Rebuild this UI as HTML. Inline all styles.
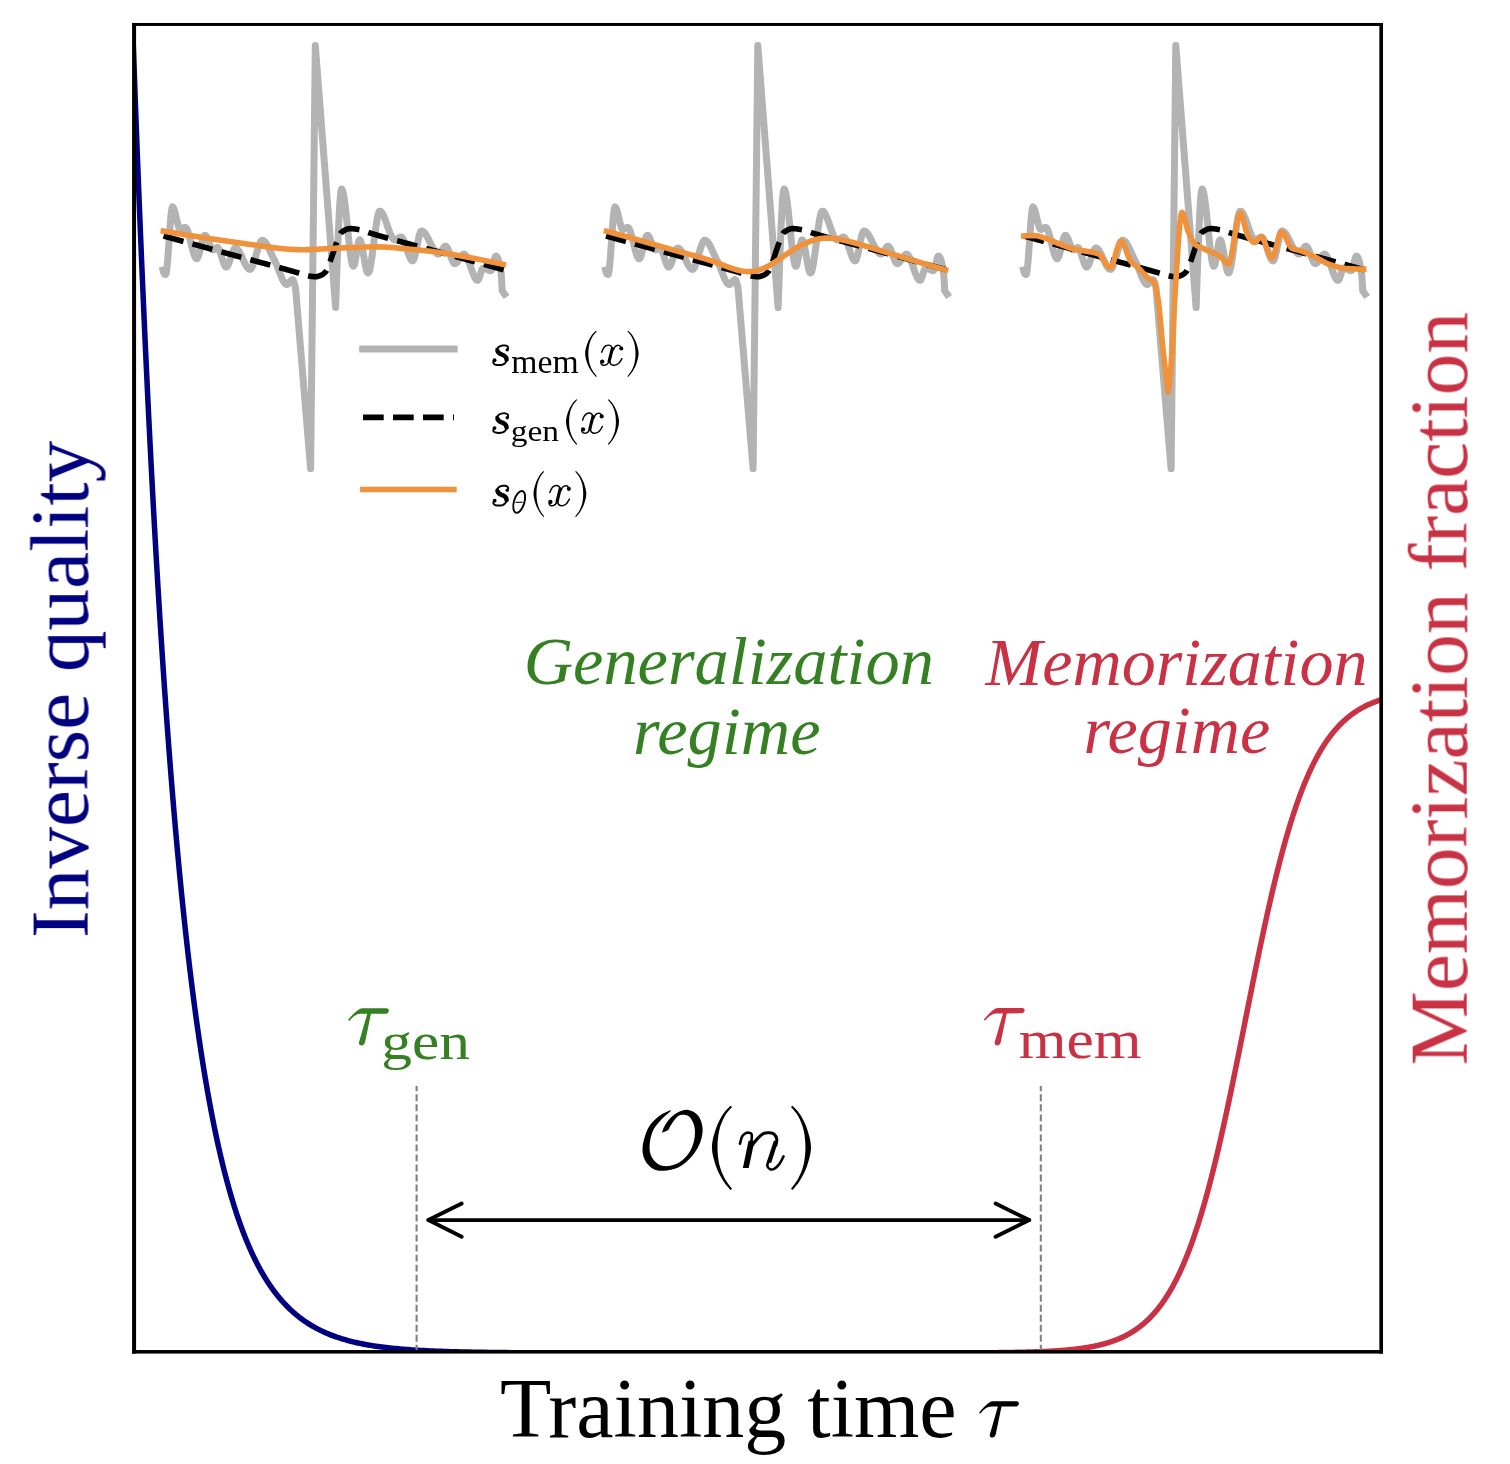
<!DOCTYPE html><html><head><meta charset="utf-8"><style>html,body{margin:0;padding:0;background:#fff;}svg{display:block;}text{will-change:transform;}</style></head><body>
<svg width="1510" height="1464" viewBox="0 0 1510 1464" font-family="&quot;Liberation Serif&quot;, serif">
<rect width="1510" height="1464" fill="#fff"/>
<defs><clipPath id="ax"><rect x="134.00" y="24.45" width="1247.00" height="1327.30"/></clipPath></defs>
<g clip-path="url(#ax)" fill="none" stroke-linejoin="round">
<path d="M163.00 270.00 L163.50 272.03 L164.00 273.33 L164.50 274.08 L165.00 274.41 L165.50 274.50 L166.00 273.85 L166.50 271.35 L167.00 267.29 L167.50 261.96 L168.00 255.68 L168.50 248.75 L169.00 241.48 L169.50 234.18 L170.00 227.16 L170.50 220.73 L171.00 215.18 L171.50 210.84 L172.00 208.01 L172.50 207.00 L173.00 207.27 L173.50 208.01 L174.00 209.18 L174.50 210.68 L175.00 212.45 L175.50 214.42 L176.00 216.53 L176.50 218.68 L177.00 220.83 L177.50 222.88 L178.00 224.78 L178.50 226.46 L179.00 227.83 L179.50 228.84 L180.00 229.40 L180.50 229.49 L181.00 229.38 L181.50 229.18 L182.00 228.92 L182.50 228.61 L183.00 228.29 L183.50 227.98 L184.00 227.72 L184.50 227.52 L185.00 227.41 L185.50 227.46 L186.00 227.83 L186.50 228.51 L187.00 229.47 L187.50 230.67 L188.00 232.08 L188.50 233.67 L189.00 235.42 L189.50 237.29 L190.00 239.24 L190.50 241.26 L191.00 243.30 L191.50 245.35 L192.00 247.35 L192.50 249.29 L193.00 251.14 L193.50 252.86 L194.00 254.42 L194.50 255.79 L195.00 256.94 L195.50 257.85 L196.00 258.47 L196.50 258.77 L197.00 258.71 L197.50 258.17 L198.00 257.22 L198.50 255.90 L199.00 254.29 L199.50 252.45 L200.00 250.45 L200.50 248.34 L201.00 246.19 L201.50 244.07 L202.00 242.04 L202.50 240.16 L203.00 238.50 L203.50 237.12 L204.00 236.09 L204.50 235.46 L205.00 235.31 L205.50 235.52 L206.00 236.02 L206.50 236.75 L207.00 237.68 L207.50 238.77 L208.00 239.98 L208.50 241.27 L209.00 242.60 L209.50 243.93 L210.00 245.22 L210.50 246.43 L211.00 247.52 L211.50 248.45 L212.00 249.18 L212.50 249.68 L213.00 249.89 L213.50 249.84 L214.00 249.60 L214.50 249.25 L215.00 248.83 L215.50 248.40 L216.00 248.00 L216.50 247.69 L217.00 247.52 L217.50 247.56 L218.00 247.93 L218.50 248.60 L219.00 249.53 L219.50 250.67 L220.00 251.99 L220.50 253.44 L221.00 254.99 L221.50 256.60 L222.00 258.22 L222.50 259.82 L223.00 261.36 L223.50 262.79 L224.00 264.07 L224.50 265.18 L225.00 266.05 L225.50 266.66 L226.00 266.97 L226.50 266.94 L227.00 266.59 L227.50 265.97 L228.00 265.10 L228.50 264.03 L229.00 262.79 L229.50 261.42 L230.00 259.95 L230.50 258.43 L231.00 256.88 L231.50 255.35 L232.00 253.87 L232.50 252.47 L233.00 251.20 L233.50 250.10 L234.00 249.19 L234.50 248.51 L235.00 248.10 L235.50 248.00 L236.00 248.11 L236.50 248.35 L237.00 248.71 L237.50 249.20 L238.00 249.79 L238.50 250.48 L239.00 251.26 L239.50 252.12 L240.00 253.03 L240.50 254.01 L241.00 255.03 L241.50 256.09 L242.00 257.17 L242.50 258.26 L243.00 259.36 L243.50 260.45 L244.00 261.53 L244.50 262.58 L245.00 263.59 L245.50 264.55 L246.00 265.46 L246.50 266.30 L247.00 267.06 L247.50 267.73 L248.00 268.31 L248.50 268.77 L249.00 269.11 L249.50 269.33 L250.00 269.40 L250.50 269.26 L251.00 268.85 L251.50 268.20 L252.00 267.33 L252.50 266.27 L253.00 265.04 L253.50 263.65 L254.00 262.14 L254.50 260.53 L255.00 258.85 L255.50 257.11 L256.00 255.33 L256.50 253.56 L257.00 251.79 L257.50 250.07 L258.00 248.41 L258.50 246.84 L259.00 245.38 L259.50 244.05 L260.00 242.88 L260.50 241.89 L261.00 241.11 L261.50 240.55 L262.00 240.25 L262.50 240.21 L263.00 240.32 L263.50 240.55 L264.00 240.89 L264.50 241.33 L265.00 241.87 L265.50 242.49 L266.00 243.19 L266.50 243.97 L267.00 244.82 L267.50 245.72 L268.00 246.68 L268.50 247.67 L269.00 248.71 L269.50 249.77 L270.00 250.86 L270.50 251.96 L271.00 253.07 L271.50 254.19 L272.00 255.29 L272.50 256.38 L273.00 257.45 L273.50 258.49 L274.00 259.49 L274.50 260.45 L275.00 261.37 L275.50 262.36 L276.00 263.42 L276.50 264.56 L277.00 265.75 L277.50 267.00 L278.00 268.28 L278.50 269.58 L279.00 270.89 L279.50 272.21 L280.00 273.52 L280.50 274.81 L281.00 276.06 L281.50 277.27 L282.00 278.43 L282.50 279.52 L283.00 280.53 L283.50 281.45 L284.00 282.28 L284.50 282.99 L285.00 283.57 L285.50 284.03 L286.00 284.34 L286.50 284.49 L287.00 284.46 L287.50 284.25 L288.00 283.87 L288.50 283.38 L289.00 282.80 L289.50 282.18 L290.00 281.55 L290.50 280.95 L291.00 280.41 L291.50 279.99 L292.00 279.70 L292.50 279.60 L293.00 279.92 L293.50 280.80 L294.00 282.12 L294.50 283.75 L295.00 285.59 L295.50 287.50 L310.60 468.60 L315.30 45.40 L335.60 307.60 L336.10 293.24 L336.60 278.93 L337.10 264.92 L337.60 251.41 L338.10 238.65 L338.60 226.85 L339.10 216.25 L339.60 207.06 L340.10 199.53 L340.60 193.88 L341.10 190.32 L341.60 189.10 L342.10 189.51 L342.60 190.68 L343.10 192.55 L343.60 195.04 L344.11 198.07 L344.61 201.59 L345.11 205.51 L345.61 209.78 L346.11 214.31 L346.61 219.04 L347.11 223.89 L347.61 228.80 L348.11 233.70 L348.61 238.51 L349.11 243.16 L349.61 247.59 L350.11 251.71 L350.61 255.47 L351.11 258.79 L351.61 261.60 L352.11 263.83 L352.61 265.41 L353.11 266.26 L353.61 266.31 L354.11 265.43 L354.61 263.75 L355.11 261.44 L355.61 258.66 L356.11 255.58 L356.61 252.38 L357.11 249.21 L357.61 246.24 L358.11 243.65 L358.61 241.60 L359.11 240.26 L359.61 239.80 L360.11 240.16 L360.62 241.14 L361.12 242.65 L361.62 244.62 L362.12 246.95 L362.62 249.57 L363.12 252.38 L363.62 255.31 L364.12 258.28 L364.62 261.18 L365.12 263.96 L365.62 266.51 L366.12 268.75 L366.62 270.60 L367.12 271.98 L367.62 272.80 L368.12 272.98 L368.62 272.51 L369.12 271.43 L369.62 269.82 L370.12 267.72 L370.62 265.19 L371.12 262.30 L371.62 259.09 L372.12 255.62 L372.62 251.95 L373.12 248.13 L373.62 244.23 L374.12 240.30 L374.62 236.39 L375.12 232.56 L375.62 228.87 L376.12 225.38 L376.62 222.13 L377.12 219.20 L377.63 216.63 L378.13 214.49 L378.63 212.82 L379.13 211.68 L379.63 211.14 L380.13 211.14 L380.63 211.35 L381.13 211.74 L381.63 212.29 L382.13 212.98 L382.63 213.80 L383.13 214.75 L383.63 215.80 L384.13 216.95 L384.63 218.18 L385.13 219.48 L385.63 220.84 L386.13 222.24 L386.63 223.66 L387.13 225.11 L387.63 226.56 L388.13 228.00 L388.63 229.42 L389.13 230.81 L389.63 232.15 L390.13 233.42 L390.63 234.63 L391.13 235.75 L391.63 236.77 L392.13 237.68 L392.63 238.46 L393.13 239.11 L393.63 239.60 L394.14 239.93 L394.64 240.09 L395.14 240.07 L395.64 239.95 L396.14 239.73 L396.64 239.45 L397.14 239.11 L397.64 238.75 L398.14 238.37 L398.64 238.01 L399.14 237.67 L399.64 237.38 L400.14 237.16 L400.64 237.03 L401.14 237.01 L401.64 237.21 L402.14 237.65 L402.64 238.30 L403.14 239.14 L403.64 240.15 L404.14 241.31 L404.64 242.59 L405.14 243.96 L405.64 245.42 L406.14 246.93 L406.64 248.46 L407.14 250.01 L407.64 251.54 L408.14 253.03 L408.64 254.46 L409.14 255.80 L409.64 257.04 L410.14 258.14 L410.65 259.09 L411.15 259.87 L411.65 260.44 L412.15 260.79 L412.65 260.90 L413.15 260.57 L413.65 259.75 L414.15 258.50 L414.65 256.87 L415.15 254.93 L415.65 252.75 L416.15 250.40 L416.65 247.92 L417.15 245.40 L417.65 242.89 L418.15 240.45 L418.65 238.16 L419.15 236.07 L419.65 234.25 L420.15 232.76 L420.65 231.67 L421.15 231.03 L421.65 230.91 L422.15 231.00 L422.65 231.20 L423.15 231.51 L423.65 231.91 L424.15 232.40 L424.65 232.98 L425.15 233.62 L425.65 234.34 L426.15 235.12 L426.65 235.95 L427.15 236.83 L427.66 237.75 L428.16 238.71 L428.66 239.69 L429.16 240.69 L429.66 241.70 L430.16 242.72 L430.66 243.73 L431.16 244.74 L431.66 245.73 L432.16 246.70 L432.66 247.64 L433.16 248.55 L433.66 249.41 L434.16 250.22 L434.66 250.97 L435.16 251.66 L435.66 252.28 L436.16 252.82 L436.66 253.27 L437.16 253.63 L437.66 253.90 L438.16 254.06 L438.66 254.10 L439.16 253.95 L439.66 253.59 L440.16 253.05 L440.66 252.38 L441.16 251.61 L441.66 250.77 L442.16 249.90 L442.66 249.04 L443.16 248.23 L443.66 247.50 L444.17 246.88 L444.67 246.42 L445.17 246.15 L445.67 246.12 L446.17 246.36 L446.67 246.86 L447.17 247.59 L447.67 248.51 L448.17 249.59 L448.67 250.81 L449.17 252.12 L449.67 253.50 L450.17 254.90 L450.67 256.31 L451.17 257.68 L451.67 258.99 L452.17 260.19 L452.67 261.27 L453.17 262.18 L453.67 262.89 L454.17 263.37 L454.67 263.59 L455.17 263.55 L455.67 263.36 L456.17 263.03 L456.67 262.58 L457.17 262.03 L457.67 261.40 L458.17 260.70 L458.67 259.97 L459.17 259.20 L459.67 258.43 L460.17 257.66 L460.68 256.93 L461.18 256.24 L461.68 255.61 L462.18 255.07 L462.68 254.63 L463.18 254.31 L463.68 254.13 L464.18 254.11 L464.68 254.29 L465.18 254.67 L465.68 255.22 L466.18 255.93 L466.68 256.80 L467.18 257.79 L467.68 258.90 L468.18 260.10 L468.68 261.39 L469.18 262.75 L469.68 264.15 L470.18 265.59 L470.68 267.05 L471.18 268.51 L471.68 269.96 L472.18 271.37 L472.68 272.74 L473.18 274.05 L473.68 275.28 L474.18 276.42 L474.68 277.44 L475.18 278.34 L475.68 279.10 L476.18 279.70 L476.68 280.12 L477.18 280.36 L477.69 280.36 L478.19 279.92 L478.69 279.05 L479.19 277.84 L479.69 276.41 L480.19 274.84 L480.69 273.22 L481.19 271.67 L481.69 270.26 L482.19 269.10 L482.69 268.29 L483.19 267.91 L483.69 267.92 L484.19 268.01 L484.69 268.16 L485.19 268.35 L485.69 268.59 L486.19 268.85 L486.69 269.12 L487.19 269.41 L487.69 269.69 L488.19 269.95 L488.69 270.19 L489.19 270.40 L489.69 270.56 L490.19 270.66 L490.69 270.70 L491.19 270.34 L491.69 269.35 L492.19 267.87 L492.69 266.05 L493.19 264.04 L493.69 261.98 L494.20 260.03 L494.70 258.32 L495.20 257.01 L495.70 256.24 L496.20 256.13 L496.70 256.43 L497.20 257.06 L497.70 258.03 L498.20 259.30 L498.70 260.89 L499.20 262.79 L499.70 264.97 L500.20 267.45 L500.70 270.21 L501.20 273.73 L501.70 281.39 L502.20 290.80 L504.60 294.20" stroke="#B3B3B3" stroke-width="7" stroke-linecap="square"/>
<path d="M163.50 236.00 L164.00 236.14 L164.50 236.27 L165.00 236.41 L165.50 236.55 L166.00 236.68 L166.50 236.82 L167.00 236.96 L167.50 237.09 L168.00 237.23 L168.50 237.37 L169.00 237.51 L169.50 237.64 L170.00 237.78 L170.50 237.92 L171.00 238.05 L171.50 238.19 L172.00 238.33 L172.51 238.46 L173.01 238.60 L173.51 238.74 L174.01 238.87 L174.51 239.01 L175.01 239.15 L175.51 239.29 L176.01 239.42 L176.51 239.56 L177.01 239.70 L177.51 239.83 L178.01 239.97 L178.51 240.11 L179.01 240.24 L179.51 240.38 L180.01 240.52 L180.51 240.65 L181.01 240.79 L181.51 240.93 L182.01 241.06 L182.51 241.20 L183.01 241.34 L183.51 241.48 L184.01 241.61 L184.51 241.75 L185.01 241.89 L185.51 242.02 L186.01 242.16 L186.51 242.30 L187.01 242.43 L187.51 242.57 L188.01 242.71 L188.51 242.84 L189.01 242.98 L189.52 243.12 L190.02 243.26 L190.52 243.39 L191.02 243.53 L191.52 243.67 L192.02 243.80 L192.52 243.94 L193.02 244.08 L193.52 244.21 L194.02 244.35 L194.52 244.49 L195.02 244.62 L195.52 244.76 L196.02 244.90 L196.52 245.04 L197.02 245.17 L197.52 245.31 L198.02 245.45 L198.52 245.58 L199.02 245.72 L199.52 245.86 L200.02 245.99 L200.52 246.13 L201.02 246.27 L201.52 246.40 L202.02 246.54 L202.52 246.68 L203.02 246.82 L203.52 246.95 L204.02 247.09 L204.52 247.23 L205.02 247.36 L205.52 247.50 L206.03 247.64 L206.53 247.77 L207.03 247.91 L207.53 248.05 L208.03 248.18 L208.53 248.32 L209.03 248.46 L209.53 248.60 L210.03 248.73 L210.53 248.87 L211.03 249.01 L211.53 249.14 L212.03 249.28 L212.53 249.42 L213.03 249.55 L213.53 249.69 L214.03 249.83 L214.53 249.96 L215.03 250.10 L215.53 250.24 L216.03 250.38 L216.53 250.51 L217.03 250.65 L217.53 250.79 L218.03 250.92 L218.53 251.06 L219.03 251.20 L219.53 251.33 L220.03 251.47 L220.53 251.61 L221.03 251.75 L221.53 251.88 L222.03 252.02 L222.53 252.16 L223.03 252.29 L223.54 252.43 L224.04 252.57 L224.54 252.70 L225.04 252.84 L225.54 252.98 L226.04 253.11 L226.54 253.25 L227.04 253.39 L227.54 253.53 L228.04 253.66 L228.54 253.80 L229.04 253.94 L229.54 254.07 L230.04 254.21 L230.54 254.35 L231.04 254.48 L231.54 254.62 L232.04 254.76 L232.54 254.89 L233.04 255.03 L233.54 255.17 L234.04 255.30 L234.54 255.44 L235.04 255.58 L235.54 255.71 L236.04 255.85 L236.54 255.98 L237.04 256.12 L237.54 256.26 L238.04 256.39 L238.54 256.53 L239.04 256.66 L239.54 256.80 L240.04 256.93 L240.55 257.07 L241.05 257.20 L241.55 257.34 L242.05 257.47 L242.55 257.61 L243.05 257.74 L243.55 257.88 L244.05 258.01 L244.55 258.15 L245.05 258.28 L245.55 258.42 L246.05 258.55 L246.55 258.69 L247.05 258.82 L247.55 258.96 L248.05 259.09 L248.55 259.23 L249.05 259.36 L249.55 259.50 L250.05 259.63 L250.55 259.77 L251.05 259.90 L251.55 260.04 L252.05 260.17 L252.55 260.31 L253.05 260.44 L253.55 260.58 L254.05 260.71 L254.55 260.85 L255.05 260.98 L255.55 261.12 L256.05 261.25 L256.55 261.38 L257.06 261.52 L257.56 261.65 L258.06 261.79 L258.56 261.92 L259.06 262.06 L259.56 262.19 L260.06 262.33 L260.56 262.46 L261.06 262.60 L261.56 262.73 L262.06 262.87 L262.56 263.00 L263.06 263.14 L263.56 263.27 L264.06 263.41 L264.56 263.54 L265.06 263.68 L265.56 263.82 L266.06 263.95 L266.56 264.09 L267.06 264.22 L267.56 264.36 L268.06 264.49 L268.56 264.63 L269.06 264.76 L269.56 264.90 L270.06 265.04 L270.56 265.17 L271.06 265.31 L271.56 265.44 L272.06 265.58 L272.56 265.72 L273.06 265.85 L273.56 265.99 L274.06 266.13 L274.57 266.26 L275.07 266.40 L275.57 266.54 L276.07 266.67 L276.57 266.81 L277.07 266.95 L277.57 267.09 L278.07 267.22 L278.57 267.36 L279.07 267.50 L279.57 267.64 L280.07 267.77 L280.57 267.91 L281.07 268.05 L281.57 268.19 L282.07 268.33 L282.57 268.47 L283.07 268.60 L283.57 268.74 L284.07 268.88 L284.57 269.02 L285.07 269.16 L285.57 269.30 L286.07 269.44 L286.57 269.58 L287.07 269.72 L287.57 269.86 L288.07 270.00 L288.57 270.14 L289.07 270.28 L289.57 270.42 L290.07 270.56 L290.57 270.70 L291.07 270.84 L291.58 270.98 L292.08 271.12 L292.58 271.27 L293.08 271.41 L293.58 271.55 L294.08 271.69 L294.58 271.83 L295.08 271.98 L295.58 272.12 L296.08 272.26 L296.58 272.41 L297.08 272.55 L297.58 272.69 L298.08 272.84 L298.58 272.98 L299.08 273.12 L299.58 273.27 L300.08 273.43 L300.58 273.59 L301.08 273.76 L301.58 273.93 L302.08 274.11 L302.58 274.28 L303.08 274.46 L303.58 274.63 L304.08 274.81 L304.58 274.97 L305.08 275.14 L305.58 275.29 L306.08 275.44 L306.58 275.58 L307.08 275.71 L307.58 275.83 L308.08 275.93 L308.59 276.02 L309.09 276.10 L309.59 276.17 L310.09 276.23 L310.59 276.30 L311.09 276.36 L311.59 276.42 L312.09 276.48 L312.59 276.53 L313.09 276.58 L313.59 276.62 L314.09 276.65 L314.59 276.68 L315.09 276.69 L315.59 276.70 L316.09 276.69 L316.59 276.64 L317.09 276.56 L317.59 276.44 L318.09 276.31 L318.59 276.15 L319.09 275.97 L319.59 275.78 L320.09 275.58 L320.59 275.37 L321.09 275.16 L321.59 274.93 L322.09 274.67 L322.59 274.37 L323.09 274.04 L323.59 273.67 L324.09 273.26 L324.59 272.81 L325.10 272.32 L325.60 271.78 L326.10 271.21 L326.60 270.48 L327.10 269.54 L327.60 268.43 L328.10 267.17 L328.60 265.82 L329.10 264.42 L329.60 263.00 L330.10 261.61 L330.60 260.27 L331.10 258.89 L331.60 257.44 L332.10 255.94 L332.60 254.42 L333.10 252.87 L333.60 251.32 L334.10 249.78 L334.60 248.27 L335.10 246.81 L335.60 245.40 L336.10 244.06 L336.60 242.79 L337.10 241.49 L337.60 240.16 L338.10 238.83 L338.60 237.52 L339.10 236.29 L339.60 235.15 L340.10 234.15 L340.60 233.31 L341.10 232.67 L341.60 232.24 L342.11 231.87 L342.61 231.51 L343.11 231.17 L343.61 230.84 L344.11 230.53 L344.61 230.24 L345.11 229.97 L345.61 229.72 L346.11 229.50 L346.61 229.30 L347.11 229.12 L347.61 228.96 L348.11 228.83 L348.61 228.73 L349.11 228.66 L349.61 228.61 L350.11 228.60 L350.61 228.61 L351.11 228.62 L351.61 228.64 L352.11 228.67 L352.61 228.71 L353.11 228.76 L353.61 228.81 L354.11 228.87 L354.61 228.93 L355.11 229.00 L355.61 229.07 L356.11 229.15 L356.61 229.23 L357.11 229.31 L357.61 229.39 L358.11 229.48 L358.61 229.57 L359.12 229.65 L359.62 229.74 L360.12 229.84 L360.62 229.95 L361.12 230.07 L361.62 230.21 L362.12 230.35 L362.62 230.51 L363.12 230.67 L363.62 230.84 L364.12 231.01 L364.62 231.19 L365.12 231.37 L365.62 231.55 L366.12 231.74 L366.62 231.92 L367.12 232.10 L367.62 232.28 L368.12 232.45 L368.62 232.63 L369.12 232.79 L369.62 232.95 L370.12 233.10 L370.62 233.25 L371.12 233.39 L371.62 233.54 L372.12 233.69 L372.62 233.84 L373.12 233.99 L373.62 234.13 L374.12 234.28 L374.62 234.43 L375.12 234.57 L375.62 234.72 L376.12 234.86 L376.63 235.01 L377.13 235.15 L377.63 235.30 L378.13 235.44 L378.63 235.59 L379.13 235.73 L379.63 235.87 L380.13 236.02 L380.63 236.16 L381.13 236.30 L381.63 236.44 L382.13 236.58 L382.63 236.72 L383.13 236.87 L383.63 237.01 L384.13 237.15 L384.63 237.29 L385.13 237.43 L385.63 237.57 L386.13 237.71 L386.63 237.85 L387.13 237.99 L387.63 238.12 L388.13 238.26 L388.63 238.40 L389.13 238.54 L389.63 238.68 L390.13 238.82 L390.63 238.95 L391.13 239.09 L391.63 239.23 L392.13 239.36 L392.63 239.50 L393.13 239.64 L393.64 239.77 L394.14 239.91 L394.64 240.05 L395.14 240.18 L395.64 240.32 L396.14 240.45 L396.64 240.59 L397.14 240.72 L397.64 240.86 L398.14 240.99 L398.64 241.13 L399.14 241.26 L399.64 241.40 L400.14 241.53 L400.64 241.67 L401.14 241.80 L401.64 241.93 L402.14 242.07 L402.64 242.20 L403.14 242.34 L403.64 242.47 L404.14 242.60 L404.64 242.74 L405.14 242.87 L405.64 243.00 L406.14 243.14 L406.64 243.27 L407.14 243.40 L407.64 243.54 L408.14 243.67 L408.64 243.80 L409.14 243.94 L409.64 244.07 L410.14 244.20 L410.65 244.33 L411.15 244.47 L411.65 244.60 L412.15 244.73 L412.65 244.87 L413.15 245.00 L413.65 245.13 L414.15 245.26 L414.65 245.40 L415.15 245.53 L415.65 245.66 L416.15 245.79 L416.65 245.93 L417.15 246.06 L417.65 246.19 L418.15 246.33 L418.65 246.46 L419.15 246.59 L419.65 246.72 L420.15 246.86 L420.65 246.99 L421.15 247.12 L421.65 247.26 L422.15 247.39 L422.65 247.52 L423.15 247.66 L423.65 247.79 L424.15 247.92 L424.65 248.06 L425.15 248.19 L425.65 248.33 L426.15 248.46 L426.65 248.59 L427.15 248.73 L427.66 248.86 L428.16 249.00 L428.66 249.13 L429.16 249.27 L429.66 249.40 L430.16 249.54 L430.66 249.67 L431.16 249.81 L431.66 249.94 L432.16 250.08 L432.66 250.21 L433.16 250.35 L433.66 250.49 L434.16 250.62 L434.66 250.76 L435.16 250.90 L435.66 251.03 L436.16 251.17 L436.66 251.31 L437.16 251.44 L437.66 251.58 L438.16 251.72 L438.66 251.86 L439.16 251.99 L439.66 252.13 L440.16 252.27 L440.66 252.41 L441.16 252.54 L441.66 252.68 L442.16 252.82 L442.66 252.96 L443.16 253.09 L443.66 253.23 L444.16 253.37 L444.67 253.51 L445.17 253.65 L445.67 253.78 L446.17 253.92 L446.67 254.06 L447.17 254.20 L447.67 254.33 L448.17 254.47 L448.67 254.61 L449.17 254.75 L449.67 254.88 L450.17 255.02 L450.67 255.16 L451.17 255.30 L451.67 255.43 L452.17 255.57 L452.67 255.71 L453.17 255.85 L453.67 255.99 L454.17 256.12 L454.67 256.26 L455.17 256.40 L455.67 256.54 L456.17 256.67 L456.67 256.81 L457.17 256.95 L457.67 257.09 L458.17 257.23 L458.67 257.36 L459.17 257.50 L459.67 257.64 L460.17 257.78 L460.67 257.92 L461.17 258.05 L461.68 258.19 L462.18 258.33 L462.68 258.47 L463.18 258.60 L463.68 258.74 L464.18 258.88 L464.68 259.02 L465.18 259.16 L465.68 259.29 L466.18 259.43 L466.68 259.57 L467.18 259.71 L467.68 259.85 L468.18 259.98 L468.68 260.12 L469.18 260.26 L469.68 260.40 L470.18 260.54 L470.68 260.67 L471.18 260.81 L471.68 260.95 L472.18 261.09 L472.68 261.23 L473.18 261.36 L473.68 261.50 L474.18 261.64 L474.68 261.78 L475.18 261.92 L475.68 262.05 L476.18 262.19 L476.68 262.33 L477.18 262.47 L477.68 262.61 L478.18 262.75 L478.69 262.88 L479.19 263.02 L479.69 263.16 L480.19 263.30 L480.69 263.44 L481.19 263.57 L481.69 263.71 L482.19 263.85 L482.69 263.99 L483.19 264.13 L483.69 264.27 L484.19 264.40 L484.69 264.54 L485.19 264.68 L485.69 264.82 L486.19 264.96 L486.69 265.09 L487.19 265.23 L487.69 265.37 L488.19 265.51 L488.69 265.65 L489.19 265.79 L489.69 265.92 L490.19 266.06 L490.69 266.20 L491.19 266.34 L491.69 266.48 L492.19 266.62 L492.69 266.75 L493.19 266.89 L493.69 267.03 L494.19 267.17 L494.69 267.31 L495.19 267.45 L495.70 267.58 L496.20 267.72 L496.70 267.86 L497.20 268.00 L497.70 268.14 L498.20 268.28 L498.70 268.42 L499.20 268.55 L499.70 268.69 L500.20 268.83 L500.70 268.97 L501.20 269.11 L501.70 269.25 L502.20 269.38 L502.70 269.52 L503.20 269.66 L503.70 269.80" stroke="#000" stroke-width="5.6" stroke-dasharray="20.7 9.3" stroke-linecap="butt"/>
<path d="M605.50 270.00 L606.00 272.03 L606.50 273.33 L607.00 274.08 L607.50 274.41 L608.00 274.50 L608.50 273.85 L609.00 271.35 L609.50 267.29 L610.00 261.96 L610.50 255.68 L611.00 248.75 L611.50 241.48 L612.00 234.18 L612.50 227.16 L613.00 220.73 L613.50 215.18 L614.00 210.84 L614.50 208.01 L615.00 207.00 L615.50 207.27 L616.00 208.01 L616.50 209.18 L617.00 210.68 L617.50 212.45 L618.00 214.42 L618.50 216.53 L619.00 218.68 L619.50 220.83 L620.00 222.88 L620.50 224.78 L621.00 226.46 L621.50 227.83 L622.00 228.84 L622.50 229.40 L623.00 229.49 L623.50 229.38 L624.00 229.18 L624.50 228.92 L625.00 228.61 L625.50 228.29 L626.00 227.98 L626.50 227.72 L627.00 227.52 L627.50 227.41 L628.00 227.46 L628.50 227.83 L629.00 228.51 L629.50 229.47 L630.00 230.67 L630.50 232.08 L631.00 233.67 L631.50 235.42 L632.00 237.29 L632.50 239.24 L633.00 241.26 L633.50 243.30 L634.00 245.35 L634.50 247.35 L635.00 249.29 L635.50 251.14 L636.00 252.86 L636.50 254.42 L637.00 255.79 L637.50 256.94 L638.00 257.85 L638.50 258.47 L639.00 258.77 L639.50 258.71 L640.00 258.17 L640.50 257.22 L641.00 255.90 L641.50 254.29 L642.00 252.45 L642.50 250.45 L643.00 248.34 L643.50 246.19 L644.00 244.07 L644.50 242.04 L645.00 240.16 L645.50 238.50 L646.00 237.12 L646.50 236.09 L647.00 235.46 L647.50 235.31 L648.00 235.52 L648.50 236.02 L649.00 236.75 L649.50 237.68 L650.00 238.77 L650.50 239.98 L651.00 241.27 L651.50 242.60 L652.00 243.93 L652.50 245.22 L653.00 246.43 L653.50 247.52 L654.00 248.45 L654.50 249.18 L655.00 249.68 L655.50 249.89 L656.00 249.84 L656.50 249.60 L657.00 249.25 L657.50 248.83 L658.00 248.40 L658.50 248.00 L659.00 247.69 L659.50 247.52 L660.00 247.56 L660.50 247.93 L661.00 248.60 L661.50 249.53 L662.00 250.67 L662.50 251.99 L663.00 253.44 L663.50 254.99 L664.00 256.60 L664.50 258.22 L665.00 259.82 L665.50 261.36 L666.00 262.79 L666.50 264.07 L667.00 265.18 L667.50 266.05 L668.00 266.66 L668.50 266.97 L669.00 266.94 L669.50 266.59 L670.00 265.97 L670.50 265.10 L671.00 264.03 L671.50 262.79 L672.00 261.42 L672.50 259.95 L673.00 258.43 L673.50 256.88 L674.00 255.35 L674.50 253.87 L675.00 252.47 L675.50 251.20 L676.00 250.10 L676.50 249.19 L677.00 248.51 L677.50 248.10 L678.00 248.00 L678.50 248.11 L679.00 248.35 L679.50 248.71 L680.00 249.20 L680.50 249.79 L681.00 250.48 L681.50 251.26 L682.00 252.12 L682.50 253.03 L683.00 254.01 L683.50 255.03 L684.00 256.09 L684.50 257.17 L685.00 258.26 L685.50 259.36 L686.00 260.45 L686.50 261.53 L687.00 262.58 L687.50 263.59 L688.00 264.55 L688.50 265.46 L689.00 266.30 L689.50 267.06 L690.00 267.73 L690.50 268.31 L691.00 268.77 L691.50 269.11 L692.00 269.33 L692.50 269.40 L693.00 269.26 L693.50 268.85 L694.00 268.20 L694.50 267.33 L695.00 266.27 L695.50 265.04 L696.00 263.65 L696.50 262.14 L697.00 260.53 L697.50 258.85 L698.00 257.11 L698.50 255.33 L699.00 253.56 L699.50 251.79 L700.00 250.07 L700.50 248.41 L701.00 246.84 L701.50 245.38 L702.00 244.05 L702.50 242.88 L703.00 241.89 L703.50 241.11 L704.00 240.55 L704.50 240.25 L705.00 240.21 L705.50 240.32 L706.00 240.55 L706.50 240.89 L707.00 241.33 L707.50 241.87 L708.00 242.49 L708.50 243.19 L709.00 243.97 L709.50 244.82 L710.00 245.72 L710.50 246.68 L711.00 247.67 L711.50 248.71 L712.00 249.77 L712.50 250.86 L713.00 251.96 L713.50 253.07 L714.00 254.19 L714.50 255.29 L715.00 256.38 L715.50 257.45 L716.00 258.49 L716.50 259.49 L717.00 260.45 L717.50 261.37 L718.00 262.36 L718.50 263.42 L719.00 264.56 L719.50 265.75 L720.00 267.00 L720.50 268.28 L721.00 269.58 L721.50 270.89 L722.00 272.21 L722.50 273.52 L723.00 274.81 L723.50 276.06 L724.00 277.27 L724.50 278.43 L725.00 279.52 L725.50 280.53 L726.00 281.45 L726.50 282.28 L727.00 282.99 L727.50 283.57 L728.00 284.03 L728.50 284.34 L729.00 284.49 L729.50 284.46 L730.00 284.25 L730.50 283.87 L731.00 283.38 L731.50 282.80 L732.00 282.18 L732.50 281.55 L733.00 280.95 L733.50 280.41 L734.00 279.99 L734.50 279.70 L735.00 279.60 L735.50 279.92 L736.00 280.80 L736.50 282.12 L737.00 283.75 L737.50 285.59 L738.00 287.50 L753.10 468.60 L757.80 45.40 L778.10 307.60 L778.60 293.24 L779.10 278.93 L779.60 264.92 L780.10 251.41 L780.60 238.65 L781.10 226.85 L781.60 216.25 L782.10 207.06 L782.60 199.53 L783.10 193.88 L783.60 190.32 L784.10 189.10 L784.60 189.51 L785.10 190.68 L785.60 192.55 L786.10 195.04 L786.61 198.07 L787.11 201.59 L787.61 205.51 L788.11 209.78 L788.61 214.31 L789.11 219.04 L789.61 223.89 L790.11 228.80 L790.61 233.70 L791.11 238.51 L791.61 243.16 L792.11 247.59 L792.61 251.71 L793.11 255.47 L793.61 258.79 L794.11 261.60 L794.61 263.83 L795.11 265.41 L795.61 266.26 L796.11 266.31 L796.61 265.43 L797.11 263.75 L797.61 261.44 L798.11 258.66 L798.61 255.58 L799.11 252.38 L799.61 249.21 L800.11 246.24 L800.61 243.65 L801.11 241.60 L801.61 240.26 L802.11 239.80 L802.61 240.16 L803.12 241.14 L803.62 242.65 L804.12 244.62 L804.62 246.95 L805.12 249.57 L805.62 252.38 L806.12 255.31 L806.62 258.28 L807.12 261.18 L807.62 263.96 L808.12 266.51 L808.62 268.75 L809.12 270.60 L809.62 271.98 L810.12 272.80 L810.62 272.98 L811.12 272.51 L811.62 271.43 L812.12 269.82 L812.62 267.72 L813.12 265.19 L813.62 262.30 L814.12 259.09 L814.62 255.62 L815.12 251.95 L815.62 248.13 L816.12 244.23 L816.62 240.30 L817.12 236.39 L817.62 232.56 L818.12 228.87 L818.62 225.38 L819.12 222.13 L819.62 219.20 L820.13 216.63 L820.63 214.49 L821.13 212.82 L821.63 211.68 L822.13 211.14 L822.63 211.14 L823.13 211.35 L823.63 211.74 L824.13 212.29 L824.63 212.98 L825.13 213.80 L825.63 214.75 L826.13 215.80 L826.63 216.95 L827.13 218.18 L827.63 219.48 L828.13 220.84 L828.63 222.24 L829.13 223.66 L829.63 225.11 L830.13 226.56 L830.63 228.00 L831.13 229.42 L831.63 230.81 L832.13 232.15 L832.63 233.42 L833.13 234.63 L833.63 235.75 L834.13 236.77 L834.63 237.68 L835.13 238.46 L835.63 239.11 L836.13 239.60 L836.64 239.93 L837.14 240.09 L837.64 240.07 L838.14 239.95 L838.64 239.73 L839.14 239.45 L839.64 239.11 L840.14 238.75 L840.64 238.37 L841.14 238.01 L841.64 237.67 L842.14 237.38 L842.64 237.16 L843.14 237.03 L843.64 237.01 L844.14 237.21 L844.64 237.65 L845.14 238.30 L845.64 239.14 L846.14 240.15 L846.64 241.31 L847.14 242.59 L847.64 243.96 L848.14 245.42 L848.64 246.93 L849.14 248.46 L849.64 250.01 L850.14 251.54 L850.64 253.03 L851.14 254.46 L851.64 255.80 L852.14 257.04 L852.64 258.14 L853.15 259.09 L853.65 259.87 L854.15 260.44 L854.65 260.79 L855.15 260.90 L855.65 260.57 L856.15 259.75 L856.65 258.50 L857.15 256.87 L857.65 254.93 L858.15 252.75 L858.65 250.40 L859.15 247.92 L859.65 245.40 L860.15 242.89 L860.65 240.45 L861.15 238.16 L861.65 236.07 L862.15 234.25 L862.65 232.76 L863.15 231.67 L863.65 231.03 L864.15 230.91 L864.65 231.00 L865.15 231.20 L865.65 231.51 L866.15 231.91 L866.65 232.40 L867.15 232.98 L867.65 233.62 L868.15 234.34 L868.65 235.12 L869.15 235.95 L869.65 236.83 L870.16 237.75 L870.66 238.71 L871.16 239.69 L871.66 240.69 L872.16 241.70 L872.66 242.72 L873.16 243.73 L873.66 244.74 L874.16 245.73 L874.66 246.70 L875.16 247.64 L875.66 248.55 L876.16 249.41 L876.66 250.22 L877.16 250.97 L877.66 251.66 L878.16 252.28 L878.66 252.82 L879.16 253.27 L879.66 253.63 L880.16 253.90 L880.66 254.06 L881.16 254.10 L881.66 253.95 L882.16 253.59 L882.66 253.05 L883.16 252.38 L883.66 251.61 L884.16 250.77 L884.66 249.90 L885.16 249.04 L885.66 248.23 L886.16 247.50 L886.67 246.88 L887.17 246.42 L887.67 246.15 L888.17 246.12 L888.67 246.36 L889.17 246.86 L889.67 247.59 L890.17 248.51 L890.67 249.59 L891.17 250.81 L891.67 252.12 L892.17 253.50 L892.67 254.90 L893.17 256.31 L893.67 257.68 L894.17 258.99 L894.67 260.19 L895.17 261.27 L895.67 262.18 L896.17 262.89 L896.67 263.37 L897.17 263.59 L897.67 263.55 L898.17 263.36 L898.67 263.03 L899.17 262.58 L899.67 262.03 L900.17 261.40 L900.67 260.70 L901.17 259.97 L901.67 259.20 L902.17 258.43 L902.67 257.66 L903.18 256.93 L903.68 256.24 L904.18 255.61 L904.68 255.07 L905.18 254.63 L905.68 254.31 L906.18 254.13 L906.68 254.11 L907.18 254.29 L907.68 254.67 L908.18 255.22 L908.68 255.93 L909.18 256.80 L909.68 257.79 L910.18 258.90 L910.68 260.10 L911.18 261.39 L911.68 262.75 L912.18 264.15 L912.68 265.59 L913.18 267.05 L913.68 268.51 L914.18 269.96 L914.68 271.37 L915.18 272.74 L915.68 274.05 L916.18 275.28 L916.68 276.42 L917.18 277.44 L917.68 278.34 L918.18 279.10 L918.68 279.70 L919.18 280.12 L919.68 280.36 L920.19 280.36 L920.69 279.92 L921.19 279.05 L921.69 277.84 L922.19 276.41 L922.69 274.84 L923.19 273.22 L923.69 271.67 L924.19 270.26 L924.69 269.10 L925.19 268.29 L925.69 267.91 L926.19 267.92 L926.69 268.01 L927.19 268.16 L927.69 268.35 L928.19 268.59 L928.69 268.85 L929.19 269.12 L929.69 269.41 L930.19 269.69 L930.69 269.95 L931.19 270.19 L931.69 270.40 L932.19 270.56 L932.69 270.66 L933.19 270.70 L933.69 270.34 L934.19 269.35 L934.69 267.87 L935.19 266.05 L935.69 264.04 L936.19 261.98 L936.70 260.03 L937.20 258.32 L937.70 257.01 L938.20 256.24 L938.70 256.13 L939.20 256.43 L939.70 257.06 L940.20 258.03 L940.70 259.30 L941.20 260.89 L941.70 262.79 L942.20 264.97 L942.70 267.45 L943.20 270.21 L943.70 273.73 L944.20 281.39 L944.70 290.80 L947.10 294.20" stroke="#B3B3B3" stroke-width="7" stroke-linecap="square"/>
<path d="M606.00 236.00 L606.50 236.14 L607.00 236.27 L607.50 236.41 L608.00 236.55 L608.50 236.68 L609.00 236.82 L609.50 236.96 L610.00 237.09 L610.50 237.23 L611.00 237.37 L611.50 237.51 L612.00 237.64 L612.50 237.78 L613.00 237.92 L613.50 238.05 L614.00 238.19 L614.50 238.33 L615.01 238.46 L615.51 238.60 L616.01 238.74 L616.51 238.87 L617.01 239.01 L617.51 239.15 L618.01 239.29 L618.51 239.42 L619.01 239.56 L619.51 239.70 L620.01 239.83 L620.51 239.97 L621.01 240.11 L621.51 240.24 L622.01 240.38 L622.51 240.52 L623.01 240.65 L623.51 240.79 L624.01 240.93 L624.51 241.06 L625.01 241.20 L625.51 241.34 L626.01 241.48 L626.51 241.61 L627.01 241.75 L627.51 241.89 L628.01 242.02 L628.51 242.16 L629.01 242.30 L629.51 242.43 L630.01 242.57 L630.51 242.71 L631.01 242.84 L631.51 242.98 L632.02 243.12 L632.52 243.26 L633.02 243.39 L633.52 243.53 L634.02 243.67 L634.52 243.80 L635.02 243.94 L635.52 244.08 L636.02 244.21 L636.52 244.35 L637.02 244.49 L637.52 244.62 L638.02 244.76 L638.52 244.90 L639.02 245.04 L639.52 245.17 L640.02 245.31 L640.52 245.45 L641.02 245.58 L641.52 245.72 L642.02 245.86 L642.52 245.99 L643.02 246.13 L643.52 246.27 L644.02 246.40 L644.52 246.54 L645.02 246.68 L645.52 246.82 L646.02 246.95 L646.52 247.09 L647.02 247.23 L647.52 247.36 L648.02 247.50 L648.52 247.64 L649.03 247.77 L649.53 247.91 L650.03 248.05 L650.53 248.18 L651.03 248.32 L651.53 248.46 L652.03 248.60 L652.53 248.73 L653.03 248.87 L653.53 249.01 L654.03 249.14 L654.53 249.28 L655.03 249.42 L655.53 249.55 L656.03 249.69 L656.53 249.83 L657.03 249.96 L657.53 250.10 L658.03 250.24 L658.53 250.38 L659.03 250.51 L659.53 250.65 L660.03 250.79 L660.53 250.92 L661.03 251.06 L661.53 251.20 L662.03 251.33 L662.53 251.47 L663.03 251.61 L663.53 251.75 L664.03 251.88 L664.53 252.02 L665.03 252.16 L665.53 252.29 L666.04 252.43 L666.54 252.57 L667.04 252.70 L667.54 252.84 L668.04 252.98 L668.54 253.11 L669.04 253.25 L669.54 253.39 L670.04 253.53 L670.54 253.66 L671.04 253.80 L671.54 253.94 L672.04 254.07 L672.54 254.21 L673.04 254.35 L673.54 254.48 L674.04 254.62 L674.54 254.76 L675.04 254.89 L675.54 255.03 L676.04 255.17 L676.54 255.30 L677.04 255.44 L677.54 255.58 L678.04 255.71 L678.54 255.85 L679.04 255.98 L679.54 256.12 L680.04 256.26 L680.54 256.39 L681.04 256.53 L681.54 256.66 L682.04 256.80 L682.54 256.93 L683.05 257.07 L683.55 257.20 L684.05 257.34 L684.55 257.47 L685.05 257.61 L685.55 257.74 L686.05 257.88 L686.55 258.01 L687.05 258.15 L687.55 258.28 L688.05 258.42 L688.55 258.55 L689.05 258.69 L689.55 258.82 L690.05 258.96 L690.55 259.09 L691.05 259.23 L691.55 259.36 L692.05 259.50 L692.55 259.63 L693.05 259.77 L693.55 259.90 L694.05 260.04 L694.55 260.17 L695.05 260.31 L695.55 260.44 L696.05 260.58 L696.55 260.71 L697.05 260.85 L697.55 260.98 L698.05 261.12 L698.55 261.25 L699.05 261.38 L699.56 261.52 L700.06 261.65 L700.56 261.79 L701.06 261.92 L701.56 262.06 L702.06 262.19 L702.56 262.33 L703.06 262.46 L703.56 262.60 L704.06 262.73 L704.56 262.87 L705.06 263.00 L705.56 263.14 L706.06 263.27 L706.56 263.41 L707.06 263.54 L707.56 263.68 L708.06 263.82 L708.56 263.95 L709.06 264.09 L709.56 264.22 L710.06 264.36 L710.56 264.49 L711.06 264.63 L711.56 264.76 L712.06 264.90 L712.56 265.04 L713.06 265.17 L713.56 265.31 L714.06 265.44 L714.56 265.58 L715.06 265.72 L715.56 265.85 L716.06 265.99 L716.57 266.13 L717.07 266.26 L717.57 266.40 L718.07 266.54 L718.57 266.67 L719.07 266.81 L719.57 266.95 L720.07 267.09 L720.57 267.22 L721.07 267.36 L721.57 267.50 L722.07 267.64 L722.57 267.77 L723.07 267.91 L723.57 268.05 L724.07 268.19 L724.57 268.33 L725.07 268.47 L725.57 268.60 L726.07 268.74 L726.57 268.88 L727.07 269.02 L727.57 269.16 L728.07 269.30 L728.57 269.44 L729.07 269.58 L729.57 269.72 L730.07 269.86 L730.57 270.00 L731.07 270.14 L731.57 270.28 L732.07 270.42 L732.57 270.56 L733.07 270.70 L733.58 270.84 L734.08 270.98 L734.58 271.12 L735.08 271.27 L735.58 271.41 L736.08 271.55 L736.58 271.69 L737.08 271.83 L737.58 271.98 L738.08 272.12 L738.58 272.26 L739.08 272.41 L739.58 272.55 L740.08 272.69 L740.58 272.84 L741.08 272.98 L741.58 273.12 L742.08 273.27 L742.58 273.43 L743.08 273.59 L743.58 273.76 L744.08 273.93 L744.58 274.11 L745.08 274.28 L745.58 274.46 L746.08 274.63 L746.58 274.81 L747.08 274.97 L747.58 275.14 L748.08 275.29 L748.58 275.44 L749.08 275.58 L749.58 275.71 L750.08 275.83 L750.59 275.93 L751.09 276.02 L751.59 276.10 L752.09 276.17 L752.59 276.23 L753.09 276.30 L753.59 276.36 L754.09 276.42 L754.59 276.48 L755.09 276.53 L755.59 276.58 L756.09 276.62 L756.59 276.65 L757.09 276.68 L757.59 276.69 L758.09 276.70 L758.59 276.69 L759.09 276.64 L759.59 276.56 L760.09 276.44 L760.59 276.31 L761.09 276.15 L761.59 275.97 L762.09 275.78 L762.59 275.58 L763.09 275.37 L763.59 275.16 L764.09 274.93 L764.59 274.67 L765.09 274.37 L765.59 274.04 L766.09 273.67 L766.59 273.26 L767.09 272.81 L767.60 272.32 L768.10 271.78 L768.60 271.21 L769.10 270.48 L769.60 269.54 L770.10 268.43 L770.60 267.17 L771.10 265.82 L771.60 264.42 L772.10 263.00 L772.60 261.61 L773.10 260.27 L773.60 258.89 L774.10 257.44 L774.60 255.94 L775.10 254.42 L775.60 252.87 L776.10 251.32 L776.60 249.78 L777.10 248.27 L777.60 246.81 L778.10 245.40 L778.60 244.06 L779.10 242.79 L779.60 241.49 L780.10 240.16 L780.60 238.83 L781.10 237.52 L781.60 236.29 L782.10 235.15 L782.60 234.15 L783.10 233.31 L783.60 232.67 L784.10 232.24 L784.61 231.87 L785.11 231.51 L785.61 231.17 L786.11 230.84 L786.61 230.53 L787.11 230.24 L787.61 229.97 L788.11 229.72 L788.61 229.50 L789.11 229.30 L789.61 229.12 L790.11 228.96 L790.61 228.83 L791.11 228.73 L791.61 228.66 L792.11 228.61 L792.61 228.60 L793.11 228.61 L793.61 228.62 L794.11 228.64 L794.61 228.67 L795.11 228.71 L795.61 228.76 L796.11 228.81 L796.61 228.87 L797.11 228.93 L797.61 229.00 L798.11 229.07 L798.61 229.15 L799.11 229.23 L799.61 229.31 L800.11 229.39 L800.61 229.48 L801.11 229.57 L801.62 229.65 L802.12 229.74 L802.62 229.84 L803.12 229.95 L803.62 230.07 L804.12 230.21 L804.62 230.35 L805.12 230.51 L805.62 230.67 L806.12 230.84 L806.62 231.01 L807.12 231.19 L807.62 231.37 L808.12 231.55 L808.62 231.74 L809.12 231.92 L809.62 232.10 L810.12 232.28 L810.62 232.45 L811.12 232.63 L811.62 232.79 L812.12 232.95 L812.62 233.10 L813.12 233.25 L813.62 233.39 L814.12 233.54 L814.62 233.69 L815.12 233.84 L815.62 233.99 L816.12 234.13 L816.62 234.28 L817.12 234.43 L817.62 234.57 L818.12 234.72 L818.62 234.86 L819.13 235.01 L819.63 235.15 L820.13 235.30 L820.63 235.44 L821.13 235.59 L821.63 235.73 L822.13 235.87 L822.63 236.02 L823.13 236.16 L823.63 236.30 L824.13 236.44 L824.63 236.58 L825.13 236.72 L825.63 236.87 L826.13 237.01 L826.63 237.15 L827.13 237.29 L827.63 237.43 L828.13 237.57 L828.63 237.71 L829.13 237.85 L829.63 237.99 L830.13 238.12 L830.63 238.26 L831.13 238.40 L831.63 238.54 L832.13 238.68 L832.63 238.82 L833.13 238.95 L833.63 239.09 L834.13 239.23 L834.63 239.36 L835.13 239.50 L835.63 239.64 L836.14 239.77 L836.64 239.91 L837.14 240.05 L837.64 240.18 L838.14 240.32 L838.64 240.45 L839.14 240.59 L839.64 240.72 L840.14 240.86 L840.64 240.99 L841.14 241.13 L841.64 241.26 L842.14 241.40 L842.64 241.53 L843.14 241.67 L843.64 241.80 L844.14 241.93 L844.64 242.07 L845.14 242.20 L845.64 242.34 L846.14 242.47 L846.64 242.60 L847.14 242.74 L847.64 242.87 L848.14 243.00 L848.64 243.14 L849.14 243.27 L849.64 243.40 L850.14 243.54 L850.64 243.67 L851.14 243.80 L851.64 243.94 L852.14 244.07 L852.64 244.20 L853.15 244.33 L853.65 244.47 L854.15 244.60 L854.65 244.73 L855.15 244.87 L855.65 245.00 L856.15 245.13 L856.65 245.26 L857.15 245.40 L857.65 245.53 L858.15 245.66 L858.65 245.79 L859.15 245.93 L859.65 246.06 L860.15 246.19 L860.65 246.33 L861.15 246.46 L861.65 246.59 L862.15 246.72 L862.65 246.86 L863.15 246.99 L863.65 247.12 L864.15 247.26 L864.65 247.39 L865.15 247.52 L865.65 247.66 L866.15 247.79 L866.65 247.92 L867.15 248.06 L867.65 248.19 L868.15 248.33 L868.65 248.46 L869.15 248.59 L869.65 248.73 L870.16 248.86 L870.66 249.00 L871.16 249.13 L871.66 249.27 L872.16 249.40 L872.66 249.54 L873.16 249.67 L873.66 249.81 L874.16 249.94 L874.66 250.08 L875.16 250.21 L875.66 250.35 L876.16 250.49 L876.66 250.62 L877.16 250.76 L877.66 250.90 L878.16 251.03 L878.66 251.17 L879.16 251.31 L879.66 251.44 L880.16 251.58 L880.66 251.72 L881.16 251.86 L881.66 251.99 L882.16 252.13 L882.66 252.27 L883.16 252.41 L883.66 252.54 L884.16 252.68 L884.66 252.82 L885.16 252.96 L885.66 253.09 L886.16 253.23 L886.66 253.37 L887.17 253.51 L887.67 253.65 L888.17 253.78 L888.67 253.92 L889.17 254.06 L889.67 254.20 L890.17 254.33 L890.67 254.47 L891.17 254.61 L891.67 254.75 L892.17 254.88 L892.67 255.02 L893.17 255.16 L893.67 255.30 L894.17 255.43 L894.67 255.57 L895.17 255.71 L895.67 255.85 L896.17 255.99 L896.67 256.12 L897.17 256.26 L897.67 256.40 L898.17 256.54 L898.67 256.67 L899.17 256.81 L899.67 256.95 L900.17 257.09 L900.67 257.23 L901.17 257.36 L901.67 257.50 L902.17 257.64 L902.67 257.78 L903.17 257.92 L903.67 258.05 L904.18 258.19 L904.68 258.33 L905.18 258.47 L905.68 258.60 L906.18 258.74 L906.68 258.88 L907.18 259.02 L907.68 259.16 L908.18 259.29 L908.68 259.43 L909.18 259.57 L909.68 259.71 L910.18 259.85 L910.68 259.98 L911.18 260.12 L911.68 260.26 L912.18 260.40 L912.68 260.54 L913.18 260.67 L913.68 260.81 L914.18 260.95 L914.68 261.09 L915.18 261.23 L915.68 261.36 L916.18 261.50 L916.68 261.64 L917.18 261.78 L917.68 261.92 L918.18 262.05 L918.68 262.19 L919.18 262.33 L919.68 262.47 L920.18 262.61 L920.68 262.75 L921.19 262.88 L921.69 263.02 L922.19 263.16 L922.69 263.30 L923.19 263.44 L923.69 263.57 L924.19 263.71 L924.69 263.85 L925.19 263.99 L925.69 264.13 L926.19 264.27 L926.69 264.40 L927.19 264.54 L927.69 264.68 L928.19 264.82 L928.69 264.96 L929.19 265.09 L929.69 265.23 L930.19 265.37 L930.69 265.51 L931.19 265.65 L931.69 265.79 L932.19 265.92 L932.69 266.06 L933.19 266.20 L933.69 266.34 L934.19 266.48 L934.69 266.62 L935.19 266.75 L935.69 266.89 L936.19 267.03 L936.69 267.17 L937.19 267.31 L937.69 267.45 L938.20 267.58 L938.70 267.72 L939.20 267.86 L939.70 268.00 L940.20 268.14 L940.70 268.28 L941.20 268.42 L941.70 268.55 L942.20 268.69 L942.70 268.83 L943.20 268.97 L943.70 269.11 L944.20 269.25 L944.70 269.38 L945.20 269.52 L945.70 269.66 L946.20 269.80" stroke="#000" stroke-width="5.6" stroke-dasharray="20.7 9.3" stroke-linecap="butt"/>
<path d="M1023.50 270.00 L1024.00 272.03 L1024.50 273.33 L1025.00 274.08 L1025.50 274.41 L1026.00 274.50 L1026.50 273.85 L1027.00 271.35 L1027.50 267.29 L1028.00 261.96 L1028.50 255.68 L1029.00 248.75 L1029.50 241.48 L1030.00 234.18 L1030.50 227.16 L1031.00 220.73 L1031.50 215.18 L1032.00 210.84 L1032.50 208.01 L1033.00 207.00 L1033.50 207.27 L1034.00 208.01 L1034.50 209.18 L1035.00 210.68 L1035.50 212.45 L1036.00 214.42 L1036.50 216.53 L1037.00 218.68 L1037.50 220.83 L1038.00 222.88 L1038.50 224.78 L1039.00 226.46 L1039.50 227.83 L1040.00 228.84 L1040.50 229.40 L1041.00 229.49 L1041.50 229.38 L1042.00 229.18 L1042.50 228.92 L1043.00 228.61 L1043.50 228.29 L1044.00 227.98 L1044.50 227.72 L1045.00 227.52 L1045.50 227.41 L1046.00 227.46 L1046.50 227.83 L1047.00 228.51 L1047.50 229.47 L1048.00 230.67 L1048.50 232.08 L1049.00 233.67 L1049.50 235.42 L1050.00 237.29 L1050.50 239.24 L1051.00 241.26 L1051.50 243.30 L1052.00 245.35 L1052.50 247.35 L1053.00 249.29 L1053.50 251.14 L1054.00 252.86 L1054.50 254.42 L1055.00 255.79 L1055.50 256.94 L1056.00 257.85 L1056.50 258.47 L1057.00 258.77 L1057.50 258.71 L1058.00 258.17 L1058.50 257.22 L1059.00 255.90 L1059.50 254.29 L1060.00 252.45 L1060.50 250.45 L1061.00 248.34 L1061.50 246.19 L1062.00 244.07 L1062.50 242.04 L1063.00 240.16 L1063.50 238.50 L1064.00 237.12 L1064.50 236.09 L1065.00 235.46 L1065.50 235.31 L1066.00 235.52 L1066.50 236.02 L1067.00 236.75 L1067.50 237.68 L1068.00 238.77 L1068.50 239.98 L1069.00 241.27 L1069.50 242.60 L1070.00 243.93 L1070.50 245.22 L1071.00 246.43 L1071.50 247.52 L1072.00 248.45 L1072.50 249.18 L1073.00 249.68 L1073.50 249.89 L1074.00 249.84 L1074.50 249.60 L1075.00 249.25 L1075.50 248.83 L1076.00 248.40 L1076.50 248.00 L1077.00 247.69 L1077.50 247.52 L1078.00 247.56 L1078.50 247.93 L1079.00 248.60 L1079.50 249.53 L1080.00 250.67 L1080.50 251.99 L1081.00 253.44 L1081.50 254.99 L1082.00 256.60 L1082.50 258.22 L1083.00 259.82 L1083.50 261.36 L1084.00 262.79 L1084.50 264.07 L1085.00 265.18 L1085.50 266.05 L1086.00 266.66 L1086.50 266.97 L1087.00 266.94 L1087.50 266.59 L1088.00 265.97 L1088.50 265.10 L1089.00 264.03 L1089.50 262.79 L1090.00 261.42 L1090.50 259.95 L1091.00 258.43 L1091.50 256.88 L1092.00 255.35 L1092.50 253.87 L1093.00 252.47 L1093.50 251.20 L1094.00 250.10 L1094.50 249.19 L1095.00 248.51 L1095.50 248.10 L1096.00 248.00 L1096.50 248.11 L1097.00 248.35 L1097.50 248.71 L1098.00 249.20 L1098.50 249.79 L1099.00 250.48 L1099.50 251.26 L1100.00 252.12 L1100.50 253.03 L1101.00 254.01 L1101.50 255.03 L1102.00 256.09 L1102.50 257.17 L1103.00 258.26 L1103.50 259.36 L1104.00 260.45 L1104.50 261.53 L1105.00 262.58 L1105.50 263.59 L1106.00 264.55 L1106.50 265.46 L1107.00 266.30 L1107.50 267.06 L1108.00 267.73 L1108.50 268.31 L1109.00 268.77 L1109.50 269.11 L1110.00 269.33 L1110.50 269.40 L1111.00 269.26 L1111.50 268.85 L1112.00 268.20 L1112.50 267.33 L1113.00 266.27 L1113.50 265.04 L1114.00 263.65 L1114.50 262.14 L1115.00 260.53 L1115.50 258.85 L1116.00 257.11 L1116.50 255.33 L1117.00 253.56 L1117.50 251.79 L1118.00 250.07 L1118.50 248.41 L1119.00 246.84 L1119.50 245.38 L1120.00 244.05 L1120.50 242.88 L1121.00 241.89 L1121.50 241.11 L1122.00 240.55 L1122.50 240.25 L1123.00 240.21 L1123.50 240.32 L1124.00 240.55 L1124.50 240.89 L1125.00 241.33 L1125.50 241.87 L1126.00 242.49 L1126.50 243.19 L1127.00 243.97 L1127.50 244.82 L1128.00 245.72 L1128.50 246.68 L1129.00 247.67 L1129.50 248.71 L1130.00 249.77 L1130.50 250.86 L1131.00 251.96 L1131.50 253.07 L1132.00 254.19 L1132.50 255.29 L1133.00 256.38 L1133.50 257.45 L1134.00 258.49 L1134.50 259.49 L1135.00 260.45 L1135.50 261.37 L1136.00 262.36 L1136.50 263.42 L1137.00 264.56 L1137.50 265.75 L1138.00 267.00 L1138.50 268.28 L1139.00 269.58 L1139.50 270.89 L1140.00 272.21 L1140.50 273.52 L1141.00 274.81 L1141.50 276.06 L1142.00 277.27 L1142.50 278.43 L1143.00 279.52 L1143.50 280.53 L1144.00 281.45 L1144.50 282.28 L1145.00 282.99 L1145.50 283.57 L1146.00 284.03 L1146.50 284.34 L1147.00 284.49 L1147.50 284.46 L1148.00 284.25 L1148.50 283.87 L1149.00 283.38 L1149.50 282.80 L1150.00 282.18 L1150.50 281.55 L1151.00 280.95 L1151.50 280.41 L1152.00 279.99 L1152.50 279.70 L1153.00 279.60 L1153.50 279.92 L1154.00 280.80 L1154.50 282.12 L1155.00 283.75 L1155.50 285.59 L1156.00 287.50 L1171.10 468.60 L1175.80 45.40 L1196.10 307.60 L1196.60 293.24 L1197.10 278.93 L1197.60 264.92 L1198.10 251.41 L1198.60 238.65 L1199.10 226.85 L1199.60 216.25 L1200.10 207.06 L1200.60 199.53 L1201.10 193.88 L1201.60 190.32 L1202.10 189.10 L1202.60 189.51 L1203.10 190.68 L1203.60 192.55 L1204.10 195.04 L1204.61 198.07 L1205.11 201.59 L1205.61 205.51 L1206.11 209.78 L1206.61 214.31 L1207.11 219.04 L1207.61 223.89 L1208.11 228.80 L1208.61 233.70 L1209.11 238.51 L1209.61 243.16 L1210.11 247.59 L1210.61 251.71 L1211.11 255.47 L1211.61 258.79 L1212.11 261.60 L1212.61 263.83 L1213.11 265.41 L1213.61 266.26 L1214.11 266.31 L1214.61 265.43 L1215.11 263.75 L1215.61 261.44 L1216.11 258.66 L1216.61 255.58 L1217.11 252.38 L1217.61 249.21 L1218.11 246.24 L1218.61 243.65 L1219.11 241.60 L1219.61 240.26 L1220.11 239.80 L1220.61 240.16 L1221.12 241.14 L1221.62 242.65 L1222.12 244.62 L1222.62 246.95 L1223.12 249.57 L1223.62 252.38 L1224.12 255.31 L1224.62 258.28 L1225.12 261.18 L1225.62 263.96 L1226.12 266.51 L1226.62 268.75 L1227.12 270.60 L1227.62 271.98 L1228.12 272.80 L1228.62 272.98 L1229.12 272.51 L1229.62 271.43 L1230.12 269.82 L1230.62 267.72 L1231.12 265.19 L1231.62 262.30 L1232.12 259.09 L1232.62 255.62 L1233.12 251.95 L1233.62 248.13 L1234.12 244.23 L1234.62 240.30 L1235.12 236.39 L1235.62 232.56 L1236.12 228.87 L1236.62 225.38 L1237.12 222.13 L1237.62 219.20 L1238.13 216.63 L1238.63 214.49 L1239.13 212.82 L1239.63 211.68 L1240.13 211.14 L1240.63 211.14 L1241.13 211.35 L1241.63 211.74 L1242.13 212.29 L1242.63 212.98 L1243.13 213.80 L1243.63 214.75 L1244.13 215.80 L1244.63 216.95 L1245.13 218.18 L1245.63 219.48 L1246.13 220.84 L1246.63 222.24 L1247.13 223.66 L1247.63 225.11 L1248.13 226.56 L1248.63 228.00 L1249.13 229.42 L1249.63 230.81 L1250.13 232.15 L1250.63 233.42 L1251.13 234.63 L1251.63 235.75 L1252.13 236.77 L1252.63 237.68 L1253.13 238.46 L1253.63 239.11 L1254.13 239.60 L1254.64 239.93 L1255.14 240.09 L1255.64 240.07 L1256.14 239.95 L1256.64 239.73 L1257.14 239.45 L1257.64 239.11 L1258.14 238.75 L1258.64 238.37 L1259.14 238.01 L1259.64 237.67 L1260.14 237.38 L1260.64 237.16 L1261.14 237.03 L1261.64 237.01 L1262.14 237.21 L1262.64 237.65 L1263.14 238.30 L1263.64 239.14 L1264.14 240.15 L1264.64 241.31 L1265.14 242.59 L1265.64 243.96 L1266.14 245.42 L1266.64 246.93 L1267.14 248.46 L1267.64 250.01 L1268.14 251.54 L1268.64 253.03 L1269.14 254.46 L1269.64 255.80 L1270.14 257.04 L1270.64 258.14 L1271.15 259.09 L1271.65 259.87 L1272.15 260.44 L1272.65 260.79 L1273.15 260.90 L1273.65 260.57 L1274.15 259.75 L1274.65 258.50 L1275.15 256.87 L1275.65 254.93 L1276.15 252.75 L1276.65 250.40 L1277.15 247.92 L1277.65 245.40 L1278.15 242.89 L1278.65 240.45 L1279.15 238.16 L1279.65 236.07 L1280.15 234.25 L1280.65 232.76 L1281.15 231.67 L1281.65 231.03 L1282.15 230.91 L1282.65 231.00 L1283.15 231.20 L1283.65 231.51 L1284.15 231.91 L1284.65 232.40 L1285.15 232.98 L1285.65 233.62 L1286.15 234.34 L1286.65 235.12 L1287.15 235.95 L1287.65 236.83 L1288.16 237.75 L1288.66 238.71 L1289.16 239.69 L1289.66 240.69 L1290.16 241.70 L1290.66 242.72 L1291.16 243.73 L1291.66 244.74 L1292.16 245.73 L1292.66 246.70 L1293.16 247.64 L1293.66 248.55 L1294.16 249.41 L1294.66 250.22 L1295.16 250.97 L1295.66 251.66 L1296.16 252.28 L1296.66 252.82 L1297.16 253.27 L1297.66 253.63 L1298.16 253.90 L1298.66 254.06 L1299.16 254.10 L1299.66 253.95 L1300.16 253.59 L1300.66 253.05 L1301.16 252.38 L1301.66 251.61 L1302.16 250.77 L1302.66 249.90 L1303.16 249.04 L1303.66 248.23 L1304.16 247.50 L1304.67 246.88 L1305.17 246.42 L1305.67 246.15 L1306.17 246.12 L1306.67 246.36 L1307.17 246.86 L1307.67 247.59 L1308.17 248.51 L1308.67 249.59 L1309.17 250.81 L1309.67 252.12 L1310.17 253.50 L1310.67 254.90 L1311.17 256.31 L1311.67 257.68 L1312.17 258.99 L1312.67 260.19 L1313.17 261.27 L1313.67 262.18 L1314.17 262.89 L1314.67 263.37 L1315.17 263.59 L1315.67 263.55 L1316.17 263.36 L1316.67 263.03 L1317.17 262.58 L1317.67 262.03 L1318.17 261.40 L1318.67 260.70 L1319.17 259.97 L1319.67 259.20 L1320.17 258.43 L1320.67 257.66 L1321.18 256.93 L1321.68 256.24 L1322.18 255.61 L1322.68 255.07 L1323.18 254.63 L1323.68 254.31 L1324.18 254.13 L1324.68 254.11 L1325.18 254.29 L1325.68 254.67 L1326.18 255.22 L1326.68 255.93 L1327.18 256.80 L1327.68 257.79 L1328.18 258.90 L1328.68 260.10 L1329.18 261.39 L1329.68 262.75 L1330.18 264.15 L1330.68 265.59 L1331.18 267.05 L1331.68 268.51 L1332.18 269.96 L1332.68 271.37 L1333.18 272.74 L1333.68 274.05 L1334.18 275.28 L1334.68 276.42 L1335.18 277.44 L1335.68 278.34 L1336.18 279.10 L1336.68 279.70 L1337.18 280.12 L1337.68 280.36 L1338.19 280.36 L1338.69 279.92 L1339.19 279.05 L1339.69 277.84 L1340.19 276.41 L1340.69 274.84 L1341.19 273.22 L1341.69 271.67 L1342.19 270.26 L1342.69 269.10 L1343.19 268.29 L1343.69 267.91 L1344.19 267.92 L1344.69 268.01 L1345.19 268.16 L1345.69 268.35 L1346.19 268.59 L1346.69 268.85 L1347.19 269.12 L1347.69 269.41 L1348.19 269.69 L1348.69 269.95 L1349.19 270.19 L1349.69 270.40 L1350.19 270.56 L1350.69 270.66 L1351.19 270.70 L1351.69 270.34 L1352.19 269.35 L1352.69 267.87 L1353.19 266.05 L1353.69 264.04 L1354.19 261.98 L1354.70 260.03 L1355.20 258.32 L1355.70 257.01 L1356.20 256.24 L1356.70 256.13 L1357.20 256.43 L1357.70 257.06 L1358.20 258.03 L1358.70 259.30 L1359.20 260.89 L1359.70 262.79 L1360.20 264.97 L1360.70 267.45 L1361.20 270.21 L1361.70 273.73 L1362.20 281.39 L1362.70 290.80 L1365.10 294.20" stroke="#B3B3B3" stroke-width="7" stroke-linecap="square"/>
<path d="M1024.00 236.00 L1024.50 236.14 L1025.00 236.27 L1025.50 236.41 L1026.00 236.55 L1026.50 236.68 L1027.00 236.82 L1027.50 236.96 L1028.00 237.09 L1028.50 237.23 L1029.00 237.37 L1029.50 237.51 L1030.00 237.64 L1030.50 237.78 L1031.00 237.92 L1031.50 238.05 L1032.00 238.19 L1032.51 238.33 L1033.01 238.46 L1033.51 238.60 L1034.01 238.74 L1034.51 238.87 L1035.01 239.01 L1035.51 239.15 L1036.01 239.29 L1036.51 239.42 L1037.01 239.56 L1037.51 239.70 L1038.01 239.83 L1038.51 239.97 L1039.01 240.11 L1039.51 240.24 L1040.01 240.38 L1040.51 240.52 L1041.01 240.65 L1041.51 240.79 L1042.01 240.93 L1042.51 241.06 L1043.01 241.20 L1043.51 241.34 L1044.01 241.48 L1044.51 241.61 L1045.01 241.75 L1045.51 241.89 L1046.01 242.02 L1046.51 242.16 L1047.01 242.30 L1047.51 242.43 L1048.01 242.57 L1048.51 242.71 L1049.01 242.84 L1049.51 242.98 L1050.02 243.12 L1050.52 243.26 L1051.02 243.39 L1051.52 243.53 L1052.02 243.67 L1052.52 243.80 L1053.02 243.94 L1053.52 244.08 L1054.02 244.21 L1054.52 244.35 L1055.02 244.49 L1055.52 244.62 L1056.02 244.76 L1056.52 244.90 L1057.02 245.04 L1057.52 245.17 L1058.02 245.31 L1058.52 245.45 L1059.02 245.58 L1059.52 245.72 L1060.02 245.86 L1060.52 245.99 L1061.02 246.13 L1061.52 246.27 L1062.02 246.40 L1062.52 246.54 L1063.02 246.68 L1063.52 246.82 L1064.02 246.95 L1064.52 247.09 L1065.02 247.23 L1065.52 247.36 L1066.02 247.50 L1066.53 247.64 L1067.03 247.77 L1067.53 247.91 L1068.03 248.05 L1068.53 248.18 L1069.03 248.32 L1069.53 248.46 L1070.03 248.60 L1070.53 248.73 L1071.03 248.87 L1071.53 249.01 L1072.03 249.14 L1072.53 249.28 L1073.03 249.42 L1073.53 249.55 L1074.03 249.69 L1074.53 249.83 L1075.03 249.96 L1075.53 250.10 L1076.03 250.24 L1076.53 250.38 L1077.03 250.51 L1077.53 250.65 L1078.03 250.79 L1078.53 250.92 L1079.03 251.06 L1079.53 251.20 L1080.03 251.33 L1080.53 251.47 L1081.03 251.61 L1081.53 251.75 L1082.03 251.88 L1082.53 252.02 L1083.03 252.16 L1083.54 252.29 L1084.04 252.43 L1084.54 252.57 L1085.04 252.70 L1085.54 252.84 L1086.04 252.98 L1086.54 253.11 L1087.04 253.25 L1087.54 253.39 L1088.04 253.53 L1088.54 253.66 L1089.04 253.80 L1089.54 253.94 L1090.04 254.07 L1090.54 254.21 L1091.04 254.35 L1091.54 254.48 L1092.04 254.62 L1092.54 254.76 L1093.04 254.89 L1093.54 255.03 L1094.04 255.17 L1094.54 255.30 L1095.04 255.44 L1095.54 255.58 L1096.04 255.71 L1096.54 255.85 L1097.04 255.98 L1097.54 256.12 L1098.04 256.26 L1098.54 256.39 L1099.04 256.53 L1099.54 256.66 L1100.04 256.80 L1100.55 256.93 L1101.05 257.07 L1101.55 257.20 L1102.05 257.34 L1102.55 257.47 L1103.05 257.61 L1103.55 257.74 L1104.05 257.88 L1104.55 258.01 L1105.05 258.15 L1105.55 258.28 L1106.05 258.42 L1106.55 258.55 L1107.05 258.69 L1107.55 258.82 L1108.05 258.96 L1108.55 259.09 L1109.05 259.23 L1109.55 259.36 L1110.05 259.50 L1110.55 259.63 L1111.05 259.77 L1111.55 259.90 L1112.05 260.04 L1112.55 260.17 L1113.05 260.31 L1113.55 260.44 L1114.05 260.58 L1114.55 260.71 L1115.05 260.85 L1115.55 260.98 L1116.05 261.12 L1116.55 261.25 L1117.05 261.38 L1117.56 261.52 L1118.06 261.65 L1118.56 261.79 L1119.06 261.92 L1119.56 262.06 L1120.06 262.19 L1120.56 262.33 L1121.06 262.46 L1121.56 262.60 L1122.06 262.73 L1122.56 262.87 L1123.06 263.00 L1123.56 263.14 L1124.06 263.27 L1124.56 263.41 L1125.06 263.54 L1125.56 263.68 L1126.06 263.82 L1126.56 263.95 L1127.06 264.09 L1127.56 264.22 L1128.06 264.36 L1128.56 264.49 L1129.06 264.63 L1129.56 264.76 L1130.06 264.90 L1130.56 265.04 L1131.06 265.17 L1131.56 265.31 L1132.06 265.44 L1132.56 265.58 L1133.06 265.72 L1133.56 265.85 L1134.06 265.99 L1134.57 266.13 L1135.07 266.26 L1135.57 266.40 L1136.07 266.54 L1136.57 266.67 L1137.07 266.81 L1137.57 266.95 L1138.07 267.09 L1138.57 267.22 L1139.07 267.36 L1139.57 267.50 L1140.07 267.64 L1140.57 267.77 L1141.07 267.91 L1141.57 268.05 L1142.07 268.19 L1142.57 268.33 L1143.07 268.47 L1143.57 268.60 L1144.07 268.74 L1144.57 268.88 L1145.07 269.02 L1145.57 269.16 L1146.07 269.30 L1146.57 269.44 L1147.07 269.58 L1147.57 269.72 L1148.07 269.86 L1148.57 270.00 L1149.07 270.14 L1149.57 270.28 L1150.07 270.42 L1150.57 270.56 L1151.07 270.70 L1151.58 270.84 L1152.08 270.98 L1152.58 271.12 L1153.08 271.27 L1153.58 271.41 L1154.08 271.55 L1154.58 271.69 L1155.08 271.83 L1155.58 271.98 L1156.08 272.12 L1156.58 272.26 L1157.08 272.41 L1157.58 272.55 L1158.08 272.69 L1158.58 272.84 L1159.08 272.98 L1159.58 273.12 L1160.08 273.27 L1160.58 273.43 L1161.08 273.59 L1161.58 273.76 L1162.08 273.93 L1162.58 274.11 L1163.08 274.28 L1163.58 274.46 L1164.08 274.63 L1164.58 274.81 L1165.08 274.97 L1165.58 275.14 L1166.08 275.29 L1166.58 275.44 L1167.08 275.58 L1167.58 275.71 L1168.08 275.83 L1168.59 275.93 L1169.09 276.02 L1169.59 276.10 L1170.09 276.17 L1170.59 276.23 L1171.09 276.30 L1171.59 276.36 L1172.09 276.42 L1172.59 276.48 L1173.09 276.53 L1173.59 276.58 L1174.09 276.62 L1174.59 276.65 L1175.09 276.68 L1175.59 276.69 L1176.09 276.70 L1176.59 276.69 L1177.09 276.64 L1177.59 276.56 L1178.09 276.44 L1178.59 276.31 L1179.09 276.15 L1179.59 275.97 L1180.09 275.78 L1180.59 275.58 L1181.09 275.37 L1181.59 275.16 L1182.09 274.93 L1182.59 274.67 L1183.09 274.37 L1183.59 274.04 L1184.09 273.67 L1184.59 273.26 L1185.09 272.81 L1185.60 272.32 L1186.10 271.78 L1186.60 271.21 L1187.10 270.48 L1187.60 269.54 L1188.10 268.43 L1188.60 267.17 L1189.10 265.82 L1189.60 264.42 L1190.10 263.00 L1190.60 261.61 L1191.10 260.27 L1191.60 258.89 L1192.10 257.44 L1192.60 255.94 L1193.10 254.42 L1193.60 252.87 L1194.10 251.32 L1194.60 249.78 L1195.10 248.27 L1195.60 246.81 L1196.10 245.40 L1196.60 244.06 L1197.10 242.79 L1197.60 241.49 L1198.10 240.16 L1198.60 238.83 L1199.10 237.52 L1199.60 236.29 L1200.10 235.15 L1200.60 234.15 L1201.10 233.31 L1201.60 232.67 L1202.10 232.24 L1202.61 231.87 L1203.11 231.51 L1203.61 231.17 L1204.11 230.84 L1204.61 230.53 L1205.11 230.24 L1205.61 229.97 L1206.11 229.72 L1206.61 229.50 L1207.11 229.30 L1207.61 229.12 L1208.11 228.96 L1208.61 228.83 L1209.11 228.73 L1209.61 228.66 L1210.11 228.61 L1210.61 228.60 L1211.11 228.61 L1211.61 228.62 L1212.11 228.64 L1212.61 228.67 L1213.11 228.71 L1213.61 228.76 L1214.11 228.81 L1214.61 228.87 L1215.11 228.93 L1215.61 229.00 L1216.11 229.07 L1216.61 229.15 L1217.11 229.23 L1217.61 229.31 L1218.11 229.39 L1218.61 229.48 L1219.11 229.57 L1219.62 229.65 L1220.12 229.74 L1220.62 229.84 L1221.12 229.95 L1221.62 230.07 L1222.12 230.21 L1222.62 230.35 L1223.12 230.51 L1223.62 230.67 L1224.12 230.84 L1224.62 231.01 L1225.12 231.19 L1225.62 231.37 L1226.12 231.55 L1226.62 231.74 L1227.12 231.92 L1227.62 232.10 L1228.12 232.28 L1228.62 232.45 L1229.12 232.63 L1229.62 232.79 L1230.12 232.95 L1230.62 233.10 L1231.12 233.25 L1231.62 233.39 L1232.12 233.54 L1232.62 233.69 L1233.12 233.84 L1233.62 233.99 L1234.12 234.13 L1234.62 234.28 L1235.12 234.43 L1235.62 234.57 L1236.12 234.72 L1236.62 234.86 L1237.13 235.01 L1237.63 235.15 L1238.13 235.30 L1238.63 235.44 L1239.13 235.59 L1239.63 235.73 L1240.13 235.87 L1240.63 236.02 L1241.13 236.16 L1241.63 236.30 L1242.13 236.44 L1242.63 236.58 L1243.13 236.72 L1243.63 236.87 L1244.13 237.01 L1244.63 237.15 L1245.13 237.29 L1245.63 237.43 L1246.13 237.57 L1246.63 237.71 L1247.13 237.85 L1247.63 237.99 L1248.13 238.12 L1248.63 238.26 L1249.13 238.40 L1249.63 238.54 L1250.13 238.68 L1250.63 238.82 L1251.13 238.95 L1251.63 239.09 L1252.13 239.23 L1252.63 239.36 L1253.13 239.50 L1253.63 239.64 L1254.14 239.77 L1254.64 239.91 L1255.14 240.05 L1255.64 240.18 L1256.14 240.32 L1256.64 240.45 L1257.14 240.59 L1257.64 240.72 L1258.14 240.86 L1258.64 240.99 L1259.14 241.13 L1259.64 241.26 L1260.14 241.40 L1260.64 241.53 L1261.14 241.67 L1261.64 241.80 L1262.14 241.93 L1262.64 242.07 L1263.14 242.20 L1263.64 242.34 L1264.14 242.47 L1264.64 242.60 L1265.14 242.74 L1265.64 242.87 L1266.14 243.00 L1266.64 243.14 L1267.14 243.27 L1267.64 243.40 L1268.14 243.54 L1268.64 243.67 L1269.14 243.80 L1269.64 243.94 L1270.14 244.07 L1270.64 244.20 L1271.15 244.33 L1271.65 244.47 L1272.15 244.60 L1272.65 244.73 L1273.15 244.87 L1273.65 245.00 L1274.15 245.13 L1274.65 245.26 L1275.15 245.40 L1275.65 245.53 L1276.15 245.66 L1276.65 245.79 L1277.15 245.93 L1277.65 246.06 L1278.15 246.19 L1278.65 246.33 L1279.15 246.46 L1279.65 246.59 L1280.15 246.72 L1280.65 246.86 L1281.15 246.99 L1281.65 247.12 L1282.15 247.26 L1282.65 247.39 L1283.15 247.52 L1283.65 247.66 L1284.15 247.79 L1284.65 247.92 L1285.15 248.06 L1285.65 248.19 L1286.15 248.33 L1286.65 248.46 L1287.15 248.59 L1287.65 248.73 L1288.16 248.86 L1288.66 249.00 L1289.16 249.13 L1289.66 249.27 L1290.16 249.40 L1290.66 249.54 L1291.16 249.67 L1291.66 249.81 L1292.16 249.94 L1292.66 250.08 L1293.16 250.21 L1293.66 250.35 L1294.16 250.49 L1294.66 250.62 L1295.16 250.76 L1295.66 250.90 L1296.16 251.03 L1296.66 251.17 L1297.16 251.31 L1297.66 251.44 L1298.16 251.58 L1298.66 251.72 L1299.16 251.86 L1299.66 251.99 L1300.16 252.13 L1300.66 252.27 L1301.16 252.41 L1301.66 252.54 L1302.16 252.68 L1302.66 252.82 L1303.16 252.96 L1303.66 253.09 L1304.16 253.23 L1304.66 253.37 L1305.17 253.51 L1305.67 253.65 L1306.17 253.78 L1306.67 253.92 L1307.17 254.06 L1307.67 254.20 L1308.17 254.33 L1308.67 254.47 L1309.17 254.61 L1309.67 254.75 L1310.17 254.88 L1310.67 255.02 L1311.17 255.16 L1311.67 255.30 L1312.17 255.43 L1312.67 255.57 L1313.17 255.71 L1313.67 255.85 L1314.17 255.99 L1314.67 256.12 L1315.17 256.26 L1315.67 256.40 L1316.17 256.54 L1316.67 256.67 L1317.17 256.81 L1317.67 256.95 L1318.17 257.09 L1318.67 257.23 L1319.17 257.36 L1319.67 257.50 L1320.17 257.64 L1320.67 257.78 L1321.17 257.92 L1321.67 258.05 L1322.18 258.19 L1322.68 258.33 L1323.18 258.47 L1323.68 258.60 L1324.18 258.74 L1324.68 258.88 L1325.18 259.02 L1325.68 259.16 L1326.18 259.29 L1326.68 259.43 L1327.18 259.57 L1327.68 259.71 L1328.18 259.85 L1328.68 259.98 L1329.18 260.12 L1329.68 260.26 L1330.18 260.40 L1330.68 260.54 L1331.18 260.67 L1331.68 260.81 L1332.18 260.95 L1332.68 261.09 L1333.18 261.23 L1333.68 261.36 L1334.18 261.50 L1334.68 261.64 L1335.18 261.78 L1335.68 261.92 L1336.18 262.05 L1336.68 262.19 L1337.18 262.33 L1337.68 262.47 L1338.18 262.61 L1338.68 262.75 L1339.19 262.88 L1339.69 263.02 L1340.19 263.16 L1340.69 263.30 L1341.19 263.44 L1341.69 263.57 L1342.19 263.71 L1342.69 263.85 L1343.19 263.99 L1343.69 264.13 L1344.19 264.27 L1344.69 264.40 L1345.19 264.54 L1345.69 264.68 L1346.19 264.82 L1346.69 264.96 L1347.19 265.09 L1347.69 265.23 L1348.19 265.37 L1348.69 265.51 L1349.19 265.65 L1349.69 265.79 L1350.19 265.92 L1350.69 266.06 L1351.19 266.20 L1351.69 266.34 L1352.19 266.48 L1352.69 266.62 L1353.19 266.75 L1353.69 266.89 L1354.19 267.03 L1354.69 267.17 L1355.19 267.31 L1355.69 267.45 L1356.20 267.58 L1356.70 267.72 L1357.20 267.86 L1357.70 268.00 L1358.20 268.14 L1358.70 268.28 L1359.20 268.42 L1359.70 268.55 L1360.20 268.69 L1360.70 268.83 L1361.20 268.97 L1361.70 269.11 L1362.20 269.25 L1362.70 269.38 L1363.20 269.52 L1363.70 269.66 L1364.20 269.80" stroke="#000" stroke-width="5.6" stroke-dasharray="20.7 9.3" stroke-linecap="butt"/>
<path d="M163.30 231.10 L163.80 231.18 L164.30 231.27 L164.80 231.35 L165.30 231.43 L165.80 231.52 L166.30 231.60 L166.80 231.69 L167.30 231.77 L167.80 231.85 L168.30 231.94 L168.80 232.02 L169.30 232.10 L169.80 232.19 L170.30 232.27 L170.80 232.35 L171.30 232.44 L171.80 232.52 L172.30 232.60 L172.80 232.69 L173.30 232.77 L173.80 232.85 L174.30 232.94 L174.80 233.02 L175.30 233.10 L175.80 233.19 L176.30 233.27 L176.80 233.35 L177.30 233.43 L177.80 233.52 L178.30 233.60 L178.80 233.68 L179.30 233.77 L179.80 233.85 L180.30 233.93 L180.80 234.01 L181.30 234.09 L181.80 234.18 L182.30 234.26 L182.80 234.34 L183.30 234.42 L183.80 234.51 L184.30 234.59 L184.80 234.67 L185.30 234.75 L185.80 234.83 L186.30 234.91 L186.80 234.99 L187.30 235.08 L187.80 235.16 L188.30 235.24 L188.80 235.32 L189.30 235.40 L189.80 235.48 L190.30 235.56 L190.80 235.64 L191.30 235.72 L191.80 235.80 L192.30 235.88 L192.80 235.96 L193.30 236.04 L193.80 236.12 L194.30 236.20 L194.80 236.28 L195.30 236.36 L195.80 236.44 L196.30 236.52 L196.80 236.60 L197.30 236.68 L197.80 236.76 L198.30 236.83 L198.80 236.91 L199.30 236.99 L199.80 237.07 L200.30 237.15 L200.80 237.22 L201.30 237.30 L201.80 237.38 L202.30 237.46 L202.80 237.53 L203.30 237.61 L203.80 237.69 L204.30 237.76 L204.80 237.84 L205.30 237.92 L205.80 237.99 L206.30 238.07 L206.80 238.15 L207.30 238.22 L207.80 238.30 L208.30 238.37 L208.80 238.45 L209.30 238.52 L209.80 238.60 L210.30 238.67 L210.80 238.75 L211.30 238.82 L211.80 238.90 L212.30 238.97 L212.80 239.05 L213.30 239.12 L213.80 239.20 L214.30 239.27 L214.80 239.35 L215.30 239.42 L215.80 239.49 L216.30 239.57 L216.80 239.64 L217.30 239.71 L217.80 239.79 L218.30 239.86 L218.80 239.93 L219.30 240.01 L219.80 240.08 L220.30 240.15 L220.80 240.23 L221.30 240.30 L221.80 240.37 L222.30 240.44 L222.80 240.52 L223.30 240.59 L223.80 240.66 L224.30 240.73 L224.80 240.81 L225.30 240.88 L225.80 240.95 L226.30 241.02 L226.80 241.09 L227.30 241.17 L227.80 241.24 L228.30 241.31 L228.80 241.38 L229.30 241.45 L229.80 241.53 L230.30 241.60 L230.80 241.67 L231.30 241.74 L231.80 241.81 L232.30 241.88 L232.80 241.95 L233.30 242.02 L233.80 242.10 L234.30 242.17 L234.80 242.24 L235.30 242.31 L235.80 242.38 L236.30 242.45 L236.80 242.52 L237.30 242.59 L237.80 242.66 L238.30 242.73 L238.80 242.81 L239.30 242.88 L239.80 242.95 L240.30 243.02 L240.80 243.09 L241.30 243.16 L241.80 243.23 L242.30 243.30 L242.80 243.37 L243.30 243.44 L243.80 243.51 L244.30 243.58 L244.80 243.65 L245.30 243.72 L245.80 243.79 L246.30 243.86 L246.80 243.93 L247.30 244.01 L247.80 244.08 L248.30 244.15 L248.80 244.22 L249.30 244.29 L249.80 244.36 L250.30 244.43 L250.80 244.50 L251.30 244.57 L251.80 244.64 L252.30 244.71 L252.80 244.78 L253.30 244.85 L253.80 244.92 L254.30 244.99 L254.80 245.06 L255.30 245.13 L255.80 245.20 L256.30 245.28 L256.80 245.35 L257.30 245.42 L257.80 245.49 L258.30 245.56 L258.80 245.63 L259.30 245.70 L259.80 245.77 L260.30 245.84 L260.80 245.91 L261.30 245.98 L261.80 246.06 L262.30 246.13 L262.80 246.20 L263.30 246.27 L263.80 246.34 L264.30 246.41 L264.80 246.48 L265.30 246.55 L265.80 246.62 L266.30 246.69 L266.80 246.76 L267.30 246.83 L267.80 246.90 L268.30 246.97 L268.80 247.03 L269.30 247.10 L269.80 247.17 L270.30 247.24 L270.80 247.30 L271.30 247.37 L271.80 247.44 L272.30 247.50 L272.80 247.57 L273.30 247.63 L273.80 247.69 L274.30 247.76 L274.80 247.82 L275.30 247.88 L275.80 247.94 L276.30 248.00 L276.80 248.06 L277.30 248.12 L277.80 248.18 L278.30 248.24 L278.80 248.29 L279.30 248.35 L279.80 248.40 L280.30 248.46 L280.80 248.51 L281.30 248.56 L281.80 248.61 L282.30 248.66 L282.80 248.71 L283.30 248.76 L283.80 248.81 L284.30 248.86 L284.80 248.90 L285.30 248.94 L285.80 248.99 L286.30 249.03 L286.80 249.07 L287.30 249.11 L287.80 249.15 L288.30 249.18 L288.80 249.22 L289.30 249.25 L289.80 249.29 L290.30 249.32 L290.80 249.35 L291.30 249.38 L291.80 249.41 L292.30 249.43 L292.80 249.46 L293.30 249.48 L293.80 249.50 L294.30 249.52 L294.80 249.54 L295.30 249.56 L295.80 249.58 L296.30 249.60 L296.80 249.61 L297.30 249.62 L297.80 249.64 L298.30 249.65 L298.80 249.66 L299.30 249.67 L299.80 249.67 L300.30 249.68 L300.80 249.68 L301.30 249.69 L301.80 249.69 L302.30 249.69 L302.80 249.69 L303.30 249.69 L303.80 249.69 L304.30 249.69 L304.80 249.68 L305.30 249.68 L305.80 249.67 L306.30 249.66 L306.80 249.65 L307.30 249.64 L307.80 249.63 L308.30 249.62 L308.80 249.61 L309.30 249.59 L309.80 249.58 L310.30 249.56 L310.80 249.54 L311.30 249.52 L311.80 249.50 L312.30 249.48 L312.80 249.46 L313.30 249.44 L313.80 249.42 L314.30 249.40 L314.80 249.37 L315.30 249.35 L315.80 249.32 L316.30 249.30 L316.80 249.27 L317.30 249.24 L317.80 249.22 L318.30 249.19 L318.80 249.16 L319.30 249.13 L319.80 249.10 L320.30 249.07 L320.80 249.04 L321.30 249.01 L321.80 248.98 L322.30 248.95 L322.80 248.92 L323.30 248.89 L323.80 248.86 L324.30 248.83 L324.80 248.80 L325.30 248.77 L325.80 248.74 L326.30 248.71 L326.80 248.68 L327.30 248.65 L327.80 248.62 L328.30 248.60 L328.80 248.57 L329.30 248.54 L329.80 248.51 L330.30 248.48 L330.80 248.46 L331.30 248.43 L331.80 248.40 L332.30 248.38 L332.80 248.35 L333.30 248.33 L333.80 248.30 L334.30 248.28 L334.80 248.26 L335.30 248.23 L335.80 248.21 L336.30 248.19 L336.80 248.16 L337.30 248.14 L337.80 248.12 L338.30 248.10 L338.80 248.08 L339.30 248.06 L339.80 248.04 L340.30 248.01 L340.80 247.99 L341.30 247.97 L341.80 247.95 L342.30 247.94 L342.80 247.92 L343.30 247.90 L343.80 247.88 L344.30 247.86 L344.80 247.84 L345.30 247.82 L345.80 247.80 L346.30 247.79 L346.80 247.77 L347.30 247.75 L347.80 247.73 L348.30 247.71 L348.80 247.70 L349.30 247.68 L349.80 247.66 L350.30 247.64 L350.80 247.63 L351.30 247.61 L351.80 247.59 L352.30 247.57 L352.80 247.56 L353.30 247.54 L353.80 247.52 L354.30 247.50 L354.80 247.49 L355.30 247.47 L355.80 247.45 L356.30 247.43 L356.80 247.42 L357.30 247.40 L357.80 247.38 L358.30 247.36 L358.80 247.34 L359.30 247.33 L359.80 247.31 L360.30 247.29 L360.80 247.27 L361.30 247.25 L361.80 247.23 L362.30 247.21 L362.80 247.20 L363.30 247.18 L363.80 247.16 L364.30 247.14 L364.80 247.12 L365.30 247.10 L365.80 247.09 L366.30 247.07 L366.80 247.05 L367.30 247.04 L367.80 247.02 L368.30 247.00 L368.80 246.99 L369.30 246.98 L369.80 246.96 L370.30 246.95 L370.80 246.94 L371.30 246.93 L371.80 246.92 L372.30 246.91 L372.80 246.90 L373.30 246.89 L373.80 246.88 L374.30 246.88 L374.80 246.87 L375.30 246.87 L375.80 246.87 L376.30 246.87 L376.80 246.87 L377.30 246.87 L377.80 246.87 L378.30 246.87 L378.80 246.88 L379.30 246.89 L379.80 246.90 L380.30 246.91 L380.80 246.92 L381.30 246.93 L381.80 246.95 L382.30 246.96 L382.80 246.98 L383.30 247.00 L383.80 247.02 L384.30 247.04 L384.80 247.06 L385.30 247.09 L385.80 247.11 L386.30 247.14 L386.80 247.17 L387.30 247.20 L387.80 247.23 L388.30 247.26 L388.80 247.29 L389.30 247.32 L389.80 247.36 L390.30 247.39 L390.80 247.43 L391.30 247.47 L391.80 247.51 L392.30 247.54 L392.80 247.58 L393.30 247.62 L393.80 247.67 L394.30 247.71 L394.80 247.75 L395.30 247.79 L395.80 247.84 L396.30 247.88 L396.80 247.92 L397.30 247.97 L397.80 248.02 L398.30 248.06 L398.80 248.11 L399.30 248.16 L399.80 248.20 L400.30 248.25 L400.80 248.30 L401.30 248.35 L401.80 248.39 L402.30 248.44 L402.80 248.49 L403.30 248.54 L403.80 248.59 L404.30 248.64 L404.80 248.69 L405.30 248.74 L405.80 248.79 L406.30 248.83 L406.80 248.88 L407.30 248.93 L407.80 248.98 L408.30 249.03 L408.80 249.08 L409.30 249.13 L409.80 249.17 L410.30 249.22 L410.80 249.27 L411.30 249.32 L411.80 249.36 L412.30 249.41 L412.80 249.46 L413.30 249.51 L413.80 249.55 L414.30 249.60 L414.80 249.65 L415.30 249.70 L415.80 249.74 L416.30 249.79 L416.80 249.84 L417.30 249.89 L417.80 249.94 L418.30 249.98 L418.80 250.03 L419.30 250.08 L419.80 250.13 L420.30 250.18 L420.80 250.23 L421.30 250.28 L421.80 250.33 L422.30 250.38 L422.80 250.43 L423.30 250.49 L423.80 250.54 L424.30 250.59 L424.80 250.65 L425.30 250.70 L425.80 250.75 L426.30 250.81 L426.80 250.86 L427.30 250.92 L427.80 250.98 L428.30 251.03 L428.80 251.09 L429.30 251.15 L429.80 251.21 L430.30 251.27 L430.80 251.33 L431.30 251.39 L431.80 251.46 L432.30 251.52 L432.80 251.58 L433.30 251.64 L433.80 251.71 L434.30 251.77 L434.80 251.84 L435.30 251.91 L435.80 251.97 L436.30 252.04 L436.80 252.11 L437.30 252.18 L437.80 252.25 L438.30 252.32 L438.80 252.39 L439.30 252.46 L439.80 252.53 L440.30 252.60 L440.80 252.67 L441.30 252.74 L441.80 252.82 L442.30 252.89 L442.80 252.97 L443.30 253.04 L443.80 253.12 L444.30 253.19 L444.80 253.27 L445.30 253.35 L445.80 253.42 L446.30 253.50 L446.80 253.58 L447.30 253.66 L447.80 253.74 L448.30 253.82 L448.80 253.90 L449.30 253.98 L449.80 254.06 L450.30 254.14 L450.80 254.22 L451.30 254.30 L451.80 254.39 L452.30 254.47 L452.80 254.55 L453.30 254.64 L453.80 254.72 L454.30 254.81 L454.80 254.89 L455.30 254.98 L455.80 255.06 L456.30 255.15 L456.80 255.24 L457.30 255.32 L457.80 255.41 L458.30 255.50 L458.80 255.59 L459.30 255.68 L459.80 255.76 L460.30 255.85 L460.80 255.94 L461.30 256.03 L461.80 256.12 L462.30 256.21 L462.80 256.30 L463.30 256.39 L463.80 256.49 L464.30 256.58 L464.80 256.67 L465.30 256.76 L465.80 256.85 L466.30 256.95 L466.80 257.04 L467.30 257.13 L467.80 257.23 L468.30 257.32 L468.80 257.41 L469.30 257.51 L469.80 257.60 L470.30 257.70 L470.80 257.79 L471.30 257.89 L471.80 257.99 L472.30 258.08 L472.80 258.18 L473.30 258.27 L473.80 258.37 L474.30 258.47 L474.80 258.56 L475.30 258.66 L475.80 258.76 L476.30 258.86 L476.80 258.95 L477.30 259.05 L477.80 259.15 L478.30 259.25 L478.80 259.35 L479.30 259.45 L479.80 259.55 L480.30 259.64 L480.80 259.74 L481.30 259.84 L481.80 259.94 L482.30 260.04 L482.80 260.14 L483.30 260.24 L483.80 260.34 L484.30 260.44 L484.80 260.55 L485.30 260.65 L485.80 260.75 L486.30 260.85 L486.80 260.95 L487.30 261.05 L487.80 261.15 L488.30 261.25 L488.80 261.36 L489.30 261.46 L489.80 261.56 L490.30 261.66 L490.80 261.76 L491.30 261.87 L491.80 261.97 L492.30 262.07 L492.80 262.17 L493.30 262.28 L493.80 262.38 L494.30 262.48 L494.80 262.58 L495.30 262.69 L495.80 262.79 L496.30 262.89 L496.80 263.00 L497.30 263.10 L497.80 263.20 L498.30 263.30 L498.80 263.41 L499.30 263.51 L499.80 263.61 L500.30 263.72 L500.80 263.82 L501.30 263.92 L501.80 264.03 L502.30 264.13 L502.80 264.23 L503.30 264.34" stroke="#F0923B" stroke-width="5.6" stroke-linecap="square"/>
<path d="M606.50 231.20 L607.00 231.34 L607.50 231.47 L608.00 231.61 L608.50 231.75 L609.00 231.89 L609.50 232.02 L610.00 232.16 L610.50 232.30 L611.00 232.43 L611.50 232.57 L612.00 232.71 L612.50 232.84 L613.00 232.98 L613.50 233.12 L614.00 233.26 L614.50 233.39 L615.00 233.53 L615.50 233.67 L616.00 233.81 L616.50 233.94 L617.00 234.08 L617.50 234.22 L618.00 234.36 L618.50 234.49 L619.00 234.63 L619.50 234.77 L620.00 234.91 L620.50 235.04 L621.00 235.18 L621.50 235.32 L622.00 235.46 L622.50 235.60 L623.00 235.73 L623.50 235.87 L624.00 236.01 L624.50 236.15 L625.00 236.29 L625.50 236.43 L626.00 236.56 L626.50 236.70 L627.00 236.84 L627.50 236.98 L628.00 237.12 L628.50 237.26 L629.00 237.40 L629.50 237.54 L630.00 237.68 L630.50 237.82 L631.00 237.95 L631.50 238.09 L632.00 238.23 L632.50 238.37 L633.00 238.51 L633.50 238.65 L634.00 238.79 L634.50 238.93 L635.00 239.07 L635.50 239.22 L636.00 239.36 L636.50 239.50 L637.00 239.64 L637.50 239.78 L638.00 239.92 L638.50 240.06 L639.00 240.20 L639.50 240.34 L640.00 240.48 L640.50 240.63 L641.00 240.77 L641.50 240.91 L642.00 241.05 L642.50 241.20 L643.00 241.34 L643.50 241.48 L644.00 241.62 L644.50 241.77 L645.00 241.91 L645.50 242.05 L646.00 242.19 L646.50 242.34 L647.00 242.48 L647.50 242.62 L648.00 242.77 L648.50 242.91 L649.00 243.05 L649.50 243.20 L650.00 243.34 L650.50 243.48 L651.00 243.63 L651.50 243.77 L652.00 243.91 L652.50 244.06 L653.00 244.20 L653.50 244.34 L654.00 244.49 L654.50 244.63 L655.00 244.77 L655.50 244.92 L656.00 245.06 L656.50 245.21 L657.00 245.35 L657.50 245.49 L658.00 245.64 L658.50 245.78 L659.00 245.92 L659.50 246.07 L660.00 246.21 L660.50 246.35 L661.00 246.50 L661.50 246.64 L662.00 246.78 L662.50 246.92 L663.00 247.07 L663.50 247.21 L664.00 247.35 L664.50 247.50 L665.00 247.64 L665.50 247.78 L666.00 247.92 L666.50 248.06 L667.00 248.21 L667.50 248.35 L668.00 248.49 L668.50 248.63 L669.00 248.77 L669.50 248.91 L670.00 249.05 L670.50 249.20 L671.00 249.34 L671.50 249.48 L672.00 249.62 L672.50 249.76 L673.00 249.90 L673.50 250.04 L674.00 250.18 L674.50 250.32 L675.00 250.46 L675.50 250.60 L676.00 250.73 L676.50 250.87 L677.00 251.01 L677.50 251.15 L678.00 251.29 L678.50 251.43 L679.00 251.56 L679.50 251.70 L680.00 251.84 L680.50 251.97 L681.00 252.11 L681.50 252.25 L682.00 252.38 L682.50 252.52 L683.00 252.66 L683.50 252.79 L684.00 252.93 L684.50 253.06 L685.00 253.20 L685.50 253.33 L686.00 253.47 L686.50 253.61 L687.00 253.74 L687.50 253.88 L688.00 254.01 L688.50 254.15 L689.00 254.28 L689.50 254.42 L690.00 254.56 L690.50 254.69 L691.00 254.83 L691.50 254.97 L692.00 255.11 L692.50 255.24 L693.00 255.38 L693.50 255.52 L694.00 255.66 L694.50 255.80 L695.00 255.94 L695.50 256.08 L696.00 256.22 L696.50 256.36 L697.00 256.50 L697.50 256.64 L698.00 256.78 L698.50 256.93 L699.00 257.07 L699.50 257.21 L700.00 257.36 L700.50 257.50 L701.00 257.65 L701.50 257.80 L702.00 257.94 L702.50 258.09 L703.00 258.24 L703.50 258.39 L704.00 258.54 L704.50 258.69 L705.00 258.84 L705.50 259.00 L706.00 259.15 L706.50 259.31 L707.00 259.46 L707.50 259.62 L708.00 259.78 L708.50 259.93 L709.00 260.09 L709.50 260.25 L710.00 260.42 L710.50 260.58 L711.00 260.74 L711.50 260.91 L712.00 261.07 L712.50 261.24 L713.00 261.41 L713.50 261.58 L714.00 261.75 L714.50 261.92 L715.00 262.09 L715.50 262.27 L716.00 262.44 L716.50 262.62 L717.00 262.80 L717.50 262.98 L718.00 263.16 L718.50 263.34 L719.00 263.53 L719.50 263.71 L720.00 263.90 L720.50 264.09 L721.00 264.28 L721.50 264.47 L722.00 264.66 L722.50 264.85 L723.00 265.04 L723.50 265.23 L724.00 265.42 L724.50 265.61 L725.00 265.81 L725.50 266.00 L726.00 266.19 L726.50 266.38 L727.00 266.57 L727.50 266.76 L728.00 266.94 L728.50 267.13 L729.00 267.31 L729.50 267.50 L730.00 267.68 L730.50 267.85 L731.00 268.03 L731.50 268.20 L732.00 268.38 L732.50 268.54 L733.00 268.71 L733.50 268.87 L734.00 269.03 L734.50 269.19 L735.00 269.34 L735.50 269.49 L736.00 269.64 L736.50 269.78 L737.00 269.92 L737.50 270.05 L738.00 270.18 L738.50 270.31 L739.00 270.43 L739.50 270.54 L740.00 270.65 L740.50 270.76 L741.00 270.86 L741.50 270.95 L742.00 271.04 L742.50 271.12 L743.00 271.20 L743.50 271.27 L744.00 271.33 L744.50 271.39 L745.00 271.44 L745.50 271.48 L746.00 271.52 L746.50 271.55 L747.00 271.57 L747.50 271.59 L748.00 271.60 L748.50 271.60 L749.00 271.60 L749.50 271.58 L750.00 271.56 L750.50 271.54 L751.00 271.51 L751.50 271.47 L752.00 271.42 L752.50 271.36 L753.00 271.30 L753.50 271.24 L754.00 271.16 L754.50 271.08 L755.00 270.99 L755.50 270.90 L756.00 270.79 L756.50 270.68 L757.00 270.57 L757.50 270.44 L758.00 270.32 L758.50 270.18 L759.00 270.03 L759.50 269.88 L760.00 269.73 L760.50 269.56 L761.00 269.39 L761.50 269.21 L762.00 269.03 L762.50 268.84 L763.00 268.64 L763.50 268.43 L764.00 268.22 L764.50 268.00 L765.00 267.78 L765.50 267.55 L766.00 267.31 L766.50 267.06 L767.00 266.81 L767.50 266.55 L768.00 266.29 L768.50 266.02 L769.00 265.74 L769.50 265.46 L770.00 265.18 L770.50 264.89 L771.00 264.59 L771.50 264.29 L772.00 263.99 L772.50 263.68 L773.00 263.37 L773.50 263.05 L774.00 262.73 L774.50 262.41 L775.00 262.08 L775.50 261.75 L776.00 261.42 L776.50 261.09 L777.00 260.75 L777.50 260.41 L778.00 260.07 L778.50 259.73 L779.00 259.39 L779.50 259.04 L780.00 258.70 L780.50 258.35 L781.00 258.00 L781.50 257.65 L782.00 257.31 L782.50 256.96 L783.00 256.61 L783.50 256.26 L784.00 255.92 L784.50 255.57 L785.00 255.23 L785.50 254.88 L786.00 254.54 L786.50 254.20 L787.00 253.86 L787.50 253.52 L788.00 253.19 L788.50 252.86 L789.00 252.53 L789.50 252.20 L790.00 251.87 L790.50 251.55 L791.00 251.22 L791.50 250.91 L792.00 250.59 L792.50 250.27 L793.00 249.96 L793.50 249.65 L794.00 249.35 L794.50 249.04 L795.00 248.74 L795.50 248.44 L796.00 248.15 L796.50 247.86 L797.00 247.57 L797.50 247.28 L798.00 247.00 L798.50 246.72 L799.00 246.45 L799.50 246.17 L800.00 245.91 L800.50 245.64 L801.00 245.38 L801.50 245.12 L802.00 244.87 L802.50 244.62 L803.00 244.37 L803.50 244.13 L804.00 243.89 L804.50 243.65 L805.00 243.42 L805.50 243.20 L806.00 242.97 L806.50 242.76 L807.00 242.54 L807.50 242.33 L808.00 242.13 L808.50 241.93 L809.00 241.73 L809.50 241.54 L810.00 241.36 L810.50 241.18 L811.00 241.00 L811.50 240.83 L812.00 240.66 L812.50 240.50 L813.00 240.34 L813.50 240.19 L814.00 240.04 L814.50 239.90 L815.00 239.76 L815.50 239.63 L816.00 239.50 L816.50 239.38 L817.00 239.26 L817.50 239.15 L818.00 239.04 L818.50 238.94 L819.00 238.85 L819.50 238.76 L820.00 238.67 L820.50 238.59 L821.00 238.52 L821.50 238.45 L822.00 238.39 L822.50 238.33 L823.00 238.28 L823.50 238.24 L824.00 238.20 L824.50 238.17 L825.00 238.14 L825.50 238.12 L826.00 238.10 L826.50 238.09 L827.00 238.09 L827.50 238.09 L828.00 238.09 L828.50 238.10 L829.00 238.12 L829.50 238.14 L830.00 238.16 L830.50 238.19 L831.00 238.22 L831.50 238.26 L832.00 238.30 L832.50 238.35 L833.00 238.40 L833.50 238.45 L834.00 238.51 L834.50 238.57 L835.00 238.64 L835.50 238.71 L836.00 238.78 L836.50 238.86 L837.00 238.94 L837.50 239.02 L838.00 239.10 L838.50 239.19 L839.00 239.28 L839.50 239.37 L840.00 239.47 L840.50 239.57 L841.00 239.67 L841.50 239.77 L842.00 239.88 L842.50 239.98 L843.00 240.09 L843.50 240.20 L844.00 240.31 L844.50 240.43 L845.00 240.54 L845.50 240.66 L846.00 240.78 L846.50 240.90 L847.00 241.01 L847.50 241.14 L848.00 241.26 L848.50 241.38 L849.00 241.51 L849.50 241.63 L850.00 241.76 L850.50 241.88 L851.00 242.01 L851.50 242.14 L852.00 242.27 L852.50 242.40 L853.00 242.53 L853.50 242.66 L854.00 242.80 L854.50 242.93 L855.00 243.07 L855.50 243.20 L856.00 243.34 L856.50 243.48 L857.00 243.61 L857.50 243.75 L858.00 243.89 L858.50 244.03 L859.00 244.17 L859.50 244.31 L860.00 244.46 L860.50 244.60 L861.00 244.74 L861.50 244.89 L862.00 245.03 L862.50 245.17 L863.00 245.32 L863.50 245.47 L864.00 245.61 L864.50 245.76 L865.00 245.91 L865.50 246.05 L866.00 246.20 L866.50 246.35 L867.00 246.50 L867.50 246.65 L868.00 246.80 L868.50 246.95 L869.00 247.10 L869.50 247.25 L870.00 247.40 L870.50 247.55 L871.00 247.70 L871.50 247.85 L872.00 248.00 L872.50 248.16 L873.00 248.31 L873.50 248.46 L874.00 248.61 L874.50 248.77 L875.00 248.92 L875.50 249.07 L876.00 249.22 L876.50 249.38 L877.00 249.53 L877.50 249.68 L878.00 249.83 L878.50 249.99 L879.00 250.14 L879.50 250.29 L880.00 250.44 L880.50 250.60 L881.00 250.75 L881.50 250.90 L882.00 251.05 L882.50 251.21 L883.00 251.36 L883.50 251.51 L884.00 251.66 L884.50 251.81 L885.00 251.96 L885.50 252.12 L886.00 252.27 L886.50 252.42 L887.00 252.57 L887.50 252.72 L888.00 252.87 L888.50 253.02 L889.00 253.18 L889.50 253.33 L890.00 253.48 L890.50 253.63 L891.00 253.78 L891.50 253.93 L892.00 254.08 L892.50 254.23 L893.00 254.38 L893.50 254.53 L894.00 254.68 L894.50 254.83 L895.00 254.98 L895.50 255.13 L896.00 255.28 L896.50 255.43 L897.00 255.58 L897.50 255.73 L898.00 255.88 L898.50 256.03 L899.00 256.18 L899.50 256.33 L900.00 256.48 L900.50 256.63 L901.00 256.78 L901.50 256.93 L902.00 257.08 L902.50 257.23 L903.00 257.38 L903.50 257.53 L904.00 257.68 L904.50 257.83 L905.00 257.98 L905.50 258.13 L906.00 258.28 L906.50 258.42 L907.00 258.57 L907.50 258.72 L908.00 258.87 L908.50 259.02 L909.00 259.17 L909.50 259.32 L910.00 259.47 L910.50 259.61 L911.00 259.76 L911.50 259.91 L912.00 260.06 L912.50 260.21 L913.00 260.36 L913.50 260.50 L914.00 260.65 L914.50 260.80 L915.00 260.95 L915.50 261.10 L916.00 261.24 L916.50 261.39 L917.00 261.54 L917.50 261.69 L918.00 261.83 L918.50 261.98 L919.00 262.13 L919.50 262.28 L920.00 262.42 L920.50 262.57 L921.00 262.72 L921.50 262.87 L922.00 263.01 L922.50 263.16 L923.00 263.31 L923.50 263.46 L924.00 263.60 L924.50 263.75 L925.00 263.90 L925.50 264.04 L926.00 264.19 L926.50 264.34 L927.00 264.48 L927.50 264.63 L928.00 264.78 L928.50 264.92 L929.00 265.07 L929.50 265.22 L930.00 265.36 L930.50 265.51 L931.00 265.66 L931.50 265.80 L932.00 265.95 L932.50 266.10 L933.00 266.24 L933.50 266.39 L934.00 266.54 L934.50 266.68 L935.00 266.83 L935.50 266.98 L936.00 267.12 L936.50 267.27 L937.00 267.41 L937.50 267.56 L938.00 267.71 L938.50 267.85 L939.00 268.00 L939.50 268.15 L940.00 268.29 L940.50 268.44 L941.00 268.58 L941.50 268.73 L942.00 268.88 L942.50 269.02 L943.00 269.17 L943.50 269.32 L944.00 269.46 L944.50 269.61 L945.00 269.75 L945.50 269.90" stroke="#F0923B" stroke-width="5.6" stroke-linecap="square"/>
<path d="M1023.80 236.00 L1024.30 235.95 L1024.80 235.90 L1025.30 235.86 L1025.80 235.82 L1026.30 235.78 L1026.80 235.75 L1027.30 235.72 L1027.81 235.70 L1028.31 235.68 L1028.81 235.66 L1029.31 235.65 L1029.81 235.63 L1030.31 235.63 L1030.81 235.62 L1031.31 235.61 L1031.81 235.61 L1032.31 235.60 L1032.81 235.60 L1033.31 235.60 L1033.81 235.60 L1034.31 235.60 L1034.82 235.60 L1035.32 235.62 L1035.82 235.66 L1036.32 235.71 L1036.82 235.78 L1037.32 235.86 L1037.82 235.96 L1038.32 236.07 L1038.82 236.19 L1039.32 236.33 L1039.82 236.47 L1040.32 236.62 L1040.82 236.78 L1041.32 236.95 L1041.83 237.12 L1042.33 237.29 L1042.83 237.47 L1043.33 237.65 L1043.83 237.83 L1044.33 238.01 L1044.83 238.19 L1045.33 238.37 L1045.83 238.54 L1046.33 238.71 L1046.83 238.88 L1047.33 239.04 L1047.83 239.21 L1048.33 239.39 L1048.83 239.57 L1049.34 239.76 L1049.84 239.95 L1050.34 240.15 L1050.84 240.35 L1051.34 240.55 L1051.84 240.76 L1052.34 240.97 L1052.84 241.18 L1053.34 241.39 L1053.84 241.61 L1054.34 241.82 L1054.84 242.03 L1055.34 242.25 L1055.84 242.46 L1056.35 242.67 L1056.85 242.87 L1057.35 243.08 L1057.85 243.28 L1058.35 243.48 L1058.85 243.67 L1059.35 243.86 L1059.85 244.04 L1060.35 244.23 L1060.85 244.43 L1061.35 244.62 L1061.85 244.82 L1062.35 245.01 L1062.85 245.21 L1063.35 245.40 L1063.86 245.60 L1064.36 245.80 L1064.86 245.99 L1065.36 246.19 L1065.86 246.38 L1066.36 246.57 L1066.86 246.76 L1067.36 246.95 L1067.86 247.14 L1068.36 247.32 L1068.86 247.50 L1069.36 247.68 L1069.86 247.85 L1070.36 248.02 L1070.87 248.19 L1071.37 248.35 L1071.87 248.51 L1072.37 248.66 L1072.87 248.81 L1073.37 248.95 L1073.87 249.08 L1074.37 249.21 L1074.87 249.33 L1075.37 249.45 L1075.87 249.56 L1076.37 249.66 L1076.87 249.76 L1077.37 249.85 L1077.88 249.94 L1078.38 250.03 L1078.88 250.11 L1079.38 250.19 L1079.88 250.27 L1080.38 250.35 L1080.88 250.42 L1081.38 250.49 L1081.88 250.56 L1082.38 250.64 L1082.88 250.71 L1083.38 250.78 L1083.88 250.85 L1084.38 250.92 L1084.88 251.00 L1085.39 251.07 L1085.89 251.15 L1086.39 251.23 L1086.89 251.32 L1087.39 251.41 L1087.89 251.50 L1088.39 251.59 L1088.89 251.68 L1089.39 251.77 L1089.89 251.85 L1090.39 251.94 L1090.89 252.02 L1091.39 252.11 L1091.89 252.20 L1092.40 252.29 L1092.90 252.38 L1093.40 252.48 L1093.90 252.58 L1094.40 252.69 L1094.90 252.80 L1095.40 252.92 L1095.90 253.05 L1096.40 253.19 L1096.90 253.33 L1097.40 253.49 L1097.90 253.66 L1098.40 253.84 L1098.90 254.10 L1099.40 254.47 L1099.91 254.93 L1100.41 255.47 L1100.91 256.09 L1101.41 256.77 L1101.91 257.50 L1102.41 258.27 L1102.91 259.08 L1103.41 259.90 L1103.91 260.73 L1104.41 261.56 L1104.91 262.38 L1105.41 263.18 L1105.91 263.95 L1106.41 264.68 L1106.92 265.35 L1107.42 265.96 L1107.92 266.49 L1108.42 266.94 L1108.92 267.30 L1109.42 267.55 L1109.92 267.68 L1110.42 267.67 L1110.92 267.36 L1111.42 266.76 L1111.92 265.89 L1112.42 264.78 L1112.92 263.48 L1113.42 262.00 L1113.92 260.39 L1114.43 258.67 L1114.93 256.88 L1115.43 255.04 L1115.93 253.19 L1116.43 251.36 L1116.93 249.59 L1117.43 247.90 L1117.93 246.32 L1118.43 244.90 L1118.93 243.65 L1119.43 242.62 L1119.93 241.83 L1120.43 241.31 L1120.93 241.10 L1121.44 241.19 L1121.94 241.52 L1122.44 242.06 L1122.94 242.79 L1123.44 243.69 L1123.94 244.73 L1124.44 245.89 L1124.94 247.15 L1125.44 248.48 L1125.94 249.86 L1126.44 251.28 L1126.94 252.69 L1127.44 254.09 L1127.94 255.45 L1128.45 256.75 L1128.95 257.96 L1129.45 259.06 L1129.95 260.02 L1130.45 260.84 L1130.95 261.47 L1131.45 262.03 L1131.95 262.54 L1132.45 263.01 L1132.95 263.45 L1133.45 263.86 L1133.95 264.26 L1134.45 264.64 L1134.95 265.02 L1135.45 265.40 L1135.96 265.78 L1136.46 266.18 L1136.96 266.60 L1137.46 267.05 L1137.96 267.52 L1138.46 268.01 L1138.96 268.51 L1139.46 269.02 L1139.96 269.55 L1140.46 270.08 L1140.96 270.62 L1141.46 271.16 L1141.96 271.71 L1142.46 272.26 L1142.97 272.81 L1143.47 273.35 L1143.97 273.90 L1144.47 274.43 L1144.97 274.97 L1145.47 275.49 L1145.97 276.00 L1146.47 276.50 L1146.97 276.98 L1147.47 277.45 L1147.97 277.90 L1148.47 278.33 L1148.97 278.75 L1149.47 279.13 L1149.97 279.49 L1150.48 279.78 L1150.98 280.03 L1151.48 280.25 L1151.98 280.49 L1152.48 280.76 L1152.98 281.08 L1153.48 281.49 L1153.98 282.03 L1154.48 283.00 L1154.98 284.44 L1155.48 286.27 L1155.98 288.45 L1156.48 290.91 L1156.98 293.58 L1157.49 296.41 L1157.99 299.33 L1158.49 302.55 L1158.99 306.55 L1159.49 311.21 L1159.99 316.36 L1160.49 321.86 L1160.99 327.55 L1161.49 333.28 L1161.99 338.89 L1162.49 344.22 L1162.99 349.14 L1163.49 353.75 L1163.99 358.29 L1164.50 362.78 L1165.00 367.19 L1165.50 371.54 L1166.00 375.82 L1166.50 380.03 L1167.00 384.16 L1167.50 388.22 L1168.00 392.20 L1168.50 390.03 L1169.00 386.86 L1169.50 382.81 L1170.00 377.98 L1170.50 372.51 L1171.00 366.49 L1171.50 360.06 L1172.00 353.31 L1172.50 346.10 L1173.00 336.44 L1173.50 325.11 L1174.00 313.60 L1174.50 303.35 L1175.00 295.15 L1175.50 286.98 L1176.00 278.70 L1176.50 270.42 L1177.00 262.27 L1177.50 254.34 L1178.01 246.77 L1178.51 239.66 L1179.01 233.12 L1179.51 227.28 L1180.01 222.25 L1180.51 218.14 L1181.01 215.07 L1181.51 213.15 L1182.01 212.50 L1182.51 212.77 L1183.01 213.52 L1183.51 214.67 L1184.01 216.15 L1184.51 217.89 L1185.01 219.81 L1185.51 221.84 L1186.01 223.90 L1186.51 225.92 L1187.01 227.84 L1187.51 229.56 L1188.01 231.03 L1188.51 232.23 L1189.01 233.42 L1189.51 234.61 L1190.01 235.78 L1190.51 236.92 L1191.01 238.03 L1191.51 239.09 L1192.01 240.09 L1192.51 241.03 L1193.01 241.88 L1193.51 242.64 L1194.01 243.30 L1194.51 243.84 L1195.01 244.27 L1195.51 244.66 L1196.01 245.01 L1196.51 245.34 L1197.01 245.64 L1197.52 245.92 L1198.02 246.18 L1198.52 246.42 L1199.02 246.65 L1199.52 246.87 L1200.02 247.08 L1200.52 247.28 L1201.02 247.48 L1201.52 247.67 L1202.02 247.87 L1202.52 248.07 L1203.02 248.28 L1203.52 248.49 L1204.02 248.72 L1204.52 248.96 L1205.02 249.21 L1205.52 249.45 L1206.02 249.69 L1206.52 249.92 L1207.02 250.15 L1207.52 250.38 L1208.02 250.61 L1208.52 250.83 L1209.02 251.05 L1209.52 251.27 L1210.02 251.49 L1210.52 251.71 L1211.02 251.93 L1211.52 252.16 L1212.02 252.38 L1212.52 252.60 L1213.02 252.83 L1213.52 253.06 L1214.02 253.30 L1214.52 253.53 L1215.02 253.78 L1215.52 254.02 L1216.02 254.28 L1216.52 254.53 L1217.03 254.80 L1217.53 255.07 L1218.03 255.35 L1218.53 255.64 L1219.03 255.94 L1219.53 256.24 L1220.03 256.56 L1220.53 256.88 L1221.03 257.22 L1221.53 257.61 L1222.03 258.09 L1222.53 258.63 L1223.03 259.22 L1223.53 259.84 L1224.03 260.48 L1224.53 261.11 L1225.03 261.73 L1225.53 262.32 L1226.03 262.86 L1226.53 263.33 L1227.03 263.71 L1227.53 263.99 L1228.03 264.16 L1228.53 264.18 L1229.03 263.78 L1229.53 262.88 L1230.03 261.53 L1230.53 259.79 L1231.03 257.69 L1231.53 255.29 L1232.03 252.63 L1232.53 249.76 L1233.03 246.72 L1233.53 243.56 L1234.03 240.33 L1234.53 237.08 L1235.03 233.85 L1235.53 230.68 L1236.03 227.63 L1236.54 224.75 L1237.04 222.07 L1237.54 219.65 L1238.04 217.54 L1238.54 215.77 L1239.04 214.40 L1239.54 213.47 L1240.04 213.03 L1240.54 213.10 L1241.04 213.62 L1241.54 214.51 L1242.04 215.73 L1242.54 217.22 L1243.04 218.92 L1243.54 220.79 L1244.04 222.77 L1244.54 224.80 L1245.04 226.83 L1245.54 228.81 L1246.04 230.67 L1246.54 232.37 L1247.04 233.86 L1247.54 235.07 L1248.04 235.96 L1248.54 236.70 L1249.04 237.43 L1249.54 238.14 L1250.04 238.84 L1250.54 239.50 L1251.04 240.12 L1251.54 240.68 L1252.04 241.19 L1252.54 241.63 L1253.04 241.98 L1253.54 242.26 L1254.04 242.43 L1254.54 242.50 L1255.04 242.42 L1255.54 242.17 L1256.05 241.77 L1256.55 241.25 L1257.05 240.65 L1257.55 240.01 L1258.05 239.34 L1258.55 238.68 L1259.05 238.07 L1259.55 237.54 L1260.05 237.11 L1260.55 236.82 L1261.05 236.70 L1261.55 236.81 L1262.05 237.17 L1262.55 237.77 L1263.05 238.56 L1263.55 239.54 L1264.05 240.66 L1264.55 241.91 L1265.05 243.26 L1265.55 244.69 L1266.05 246.16 L1266.55 247.65 L1267.05 249.14 L1267.55 250.59 L1268.05 251.99 L1268.55 253.30 L1269.05 254.51 L1269.55 255.57 L1270.05 256.48 L1270.55 257.20 L1271.05 257.70 L1271.55 257.97 L1272.05 257.95 L1272.55 257.56 L1273.05 256.83 L1273.55 255.80 L1274.05 254.51 L1274.55 252.99 L1275.05 251.30 L1275.55 249.47 L1276.06 247.55 L1276.56 245.57 L1277.06 243.59 L1277.56 241.63 L1278.06 239.74 L1278.56 237.97 L1279.06 236.34 L1279.56 234.92 L1280.06 233.73 L1280.56 232.82 L1281.06 232.23 L1281.56 232.00 L1282.06 232.08 L1282.56 232.36 L1283.06 232.80 L1283.56 233.40 L1284.06 234.13 L1284.56 234.97 L1285.06 235.90 L1285.56 236.92 L1286.06 237.98 L1286.56 239.09 L1287.06 240.21 L1287.56 241.33 L1288.06 242.43 L1288.56 243.49 L1289.06 244.49 L1289.56 245.42 L1290.06 246.25 L1290.56 246.96 L1291.06 247.54 L1291.56 247.96 L1292.06 248.23 L1292.56 248.46 L1293.06 248.68 L1293.56 248.87 L1294.06 249.05 L1294.56 249.21 L1295.06 249.36 L1295.57 249.50 L1296.07 249.63 L1296.57 249.75 L1297.07 249.87 L1297.57 249.99 L1298.07 250.11 L1298.57 250.23 L1299.07 250.35 L1299.57 250.48 L1300.07 250.61 L1300.57 250.76 L1301.07 250.92 L1301.57 251.09 L1302.07 251.27 L1302.57 251.46 L1303.07 251.65 L1303.57 251.85 L1304.07 252.05 L1304.57 252.25 L1305.07 252.46 L1305.57 252.67 L1306.07 252.89 L1306.57 253.11 L1307.07 253.33 L1307.57 253.56 L1308.07 253.79 L1308.57 254.01 L1309.07 254.25 L1309.57 254.48 L1310.07 254.71 L1310.57 254.95 L1311.07 255.19 L1311.57 255.43 L1312.07 255.66 L1312.57 255.90 L1313.07 256.14 L1313.57 256.38 L1314.07 256.62 L1314.57 256.85 L1315.08 257.09 L1315.58 257.33 L1316.08 257.57 L1316.58 257.82 L1317.08 258.08 L1317.58 258.34 L1318.08 258.61 L1318.58 258.88 L1319.08 259.15 L1319.58 259.43 L1320.08 259.70 L1320.58 259.98 L1321.08 260.26 L1321.58 260.54 L1322.08 260.81 L1322.58 261.09 L1323.08 261.36 L1323.58 261.63 L1324.08 261.90 L1324.58 262.16 L1325.08 262.42 L1325.58 262.67 L1326.08 262.92 L1326.58 263.16 L1327.08 263.39 L1327.58 263.62 L1328.08 263.83 L1328.58 264.04 L1329.08 264.23 L1329.58 264.42 L1330.08 264.59 L1330.58 264.76 L1331.08 264.93 L1331.58 265.10 L1332.08 265.27 L1332.58 265.44 L1333.08 265.60 L1333.58 265.77 L1334.08 265.93 L1334.59 266.09 L1335.09 266.25 L1335.59 266.41 L1336.09 266.56 L1336.59 266.71 L1337.09 266.86 L1337.59 267.00 L1338.09 267.14 L1338.59 267.27 L1339.09 267.40 L1339.59 267.52 L1340.09 267.64 L1340.59 267.75 L1341.09 267.85 L1341.59 267.95 L1342.09 268.03 L1342.59 268.12 L1343.09 268.19 L1343.59 268.26 L1344.09 268.31 L1344.59 268.36 L1345.09 268.40 L1345.59 268.43 L1346.09 268.47 L1346.59 268.50 L1347.09 268.53 L1347.59 268.56 L1348.09 268.59 L1348.59 268.62 L1349.09 268.65 L1349.59 268.68 L1350.09 268.71 L1350.59 268.73 L1351.09 268.76 L1351.59 268.78 L1352.09 268.81 L1352.59 268.83 L1353.09 268.85 L1353.59 268.88 L1354.10 268.90 L1354.60 268.92 L1355.10 268.93 L1355.60 268.95 L1356.10 268.97 L1356.60 268.99 L1357.10 269.00 L1357.60 269.02 L1358.10 269.03 L1358.60 269.04 L1359.10 269.05 L1359.60 269.06 L1360.10 269.07 L1360.60 269.08 L1361.10 269.08 L1361.60 269.09 L1362.10 269.09 L1362.60 269.10 L1363.10 269.10 L1363.60 269.10" stroke="#F0923B" stroke-width="5.6" stroke-linecap="square"/>
<path d="M130.00 -51.74 L130.25 -44.15 L130.50 -36.60 L130.75 -29.09 L131.00 -21.62 L131.25 -14.20 L131.50 -6.81 L131.75 0.54 L132.00 7.85 L132.25 15.12 L132.50 22.35 L132.75 29.54 L133.00 36.69 L133.25 43.80 L133.50 50.88 L133.75 57.91 L134.00 64.91 L134.25 71.87 L134.50 78.79 L134.75 85.68 L135.00 92.53 L135.25 99.34 L135.50 106.11 L135.75 112.85 L136.00 119.55 L136.25 126.22 L136.50 132.85 L136.75 139.44 L137.00 146.00 L137.25 152.52 L137.50 159.01 L137.75 165.46 L138.00 171.87 L138.25 178.26 L138.50 184.60 L138.75 190.92 L139.00 197.20 L139.25 203.44 L139.50 209.66 L139.75 215.83 L140.00 221.98 L140.25 228.09 L140.50 234.17 L140.75 240.21 L141.00 246.23 L141.25 252.21 L141.50 258.16 L141.75 264.07 L142.00 269.96 L142.25 275.81 L142.50 281.63 L142.75 287.42 L143.00 293.18 L143.25 298.90 L143.50 304.60 L143.75 310.26 L144.00 315.90 L144.25 321.50 L144.50 327.08 L144.75 332.62 L145.00 338.13 L145.25 343.62 L145.50 349.07 L145.75 354.50 L146.00 359.89 L146.25 365.26 L146.50 370.60 L146.75 375.91 L147.00 381.19 L147.25 386.44 L147.50 391.66 L147.75 396.85 L148.00 402.02 L148.25 407.16 L148.50 412.27 L148.75 417.35 L149.00 422.41 L149.25 427.44 L149.50 432.44 L149.75 437.41 L150.00 442.36 L150.25 447.28 L150.50 452.18 L150.75 457.04 L151.00 461.89 L151.25 466.70 L151.50 471.49 L151.75 476.25 L152.00 480.99 L152.25 485.70 L152.50 490.39 L152.75 495.05 L153.00 499.69 L153.25 504.30 L153.50 508.88 L153.75 513.45 L154.00 517.98 L154.25 522.49 L154.50 526.98 L154.75 531.45 L155.00 535.89 L155.25 540.30 L155.50 544.69 L155.75 549.06 L156.00 553.40 L156.25 557.73 L156.50 562.02 L156.75 566.30 L157.00 570.55 L157.25 574.78 L157.50 578.98 L157.75 583.16 L158.00 587.32 L158.25 591.46 L158.50 595.58 L158.75 599.67 L159.00 603.74 L159.25 607.79 L159.50 611.82 L159.75 615.82 L160.00 619.80 L160.25 623.77 L160.50 627.71 L160.75 631.63 L161.00 635.52 L161.25 639.40 L161.50 643.26 L161.75 647.09 L162.00 650.91 L162.25 654.70 L162.50 658.47 L162.75 662.23 L163.00 665.96 L163.25 669.67 L163.50 673.36 L163.75 677.04 L164.00 680.69 L164.25 684.32 L164.50 687.94 L164.75 691.53 L165.00 695.10 L165.25 698.66 L165.50 702.19 L165.75 705.71 L166.00 709.21 L166.25 712.69 L166.50 716.15 L166.75 719.59 L167.00 723.01 L167.25 726.42 L167.50 729.80 L167.75 733.17 L168.00 736.52 L168.25 739.85 L168.50 743.16 L168.75 746.46 L169.00 749.74 L169.25 753.00 L169.50 756.24 L169.75 759.46 L170.00 762.67 L170.25 765.86 L170.50 769.03 L170.75 772.19 L171.00 775.33 L171.25 778.45 L171.50 781.55 L171.75 784.64 L172.00 787.71 L172.25 790.77 L172.50 793.80 L172.75 796.83 L173.00 799.83 L173.25 802.82 L173.50 805.79 L173.75 808.75 L174.00 811.69 L174.25 814.62 L174.50 817.53 L174.75 820.42 L175.00 823.30 L175.25 826.16 L175.50 829.01 L175.75 831.84 L176.00 834.65 L176.25 837.46 L176.50 840.24 L176.75 843.01 L177.00 845.77 L177.25 848.51 L177.50 851.23 L177.75 853.95 L178.00 856.64 L178.25 859.32 L178.50 861.99 L178.75 864.65 L179.00 867.28 L179.25 869.91 L179.50 872.52 L179.75 875.12 L180.00 877.70 L180.25 880.27 L180.50 882.82 L180.75 885.36 L181.00 887.89 L181.25 890.40 L181.50 892.90 L181.75 895.39 L182.00 897.86 L182.25 900.32 L182.50 902.77 L182.75 905.20 L183.00 907.62 L183.25 910.03 L183.50 912.42 L183.75 914.80 L184.00 917.17 L184.25 919.52 L184.50 921.87 L184.75 924.19 L185.00 926.51 L185.25 928.82 L185.50 931.11 L185.75 933.39 L186.00 935.66 L186.25 937.91 L186.50 940.15 L186.75 942.38 L187.00 944.60 L187.25 946.81 L187.50 949.01 L187.75 951.19 L188.00 953.36 L188.25 955.52 L188.50 957.67 L188.75 959.80 L189.00 961.93 L189.25 964.04 L189.50 966.14 L189.75 968.23 L190.00 970.31 L190.25 972.38 L190.50 974.44 L190.75 976.48 L191.00 978.52 L191.25 980.54 L191.50 982.55 L191.75 984.56 L192.00 986.55 L192.25 988.53 L192.50 990.50 L192.75 992.45 L193.00 994.40 L193.25 996.34 L193.50 998.27 L193.75 1000.18 L194.00 1002.09 L194.25 1003.99 L194.50 1005.87 L194.75 1007.75 L195.00 1009.61 L195.25 1011.47 L195.50 1013.32 L195.75 1015.15 L196.00 1016.98 L196.25 1018.79 L196.50 1020.60 L196.75 1022.39 L197.00 1024.18 L197.25 1025.96 L197.50 1027.73 L197.75 1029.48 L198.00 1031.23 L198.25 1032.97 L198.50 1034.70 L198.75 1036.42 L199.00 1038.13 L199.25 1039.83 L199.50 1041.52 L199.75 1043.21 L200.00 1044.88 L200.25 1046.55 L200.50 1048.20 L200.75 1049.85 L201.00 1051.49 L201.25 1053.12 L201.50 1054.74 L201.75 1056.35 L202.00 1057.95 L202.25 1059.55 L202.50 1061.13 L202.75 1062.71 L203.00 1064.28 L203.25 1065.84 L203.50 1067.39 L203.75 1068.93 L204.00 1070.47 L204.25 1071.99 L204.50 1073.51 L204.75 1075.02 L205.00 1076.52 L205.25 1078.02 L205.50 1079.50 L205.75 1080.98 L206.00 1082.45 L206.25 1083.91 L206.50 1085.37 L206.75 1086.81 L207.00 1088.25 L207.25 1089.68 L207.50 1091.11 L207.75 1092.52 L208.00 1093.93 L208.25 1095.33 L208.50 1096.72 L208.75 1098.11 L209.00 1099.48 L209.25 1100.85 L209.50 1102.22 L209.75 1103.57 L210.00 1104.92 L210.25 1106.26 L210.50 1107.59 L210.75 1108.92 L211.00 1110.24 L211.25 1111.55 L211.50 1112.85 L211.75 1114.15 L212.00 1115.44 L212.25 1116.73 L212.50 1118.00 L212.75 1119.27 L213.00 1120.54 L213.25 1121.79 L213.50 1123.04 L213.75 1124.28 L214.00 1125.52 L214.25 1126.75 L214.50 1127.97 L214.75 1129.19 L215.00 1130.40 L215.25 1131.60 L215.50 1132.80 L215.75 1133.99 L216.00 1135.17 L216.25 1136.35 L216.50 1137.52 L216.75 1138.68 L217.00 1139.84 L217.25 1140.99 L217.50 1142.14 L217.75 1143.28 L218.00 1144.41 L218.25 1145.54 L218.50 1146.66 L218.75 1147.77 L219.00 1148.88 L219.25 1149.99 L219.50 1151.08 L219.75 1152.17 L220.00 1153.26 L220.25 1154.34 L220.50 1155.41 L220.75 1156.48 L221.00 1157.54 L221.25 1158.60 L221.50 1159.65 L221.75 1160.69 L222.00 1161.73 L222.25 1162.77 L222.50 1163.79 L222.75 1164.82 L223.00 1165.83 L223.25 1166.84 L223.50 1167.85 L223.75 1168.85 L224.00 1169.85 L224.25 1170.84 L224.50 1171.82 L224.75 1172.80 L225.00 1173.77 L225.25 1174.74 L225.50 1175.70 L225.75 1176.66 L226.00 1177.61 L226.25 1178.56 L226.50 1179.51 L226.75 1180.44 L227.00 1181.38 L227.25 1182.30 L227.50 1183.22 L227.75 1184.14 L228.00 1185.05 L228.25 1185.96 L228.50 1186.86 L228.75 1187.76 L229.00 1188.66 L229.25 1189.54 L229.50 1190.43 L229.75 1191.31 L230.00 1192.18 L230.25 1193.05 L230.50 1193.91 L230.75 1194.77 L231.00 1195.63 L231.25 1196.48 L231.50 1197.32 L231.75 1198.16 L232.00 1199.00 L232.25 1199.83 L232.50 1200.66 L232.75 1201.48 L233.00 1202.30 L233.25 1203.12 L233.50 1203.93 L233.75 1204.73 L234.00 1205.53 L234.25 1206.33 L234.50 1207.12 L234.75 1207.91 L235.00 1208.70 L235.25 1209.48 L235.50 1210.25 L235.75 1211.02 L236.00 1211.79 L236.25 1212.55 L236.50 1213.31 L236.75 1214.07 L237.00 1214.82 L237.25 1215.56 L237.50 1216.31 L237.75 1217.04 L238.00 1217.78 L238.25 1218.51 L238.50 1219.24 L238.75 1219.96 L239.00 1220.68 L239.25 1221.39 L239.50 1222.10 L239.75 1222.81 L240.00 1223.52 L240.25 1224.22 L240.50 1224.91 L240.75 1225.60 L241.00 1226.29 L241.25 1226.98 L241.50 1227.66 L241.75 1228.33 L242.00 1229.01 L242.25 1229.68 L242.50 1230.34 L242.75 1231.01 L243.00 1231.67 L243.25 1232.32 L243.50 1232.97 L243.75 1233.62 L244.00 1234.27 L244.25 1234.91 L244.50 1235.55 L244.75 1236.18 L245.00 1236.81 L245.25 1237.44 L245.50 1238.07 L245.75 1238.69 L246.00 1239.30 L246.25 1239.92 L246.50 1240.53 L246.75 1241.14 L247.00 1241.74 L247.25 1242.34 L247.50 1242.94 L247.75 1243.54 L248.00 1244.13 L248.25 1244.72 L248.50 1245.30 L248.75 1245.88 L249.00 1246.46 L249.25 1247.04 L249.50 1247.61 L249.75 1248.18 L250.00 1248.75 L250.25 1249.31 L250.50 1249.87 L250.75 1250.43 L251.00 1250.98 L251.25 1251.53 L251.50 1252.08 L251.75 1252.63 L252.00 1253.17 L252.25 1253.71 L252.50 1254.24 L252.75 1254.78 L253.00 1255.31 L253.25 1255.84 L253.50 1256.36 L253.75 1256.88 L254.00 1257.40 L254.25 1257.92 L254.50 1258.43 L254.75 1258.94 L255.00 1259.45 L255.25 1259.96 L255.50 1260.46 L255.75 1260.96 L256.00 1261.46 L256.25 1261.95 L256.50 1262.45 L256.75 1262.93 L257.00 1263.42 L257.25 1263.91 L257.50 1264.39 L257.75 1264.87 L258.00 1265.34 L258.25 1265.82 L258.50 1266.29 L258.75 1266.76 L259.00 1267.22 L259.25 1267.68 L259.50 1268.15 L259.75 1268.60 L260.00 1269.06 L260.25 1269.51 L260.50 1269.97 L260.75 1270.41 L261.00 1270.86 L261.25 1271.30 L261.50 1271.75 L261.75 1272.18 L262.00 1272.62 L262.25 1273.06 L262.50 1273.49 L262.75 1273.92 L263.00 1274.34 L263.25 1274.77 L263.50 1275.19 L263.75 1275.61 L264.00 1276.03 L264.25 1276.45 L264.50 1276.86 L264.75 1277.27 L265.00 1277.68 L265.25 1278.09 L265.50 1278.49 L265.75 1278.90 L266.00 1279.30 L266.25 1279.69 L266.50 1280.09 L266.75 1280.48 L267.00 1280.88 L267.25 1281.27 L267.50 1281.65 L267.75 1282.04 L268.00 1282.42 L268.25 1282.80 L268.50 1283.18 L268.75 1283.56 L269.00 1283.94 L269.25 1284.31 L269.50 1284.68 L269.75 1285.05 L270.00 1285.42 L270.25 1285.78 L270.50 1286.14 L270.75 1286.51 L271.00 1286.87 L271.25 1287.22 L271.50 1287.58 L271.75 1287.93 L272.00 1288.28 L272.25 1288.63 L272.50 1288.98 L272.75 1289.33 L273.00 1289.67 L273.25 1290.01 L273.50 1290.35 L273.75 1290.69 L274.00 1291.03 L274.25 1291.36 L274.50 1291.70 L274.75 1292.03 L275.00 1292.36 L275.25 1292.69 L275.50 1293.01 L275.75 1293.34 L276.00 1293.66 L276.25 1293.98 L276.50 1294.30 L276.75 1294.61 L277.00 1294.93 L277.25 1295.24 L277.50 1295.56 L277.75 1295.87 L278.00 1296.17 L278.25 1296.48 L278.50 1296.79 L278.75 1297.09 L279.00 1297.39 L279.25 1297.69 L279.50 1297.99 L279.75 1298.29 L280.00 1298.59 L280.25 1298.88 L280.50 1299.17 L280.75 1299.46 L281.00 1299.75 L281.25 1300.04 L281.50 1300.33 L281.75 1300.61 L282.00 1300.89 L282.25 1301.18 L282.50 1301.46 L282.75 1301.73 L283.00 1302.01 L283.25 1302.29 L283.50 1302.56 L283.75 1302.83 L284.00 1303.10 L284.25 1303.37 L284.50 1303.64 L284.75 1303.91 L285.00 1304.17 L285.25 1304.44 L285.50 1304.70 L285.75 1304.96 L286.00 1305.22 L286.25 1305.48 L286.50 1305.74 L286.75 1305.99 L287.00 1306.25 L287.25 1306.50 L287.50 1306.75 L287.75 1307.00 L288.00 1307.25 L288.25 1307.49 L288.50 1307.74 L288.75 1307.99 L289.00 1308.23 L289.25 1308.47 L289.50 1308.71 L289.75 1308.95 L290.00 1309.19 L290.25 1309.43 L290.50 1309.66 L290.75 1309.89 L291.00 1310.13 L291.25 1310.36 L291.50 1310.59 L291.75 1310.82 L292.00 1311.05 L292.25 1311.27 L292.50 1311.50 L292.75 1311.72 L293.00 1311.95 L293.25 1312.17 L293.50 1312.39 L293.75 1312.61 L294.00 1312.83 L294.25 1313.04 L294.50 1313.26 L294.75 1313.47 L295.00 1313.69 L295.25 1313.90 L295.50 1314.11 L295.75 1314.32 L296.00 1314.53 L296.25 1314.74 L296.50 1314.95 L296.75 1315.15 L297.00 1315.36 L297.25 1315.56 L297.50 1315.76 L297.75 1315.96 L298.00 1316.16 L298.25 1316.36 L298.50 1316.56 L298.75 1316.76 L299.00 1316.95 L299.25 1317.15 L299.50 1317.34 L299.75 1317.53 L300.00 1317.73 L302.00 1319.22 L304.00 1320.65 L306.00 1322.03 L308.00 1323.34 L310.00 1324.60 L312.00 1325.80 L314.00 1326.96 L316.00 1328.06 L318.00 1329.12 L320.00 1330.13 L322.00 1331.10 L324.00 1332.03 L326.00 1332.92 L328.00 1333.77 L330.00 1334.59 L332.00 1335.37 L334.00 1336.12 L336.00 1336.83 L338.00 1337.52 L340.00 1338.18 L342.00 1338.80 L344.00 1339.41 L346.00 1339.98 L348.00 1340.54 L350.00 1341.06 L352.00 1341.57 L354.00 1342.06 L356.00 1342.52 L358.00 1342.96 L360.00 1343.39 L362.00 1343.80 L364.00 1344.19 L366.00 1344.56 L368.00 1344.92 L370.00 1345.26 L372.00 1345.59 L374.00 1345.91 L376.00 1346.21 L378.00 1346.49 L380.00 1346.77 L382.00 1347.03 L384.00 1347.29 L386.00 1347.53 L388.00 1347.76 L390.00 1347.98 L392.00 1348.20 L394.00 1348.40 L396.00 1348.60 L398.00 1348.78 L400.00 1348.96 L402.00 1349.13 L404.00 1349.30 L406.00 1349.45 L408.00 1349.60 L410.00 1349.75 L412.00 1349.89 L414.00 1350.02 L416.00 1350.14 L418.00 1350.27 L420.00 1350.38 L422.00 1350.49 L424.00 1350.60 L426.00 1350.70 L428.00 1350.80 L430.00 1350.89 L432.00 1350.98 L434.00 1351.07 L436.00 1351.15 L438.00 1351.23 L440.00 1351.30 L442.00 1351.37 L444.00 1351.44 L446.00 1351.51 L448.00 1351.57 L450.00 1351.63 L452.00 1351.69 L454.00 1351.75 L456.00 1351.80 L458.00 1351.85 L460.00 1351.90 L462.00 1351.95 L464.00 1351.99 L466.00 1352.03 L468.00 1352.07 L470.00 1352.11 L472.00 1352.15 L474.00 1352.19 L476.00 1352.22 L478.00 1352.26 L480.00 1352.29 L482.00 1352.32 L484.00 1352.35 L486.00 1352.37 L488.00 1352.40 L490.00 1352.43 L492.00 1352.45 L494.00 1352.47 L496.00 1352.50 L498.00 1352.52 L500.00 1352.54 L502.00 1352.56 L504.00 1352.58 L506.00 1352.59 L508.00 1352.61 L510.00 1352.63 L512.00 1352.64 L514.00 1352.66 L516.00 1352.67 L518.00 1352.69 L520.00 1352.70 L522.00 1352.71 L524.00 1352.73 L526.00 1352.74 L528.00 1352.75 L530.00 1352.76 L532.00 1352.77 L534.00 1352.78 L536.00 1352.79 L538.00 1352.80 L540.00 1352.81 L542.00 1352.81 L544.00 1352.82 L546.00 1352.83 L548.00 1352.84 L550.00 1352.84 L552.00 1352.85 L554.00 1352.86 L556.00 1352.86 L558.00 1352.87 L560.00 1352.87 L562.00 1352.88 L564.00 1352.88 L566.00 1352.89 L568.00 1352.89 L570.00 1352.90 L572.00 1352.90 L574.00 1352.91 L576.00 1352.91 L578.00 1352.91 L580.00 1352.92 L582.00 1352.92 L584.00 1352.93 L586.00 1352.93 L588.00 1352.93 L590.00 1352.93 L592.00 1352.94 L594.00 1352.94 L596.00 1352.94 L598.00 1352.94 L600.00 1352.95 L602.00 1352.95 L604.00 1352.95 L606.00 1352.95 L608.00 1352.96 L610.00 1352.96 L612.00 1352.96 L614.00 1352.96 L616.00 1352.96 L618.00 1352.96 L620.00 1352.97 L622.00 1352.97 L624.00 1352.97 L626.00 1352.97 L628.00 1352.97 L630.00 1352.97 L632.00 1352.97 L634.00 1352.97 L636.00 1352.98 L638.00 1352.98 L640.00 1352.98 L642.00 1352.98 L644.00 1352.98 L646.00 1352.98 L648.00 1352.98 L650.00 1352.98 L652.00 1352.98 L654.00 1352.98 L656.00 1352.98 L658.00 1352.98 L660.00 1352.99 L662.00 1352.99 L664.00 1352.99 L666.00 1352.99 L668.00 1352.99 L670.00 1352.99 L672.00 1352.99 L674.00 1352.99 L676.00 1352.99 L678.00 1352.99 L680.00 1352.99 L682.00 1352.99 L684.00 1352.99 L686.00 1352.99 L688.00 1352.99 L690.00 1352.99 L692.00 1352.99 L694.00 1352.99 L696.00 1352.99 L698.00 1352.99 L700.00 1352.99 L702.00 1352.99 L704.00 1352.99 L706.00 1352.99 L708.00 1352.99 L710.00 1353.00 L712.00 1353.00 L714.00 1353.00 L716.00 1353.00 L718.00 1353.00 L720.00 1353.00 L722.00 1353.00 L724.00 1353.00 L726.00 1353.00 L728.00 1353.00 L730.00 1353.00 L732.00 1353.00 L734.00 1353.00 L736.00 1353.00 L738.00 1353.00 L740.00 1353.00 L742.00 1353.00 L744.00 1353.00 L746.00 1353.00 L748.00 1353.00 L750.00 1353.00 L752.00 1353.00 L754.00 1353.00 L756.00 1353.00 L758.00 1353.00 L760.00 1353.00 L762.00 1353.00 L764.00 1353.00 L766.00 1353.00 L768.00 1353.00 L770.00 1353.00 L772.00 1353.00 L774.00 1353.00 L776.00 1353.00 L778.00 1353.00 L780.00 1353.00 L782.00 1353.00 L784.00 1353.00 L786.00 1353.00 L788.00 1353.00 L790.00 1353.00 L792.00 1353.00 L794.00 1353.00 L796.00 1353.00 L798.00 1353.00 L800.00 1353.00 L802.00 1353.00 L804.00 1353.00 L806.00 1353.00 L808.00 1353.00 L810.00 1353.00 L812.00 1353.00 L814.00 1353.00 L816.00 1353.00 L818.00 1353.00 L820.00 1353.00 L822.00 1353.00 L824.00 1353.00 L826.00 1353.00 L828.00 1353.00 L830.00 1353.00 L832.00 1353.00 L834.00 1353.00 L836.00 1353.00 L838.00 1353.00 L840.00 1353.00 L842.00 1353.00 L844.00 1353.00 L846.00 1353.00 L848.00 1353.00 L850.00 1353.00 L852.00 1353.00 L854.00 1353.00 L856.00 1353.00 L858.00 1353.00 L860.00 1353.00 L862.00 1353.00 L864.00 1353.00 L866.00 1353.00 L868.00 1353.00 L870.00 1353.00 L872.00 1353.00 L874.00 1353.00 L876.00 1353.00 L878.00 1353.00 L880.00 1353.00 L882.00 1353.00 L884.00 1353.00 L886.00 1353.00 L888.00 1353.00 L890.00 1353.00 L892.00 1353.00 L894.00 1353.00 L896.00 1353.00 L898.00 1353.00" stroke="#000080" stroke-width="5.5"/>
<path d="M850.00 1353.00 L850.50 1353.00 L851.00 1353.00 L851.50 1353.00 L852.00 1353.00 L852.50 1353.00 L853.00 1353.00 L853.50 1353.00 L854.00 1353.00 L854.50 1353.00 L855.00 1353.00 L855.50 1352.99 L856.00 1352.99 L856.50 1352.99 L857.00 1352.99 L857.50 1352.99 L858.00 1352.99 L858.50 1352.99 L859.00 1352.99 L859.50 1352.99 L860.00 1352.99 L860.50 1352.99 L861.00 1352.99 L861.50 1352.99 L862.00 1352.99 L862.50 1352.99 L863.00 1352.99 L863.50 1352.99 L864.00 1352.99 L864.50 1352.99 L865.00 1352.99 L865.50 1352.99 L866.00 1352.99 L866.50 1352.99 L867.00 1352.99 L867.50 1352.99 L868.00 1352.99 L868.50 1352.99 L869.00 1352.99 L869.50 1352.99 L870.00 1352.99 L870.50 1352.99 L871.00 1352.99 L871.50 1352.99 L872.00 1352.99 L872.50 1352.99 L873.00 1352.99 L873.50 1352.99 L874.00 1352.99 L874.50 1352.99 L875.00 1352.99 L875.50 1352.99 L876.00 1352.99 L876.50 1352.99 L877.00 1352.99 L877.50 1352.99 L878.00 1352.99 L878.50 1352.99 L879.00 1352.99 L879.50 1352.99 L880.00 1352.99 L880.50 1352.99 L881.00 1352.99 L881.50 1352.99 L882.00 1352.99 L882.50 1352.99 L883.00 1352.99 L883.50 1352.99 L884.00 1352.99 L884.50 1352.99 L885.00 1352.99 L885.50 1352.99 L886.00 1352.99 L886.50 1352.99 L887.00 1352.99 L887.50 1352.99 L888.00 1352.99 L888.50 1352.99 L889.00 1352.99 L889.50 1352.99 L890.00 1352.99 L890.50 1352.99 L891.00 1352.99 L891.50 1352.99 L892.00 1352.98 L892.50 1352.98 L893.00 1352.98 L893.50 1352.98 L894.00 1352.98 L894.50 1352.98 L895.00 1352.98 L895.50 1352.98 L896.00 1352.98 L896.50 1352.98 L897.00 1352.98 L897.50 1352.98 L898.00 1352.98 L898.50 1352.98 L899.00 1352.98 L899.50 1352.98 L900.00 1352.98 L900.50 1352.98 L901.00 1352.98 L901.50 1352.98 L902.00 1352.98 L902.50 1352.98 L903.00 1352.98 L903.50 1352.98 L904.00 1352.98 L904.50 1352.98 L905.00 1352.98 L905.50 1352.98 L906.00 1352.98 L906.50 1352.98 L907.00 1352.98 L907.50 1352.98 L908.00 1352.98 L908.50 1352.98 L909.00 1352.97 L909.50 1352.97 L910.00 1352.97 L910.50 1352.97 L911.00 1352.97 L911.50 1352.97 L912.00 1352.97 L912.50 1352.97 L913.00 1352.97 L913.50 1352.97 L914.00 1352.97 L914.50 1352.97 L915.00 1352.97 L915.50 1352.97 L916.00 1352.97 L916.50 1352.97 L917.00 1352.97 L917.50 1352.97 L918.00 1352.97 L918.50 1352.97 L919.00 1352.97 L919.50 1352.97 L920.00 1352.96 L920.50 1352.96 L921.00 1352.96 L921.50 1352.96 L922.00 1352.96 L922.50 1352.96 L923.00 1352.96 L923.50 1352.96 L924.00 1352.96 L924.50 1352.96 L925.00 1352.96 L925.50 1352.96 L926.00 1352.96 L926.50 1352.96 L927.00 1352.96 L927.50 1352.96 L928.00 1352.95 L928.50 1352.95 L929.00 1352.95 L929.50 1352.95 L930.00 1352.95 L930.50 1352.95 L931.00 1352.95 L931.50 1352.95 L932.00 1352.95 L932.50 1352.95 L933.00 1352.95 L933.50 1352.95 L934.00 1352.95 L934.50 1352.95 L935.00 1352.94 L935.50 1352.94 L936.00 1352.94 L936.50 1352.94 L937.00 1352.94 L937.50 1352.94 L938.00 1352.94 L938.50 1352.94 L939.00 1352.94 L939.50 1352.94 L940.00 1352.94 L940.50 1352.93 L941.00 1352.93 L941.50 1352.93 L942.00 1352.93 L942.50 1352.93 L943.00 1352.93 L943.50 1352.93 L944.00 1352.93 L944.50 1352.93 L945.00 1352.92 L945.50 1352.92 L946.00 1352.92 L946.50 1352.92 L947.00 1352.92 L947.50 1352.92 L948.00 1352.92 L948.50 1352.92 L949.00 1352.91 L949.50 1352.91 L950.00 1352.91 L950.50 1352.91 L951.00 1352.91 L951.50 1352.91 L952.00 1352.91 L952.50 1352.91 L953.00 1352.90 L953.50 1352.90 L954.00 1352.90 L954.50 1352.90 L955.00 1352.90 L955.50 1352.90 L956.00 1352.89 L956.50 1352.89 L957.00 1352.89 L957.50 1352.89 L958.00 1352.89 L958.50 1352.89 L959.00 1352.88 L959.50 1352.88 L960.00 1352.88 L960.50 1352.88 L961.00 1352.88 L961.50 1352.88 L962.00 1352.87 L962.50 1352.87 L963.00 1352.87 L963.50 1352.87 L964.00 1352.87 L964.50 1352.86 L965.00 1352.86 L965.50 1352.86 L966.00 1352.86 L966.50 1352.86 L967.00 1352.85 L967.50 1352.85 L968.00 1352.85 L968.50 1352.85 L969.00 1352.84 L969.50 1352.84 L970.00 1352.84 L970.50 1352.84 L971.00 1352.83 L971.50 1352.83 L972.00 1352.83 L972.50 1352.83 L973.00 1352.82 L973.50 1352.82 L974.00 1352.82 L974.50 1352.82 L975.00 1352.81 L975.50 1352.81 L976.00 1352.81 L976.50 1352.80 L977.00 1352.80 L977.50 1352.80 L978.00 1352.80 L978.50 1352.79 L979.00 1352.79 L979.50 1352.79 L980.00 1352.78 L980.50 1352.78 L981.00 1352.78 L981.50 1352.77 L982.00 1352.77 L982.50 1352.77 L983.00 1352.76 L983.50 1352.76 L984.00 1352.75 L984.50 1352.75 L985.00 1352.75 L985.50 1352.74 L986.00 1352.74 L986.50 1352.74 L987.00 1352.73 L987.50 1352.73 L988.00 1352.72 L988.50 1352.72 L989.00 1352.71 L989.50 1352.71 L990.00 1352.71 L990.50 1352.70 L991.00 1352.70 L991.50 1352.69 L992.00 1352.69 L992.50 1352.68 L993.00 1352.68 L993.50 1352.67 L994.00 1352.67 L994.50 1352.66 L995.00 1352.66 L995.50 1352.65 L996.00 1352.65 L996.50 1352.64 L997.00 1352.64 L997.50 1352.63 L998.00 1352.63 L998.50 1352.62 L999.00 1352.61 L999.50 1352.61 L1000.00 1352.60 L1000.50 1352.60 L1001.00 1352.59 L1001.50 1352.58 L1002.00 1352.58 L1002.50 1352.57 L1003.00 1352.56 L1003.50 1352.56 L1004.00 1352.55 L1004.50 1352.54 L1005.00 1352.54 L1005.50 1352.53 L1006.00 1352.52 L1006.50 1352.52 L1007.00 1352.51 L1007.50 1352.50 L1008.00 1352.49 L1008.50 1352.49 L1009.00 1352.48 L1009.50 1352.47 L1010.00 1352.46 L1010.50 1352.45 L1011.00 1352.45 L1011.50 1352.44 L1012.00 1352.43 L1012.50 1352.42 L1013.00 1352.41 L1013.50 1352.40 L1014.00 1352.39 L1014.50 1352.38 L1015.00 1352.37 L1015.50 1352.36 L1016.00 1352.35 L1016.50 1352.34 L1017.00 1352.34 L1017.50 1352.32 L1018.00 1352.31 L1018.50 1352.30 L1019.00 1352.29 L1019.50 1352.28 L1020.00 1352.27 L1020.50 1352.26 L1021.00 1352.25 L1021.50 1352.24 L1022.00 1352.23 L1022.50 1352.21 L1023.00 1352.20 L1023.50 1352.19 L1024.00 1352.18 L1024.50 1352.17 L1025.00 1352.15 L1025.50 1352.14 L1026.00 1352.13 L1026.50 1352.11 L1027.00 1352.10 L1027.50 1352.09 L1028.00 1352.07 L1028.50 1352.06 L1029.00 1352.04 L1029.50 1352.03 L1030.00 1352.01 L1030.50 1352.00 L1031.00 1351.98 L1031.50 1351.97 L1032.00 1351.95 L1032.50 1351.94 L1033.00 1351.92 L1033.50 1351.91 L1034.00 1351.89 L1034.50 1351.87 L1035.00 1351.85 L1035.50 1351.84 L1036.00 1351.82 L1036.50 1351.80 L1037.00 1351.78 L1037.50 1351.76 L1038.00 1351.75 L1038.50 1351.73 L1039.00 1351.71 L1039.50 1351.69 L1040.00 1351.67 L1040.50 1351.65 L1041.00 1351.63 L1041.50 1351.61 L1042.00 1351.58 L1042.50 1351.56 L1043.00 1351.54 L1043.50 1351.52 L1044.00 1351.50 L1044.50 1351.47 L1045.00 1351.45 L1045.50 1351.43 L1046.00 1351.40 L1046.50 1351.38 L1047.00 1351.35 L1047.50 1351.33 L1048.00 1351.30 L1048.50 1351.28 L1049.00 1351.25 L1049.50 1351.22 L1050.00 1351.20 L1050.50 1351.17 L1051.00 1351.14 L1051.50 1351.11 L1052.00 1351.09 L1052.50 1351.06 L1053.00 1351.03 L1053.50 1351.00 L1054.00 1350.97 L1054.50 1350.94 L1055.00 1350.90 L1055.50 1350.87 L1056.00 1350.84 L1056.50 1350.81 L1057.00 1350.77 L1057.50 1350.74 L1058.00 1350.71 L1058.50 1350.67 L1059.00 1350.64 L1059.50 1350.60 L1060.00 1350.56 L1060.50 1350.53 L1061.00 1350.49 L1061.50 1350.45 L1062.00 1350.41 L1062.50 1350.37 L1063.00 1350.33 L1063.50 1350.29 L1064.00 1350.25 L1064.50 1350.21 L1065.00 1350.17 L1065.50 1350.12 L1066.00 1350.08 L1066.50 1350.04 L1067.00 1349.99 L1067.50 1349.95 L1068.00 1349.90 L1068.50 1349.85 L1069.00 1349.80 L1069.50 1349.76 L1070.00 1349.71 L1070.50 1349.66 L1071.00 1349.61 L1071.50 1349.55 L1072.00 1349.50 L1072.50 1349.45 L1073.00 1349.40 L1073.50 1349.34 L1074.00 1349.29 L1074.50 1349.23 L1075.00 1349.17 L1075.50 1349.11 L1076.00 1349.05 L1076.50 1348.99 L1077.00 1348.93 L1077.50 1348.87 L1078.00 1348.81 L1078.50 1348.75 L1079.00 1348.68 L1079.50 1348.62 L1080.00 1348.55 L1080.50 1348.48 L1081.00 1348.41 L1081.50 1348.35 L1082.00 1348.27 L1082.50 1348.20 L1083.00 1348.13 L1083.50 1348.06 L1084.00 1347.98 L1084.50 1347.91 L1085.00 1347.83 L1085.50 1347.75 L1086.00 1347.67 L1086.50 1347.59 L1087.00 1347.51 L1087.50 1347.43 L1088.00 1347.34 L1088.50 1347.26 L1089.00 1347.17 L1089.50 1347.08 L1090.00 1346.99 L1090.50 1346.90 L1091.00 1346.81 L1091.50 1346.72 L1092.00 1346.62 L1092.50 1346.52 L1093.00 1346.43 L1093.50 1346.33 L1094.00 1346.23 L1094.50 1346.12 L1095.00 1346.02 L1095.50 1345.92 L1096.00 1345.81 L1096.50 1345.70 L1097.00 1345.59 L1097.50 1345.48 L1098.00 1345.37 L1098.50 1345.25 L1099.00 1345.13 L1099.50 1345.01 L1100.00 1344.89 L1100.50 1344.77 L1101.00 1344.65 L1101.50 1344.52 L1102.00 1344.40 L1102.50 1344.27 L1103.00 1344.13 L1103.50 1344.00 L1104.00 1343.87 L1104.50 1343.73 L1105.00 1343.59 L1105.50 1343.45 L1106.00 1343.30 L1106.50 1343.16 L1107.00 1343.01 L1107.50 1342.86 L1108.00 1342.71 L1108.50 1342.55 L1109.00 1342.40 L1109.50 1342.24 L1110.00 1342.08 L1110.50 1341.91 L1111.00 1341.75 L1111.50 1341.58 L1112.00 1341.41 L1112.50 1341.23 L1113.00 1341.06 L1113.50 1340.88 L1114.00 1340.70 L1114.50 1340.51 L1115.00 1340.33 L1115.50 1340.14 L1116.00 1339.95 L1116.50 1339.75 L1117.00 1339.55 L1117.50 1339.35 L1118.00 1339.15 L1118.50 1338.94 L1119.00 1338.73 L1119.50 1338.52 L1120.00 1338.30 L1120.50 1338.08 L1121.00 1337.86 L1121.50 1337.64 L1122.00 1337.41 L1122.50 1337.17 L1123.00 1336.94 L1123.50 1336.70 L1124.00 1336.46 L1124.50 1336.21 L1125.00 1335.96 L1125.50 1335.71 L1126.00 1335.45 L1126.50 1335.19 L1127.00 1334.93 L1127.50 1334.66 L1128.00 1334.39 L1128.50 1334.11 L1129.00 1333.83 L1129.50 1333.55 L1130.00 1333.26 L1130.50 1332.97 L1131.00 1332.67 L1131.50 1332.37 L1132.00 1332.07 L1132.50 1331.76 L1133.00 1331.45 L1133.50 1331.13 L1134.00 1330.81 L1134.50 1330.48 L1135.00 1330.15 L1135.50 1329.81 L1136.00 1329.47 L1136.50 1329.13 L1137.00 1328.78 L1137.50 1328.42 L1138.00 1328.06 L1138.50 1327.69 L1139.00 1327.32 L1139.50 1326.95 L1140.00 1326.57 L1140.50 1326.18 L1141.00 1325.79 L1141.50 1325.39 L1142.00 1324.99 L1142.50 1324.58 L1143.00 1324.16 L1143.50 1323.74 L1144.00 1323.32 L1144.50 1322.88 L1145.00 1322.45 L1145.50 1322.00 L1146.00 1321.55 L1146.50 1321.09 L1147.00 1320.63 L1147.50 1320.16 L1148.00 1319.69 L1148.50 1319.21 L1149.00 1318.72 L1149.50 1318.22 L1150.00 1317.72 L1150.50 1317.21 L1151.00 1316.69 L1151.50 1316.17 L1152.00 1315.64 L1152.50 1315.10 L1153.00 1314.56 L1153.50 1314.01 L1154.00 1313.45 L1154.50 1312.88 L1155.00 1312.31 L1155.50 1311.73 L1156.00 1311.14 L1156.50 1310.54 L1157.00 1309.93 L1157.50 1309.32 L1158.00 1308.70 L1158.50 1308.07 L1159.00 1307.43 L1159.50 1306.79 L1160.00 1306.13 L1160.50 1305.47 L1161.00 1304.80 L1161.50 1304.11 L1162.00 1303.42 L1162.50 1302.73 L1163.00 1302.02 L1163.50 1301.30 L1164.00 1300.58 L1164.50 1299.84 L1165.00 1299.10 L1165.50 1298.34 L1166.00 1297.58 L1166.50 1296.80 L1167.00 1296.02 L1167.50 1295.23 L1168.00 1294.42 L1168.50 1293.61 L1169.00 1292.79 L1169.50 1291.95 L1170.00 1291.11 L1170.50 1290.26 L1171.00 1289.39 L1171.50 1288.52 L1172.00 1287.63 L1172.50 1286.73 L1173.00 1285.82 L1173.50 1284.90 L1174.00 1283.97 L1174.50 1283.03 L1175.00 1282.08 L1175.50 1281.12 L1176.00 1280.14 L1176.50 1279.15 L1177.00 1278.15 L1177.50 1277.14 L1178.00 1276.12 L1178.50 1275.09 L1179.00 1274.04 L1179.50 1272.98 L1180.00 1271.91 L1180.50 1270.83 L1181.00 1269.73 L1181.50 1268.62 L1182.00 1267.50 L1182.50 1266.37 L1183.00 1265.22 L1183.50 1264.06 L1184.00 1262.89 L1184.50 1261.71 L1185.00 1260.51 L1185.50 1259.30 L1186.00 1258.07 L1186.50 1256.84 L1187.00 1255.58 L1187.50 1254.32 L1188.00 1253.04 L1188.50 1251.75 L1189.00 1250.44 L1189.50 1249.13 L1190.00 1247.79 L1190.50 1246.45 L1191.00 1245.09 L1191.50 1243.71 L1192.00 1242.32 L1192.50 1240.92 L1193.00 1239.50 L1193.50 1238.07 L1194.00 1236.63 L1194.50 1235.17 L1195.00 1233.69 L1195.50 1232.21 L1196.00 1230.70 L1196.50 1229.19 L1197.00 1227.66 L1197.50 1226.11 L1198.00 1224.55 L1198.50 1222.97 L1199.00 1221.39 L1199.50 1219.78 L1200.00 1218.16 L1200.50 1216.53 L1201.00 1214.88 L1201.50 1213.22 L1202.00 1211.54 L1202.50 1209.85 L1203.00 1208.14 L1203.50 1206.42 L1204.00 1204.69 L1204.50 1202.94 L1205.00 1201.17 L1205.50 1199.39 L1206.00 1197.60 L1206.50 1195.79 L1207.00 1193.97 L1207.50 1192.13 L1208.00 1190.28 L1208.50 1188.41 L1209.00 1186.53 L1209.50 1184.64 L1210.00 1182.73 L1210.50 1180.81 L1211.00 1178.87 L1211.50 1176.92 L1212.00 1174.96 L1212.50 1172.98 L1213.00 1170.99 L1213.50 1168.98 L1214.00 1166.96 L1214.50 1164.93 L1215.00 1162.88 L1215.50 1160.82 L1216.00 1158.75 L1216.50 1156.66 L1217.00 1154.56 L1217.50 1152.45 L1218.00 1150.33 L1218.50 1148.19 L1219.00 1146.04 L1219.50 1143.88 L1220.00 1141.71 L1220.50 1139.52 L1221.00 1137.32 L1221.50 1135.11 L1222.00 1132.89 L1222.50 1130.66 L1223.00 1128.42 L1223.50 1126.16 L1224.00 1123.90 L1224.50 1121.62 L1225.00 1119.34 L1225.50 1117.04 L1226.00 1114.73 L1226.50 1112.42 L1227.00 1110.09 L1227.50 1107.76 L1228.00 1105.41 L1228.50 1103.06 L1229.00 1100.69 L1229.50 1098.32 L1230.00 1095.94 L1230.50 1093.56 L1231.00 1091.16 L1231.50 1088.76 L1232.00 1086.35 L1232.50 1083.93 L1233.00 1081.50 L1233.50 1079.07 L1234.00 1076.63 L1234.50 1074.19 L1235.00 1071.74 L1235.50 1069.28 L1236.00 1066.82 L1236.50 1064.36 L1237.00 1061.89 L1237.50 1059.41 L1238.00 1056.93 L1238.50 1054.45 L1239.00 1051.96 L1239.50 1049.47 L1240.00 1046.97 L1240.50 1044.47 L1241.00 1041.97 L1241.50 1039.47 L1242.00 1036.97 L1242.50 1034.46 L1243.00 1031.95 L1243.50 1029.44 L1244.00 1026.93 L1244.50 1024.42 L1245.00 1021.91 L1245.50 1019.40 L1246.00 1016.89 L1246.50 1014.37 L1247.00 1011.86 L1247.50 1009.36 L1248.00 1006.85 L1248.50 1004.34 L1249.00 1001.84 L1249.50 999.34 L1250.00 996.84 L1250.50 994.34 L1251.00 991.85 L1251.50 989.35 L1252.00 986.87 L1252.50 984.38 L1253.00 981.91 L1253.50 979.43 L1254.00 976.96 L1254.50 974.50 L1255.00 972.04 L1255.50 969.58 L1256.00 967.13 L1256.50 964.69 L1257.00 962.26 L1257.50 959.83 L1258.00 957.40 L1258.50 954.99 L1259.00 952.58 L1259.50 950.18 L1260.00 947.79 L1260.50 945.40 L1261.00 943.02 L1261.50 940.65 L1262.00 938.29 L1262.50 935.94 L1263.00 933.60 L1263.50 931.27 L1264.00 928.95 L1264.50 926.63 L1265.00 924.33 L1265.50 922.04 L1266.00 919.75 L1266.50 917.48 L1267.00 915.22 L1267.50 912.97 L1268.00 910.73 L1268.50 908.50 L1269.00 906.28 L1269.50 904.08 L1270.00 901.88 L1270.50 899.70 L1271.00 897.53 L1271.50 895.37 L1272.00 893.23 L1272.50 891.09 L1273.00 888.97 L1273.50 886.86 L1274.00 884.77 L1274.50 882.69 L1275.00 880.62 L1275.50 878.56 L1276.00 876.52 L1276.50 874.49 L1277.00 872.48 L1277.50 870.47 L1278.00 868.49 L1278.50 866.51 L1279.00 864.55 L1279.50 862.61 L1280.00 860.67 L1280.50 858.75 L1281.00 856.85 L1281.50 854.96 L1282.00 853.08 L1282.50 851.22 L1283.00 849.37 L1283.50 847.54 L1284.00 845.72 L1284.50 843.92 L1285.00 842.13 L1285.50 840.36 L1286.00 838.59 L1286.50 836.85 L1287.00 835.12 L1287.50 833.40 L1288.00 831.70 L1288.50 830.01 L1289.00 828.34 L1289.50 826.68 L1290.00 825.04 L1290.50 823.41 L1291.00 821.79 L1291.50 820.20 L1292.00 818.61 L1292.50 817.04 L1293.00 815.48 L1293.50 813.94 L1294.00 812.42 L1294.50 810.90 L1295.00 809.40 L1295.50 807.92 L1296.00 806.45 L1296.50 805.00 L1297.00 803.56 L1297.50 802.13 L1298.00 800.72 L1298.50 799.32 L1299.00 797.93 L1299.50 796.56 L1300.00 795.21 L1300.50 793.86 L1301.00 792.54 L1301.50 791.22 L1302.00 789.92 L1302.50 788.63 L1303.00 787.36 L1303.50 786.10 L1304.00 784.85 L1304.50 783.62 L1305.00 782.40 L1305.50 781.19 L1306.00 780.00 L1306.50 778.81 L1307.00 777.65 L1307.50 776.49 L1308.00 775.35 L1308.50 774.22 L1309.00 773.10 L1309.50 772.00 L1310.00 770.91 L1310.50 769.83 L1311.00 768.76 L1311.50 767.70 L1312.00 766.66 L1312.50 765.63 L1313.00 764.61 L1313.50 763.60 L1314.00 762.61 L1314.50 761.62 L1315.00 760.65 L1315.50 759.69 L1316.00 758.74 L1316.50 757.80 L1317.00 756.88 L1317.50 755.96 L1318.00 755.06 L1318.50 754.16 L1319.00 753.28 L1319.50 752.41 L1320.00 751.55 L1320.50 750.69 L1321.00 749.85 L1321.50 749.02 L1322.00 748.20 L1322.50 747.39 L1323.00 746.59 L1323.50 745.80 L1324.00 745.02 L1324.50 744.25 L1325.00 743.49 L1325.50 742.74 L1326.00 742.00 L1326.50 741.26 L1327.00 740.54 L1327.50 739.83 L1328.00 739.12 L1328.50 738.43 L1329.00 737.74 L1329.50 737.06 L1330.00 736.39 L1330.50 735.73 L1331.00 735.08 L1331.50 734.43 L1332.00 733.80 L1332.50 733.17 L1333.00 732.55 L1333.50 731.94 L1334.00 731.34 L1334.50 730.74 L1335.00 730.16 L1335.50 729.58 L1336.00 729.01 L1336.50 728.44 L1337.00 727.88 L1337.50 727.33 L1338.00 726.79 L1338.50 726.26 L1339.00 725.73 L1339.50 725.21 L1340.00 724.70 L1340.50 724.19 L1341.00 723.69 L1341.50 723.20 L1342.00 722.71 L1342.50 722.23 L1343.00 721.75 L1343.50 721.29 L1344.00 720.83 L1344.50 720.37 L1345.00 719.92 L1345.50 719.48 L1346.00 719.05 L1346.50 718.62 L1347.00 718.19 L1347.50 717.77 L1348.00 717.36 L1348.50 716.95 L1349.00 716.55 L1349.50 716.15 L1350.00 715.76 L1350.50 715.38 L1351.00 715.00 L1351.50 714.62 L1352.00 714.26 L1352.50 713.89 L1353.00 713.53 L1353.50 713.18 L1354.00 712.83 L1354.50 712.48 L1355.00 712.14 L1355.50 711.81 L1356.00 711.48 L1356.50 711.15 L1357.00 710.83 L1357.50 710.52 L1358.00 710.20 L1358.50 709.90 L1359.00 709.59 L1359.50 709.29 L1360.00 709.00 L1360.50 708.71 L1361.00 708.42 L1361.50 708.14 L1362.00 707.86 L1362.50 707.59 L1363.00 707.32 L1363.50 707.05 L1364.00 706.79 L1364.50 706.53 L1365.00 706.27 L1365.50 706.02 L1366.00 705.77 L1366.50 705.53 L1367.00 705.29 L1367.50 705.05 L1368.00 704.81 L1368.50 704.58 L1369.00 704.36 L1369.50 704.13 L1370.00 703.91 L1370.50 703.69 L1371.00 703.48 L1371.50 703.26 L1372.00 703.06 L1372.50 702.85 L1373.00 702.65 L1373.50 702.45 L1374.00 702.25 L1374.50 702.06 L1375.00 701.86 L1375.50 701.68 L1376.00 701.49 L1376.50 701.31 L1377.00 701.13 L1377.50 700.95 L1378.00 700.77 L1378.50 700.60 L1379.00 700.43 L1379.50 700.26 L1380.00 700.10 L1380.50 699.93 L1381.00 699.77 L1381.50 699.61 L1382.00 699.46 L1382.50 699.30 L1383.00 699.15 L1383.50 699.00 L1384.00 698.86 L1384.50 698.71 L1385.00 698.57 L1385.50 698.43 L1386.00 698.29 L1386.50 698.15 L1387.00 698.02 L1387.50 697.88 L1388.00 697.75 L1388.50 697.63 L1389.00 697.50 L1389.50 697.37 L1390.00 697.25 L1390.50 697.13 L1391.00 697.01 L1391.50 696.89 L1392.00 696.77 L1392.50 696.66 L1393.00 696.55 L1393.50 696.44 L1394.00 696.33 L1394.50 696.22 L1395.00 696.11 L1395.50 696.01 L1396.00 695.90 L1396.50 695.80 L1397.00 695.70 L1397.50 695.60 L1398.00 695.51 L1398.50 695.41 L1399.00 695.32 L1399.50 695.22" stroke="#C93244" stroke-width="5.5"/>
<path d="M416.6 1351.75 L416.6 1086" stroke="#808080" stroke-width="2.1" stroke-dasharray="6.9 3.12"/>
<path d="M1040.8 1351.75 L1040.8 1086" stroke="#808080" stroke-width="2.1" stroke-dasharray="6.9 3.12"/>
<g stroke="#000" stroke-width="3.9" stroke-linecap="round" stroke-linejoin="round"><path d="M428.4 1220.1 L1029.2 1220.1"/><path d="M461.7 1203.5 L428.4 1220.1 L461.7 1236.8"/><path d="M995.6 1203.5 L1029.2 1220.1 L995.6 1236.8"/></g>
</g>
<path d="M362.7 349.1 L454.2 349.1" stroke="#B3B3B3" stroke-width="7" stroke-linecap="square"/>
<path d="M363.0 417.4 L454.0 417.4" stroke="#000" stroke-width="5.6" stroke-dasharray="20.7 9.3"/>
<path d="M362.9 489.5 L453.9 489.5" stroke="#F0923B" stroke-width="5.6" stroke-linecap="square"/>
<path d="M507.25 349.80 C507.41 349.51 508.19 348.65 508.22 348.07 C508.26 347.49 507.93 346.77 507.44 346.33 C506.95 345.90 506.07 345.61 505.29 345.47 C504.51 345.32 503.70 345.32 502.75 345.47 C501.81 345.61 500.49 345.87 499.63 346.33 C498.76 346.80 497.96 347.56 497.57 348.26 C497.18 348.97 497.13 349.84 497.28 350.57 C497.43 351.31 497.80 352.08 498.45 352.69 C499.10 353.30 500.21 353.72 501.19 354.24 C502.17 354.75 503.47 355.14 504.31 355.78 C505.16 356.42 505.91 357.35 506.27 358.09 C506.63 358.83 506.59 359.47 506.46 360.21 C506.33 360.95 506.11 361.80 505.49 362.52 C504.87 363.25 503.86 364.12 502.75 364.55 C501.64 364.97 500.11 365.07 498.84 365.07 C497.57 365.07 496.06 364.91 495.13 364.55 C494.20 364.19 493.52 363.50 493.27 362.91 C493.03 362.31 493.60 361.30 493.67 360.98" fill="none" stroke="#000" stroke-width="1.93" stroke-linecap="round" stroke-linejoin="round"/><path d="M497.87 351.54 C498.09 351.83 498.65 352.81 499.23 353.27 C499.82 353.74 500.54 353.92 501.38 354.33 C502.23 354.75 503.53 355.22 504.31 355.78 C505.10 356.34 505.70 357.06 506.07 357.71 C506.45 358.35 506.48 359.31 506.56 359.63" fill="none" stroke="#000" stroke-width="4.53" stroke-linecap="round" stroke-linejoin="round"/><path d="M497.09 349.61 C497.13 349.93 497.33 351.22 497.38 351.54" fill="none" stroke="#000" stroke-width="3.62" stroke-linecap="round" stroke-linejoin="round"/><circle cx="507.25" cy="349.80" r="1.70" fill="#000"/><circle cx="494.54" cy="360.21" r="1.93" fill="#000"/>
<text transform="matrix(0.33690 0 0 0.34167 511.326 373.358)" font-size="100"  >mem</text>
<path fill="#000" d="M595.96 330.80 C595.24 331.55 593.07 333.24 591.65 335.33 C590.22 337.42 588.51 340.30 587.42 343.34 C586.33 346.37 585.10 350.15 585.10 353.55 C585.10 356.95 586.33 360.73 587.42 363.76 C588.51 366.80 590.22 369.58 591.65 371.77 C593.07 373.96 595.24 376.05 595.96 376.90 L596.80 376.18 C596.10 375.24 593.81 372.77 592.58 370.57 C591.34 368.37 590.11 365.80 589.41 362.96 C588.70 360.12 588.35 356.69 588.35 353.55 C588.35 350.41 588.70 346.97 589.41 344.14 C590.11 341.30 591.34 338.63 592.58 336.53 C593.81 334.42 596.10 332.36 596.80 331.52 Z"/>
<path d="M601.72 352.19 C602.01 351.54 602.79 349.33 603.44 348.30 C604.10 347.26 604.83 346.49 605.67 345.96 C606.52 345.44 607.63 345.14 608.51 345.14 C609.39 345.14 610.37 345.47 610.94 345.96 C611.51 346.45 611.82 347.36 611.95 348.10 C612.09 348.85 611.79 350.05 611.75 350.43" fill="none" stroke="#000" stroke-width="1.46" stroke-linecap="round" stroke-linejoin="round"/><path d="M612.36 348.49 C611.82 350.60 609.66 359.03 609.12 361.13" fill="none" stroke="#000" stroke-width="3.11" stroke-linecap="round" stroke-linejoin="round"/><path d="M609.32 360.35 C609.12 360.81 608.68 362.32 608.10 363.08 C607.53 363.84 606.62 364.57 605.88 364.92 C605.13 365.28 604.36 365.30 603.65 365.22 C602.94 365.14 602.08 364.86 601.62 364.44 C601.16 364.02 601.03 362.98 600.91 362.69" fill="none" stroke="#000" stroke-width="1.46" stroke-linecap="round" stroke-linejoin="round"/><path d="M621.07 348.68 C620.97 348.30 620.87 346.90 620.46 346.35 C620.06 345.80 619.32 345.48 618.64 345.38 C617.96 345.28 617.09 345.44 616.41 345.77 C615.74 346.09 615.09 346.61 614.59 347.32 C614.08 348.04 613.57 349.59 613.37 350.05" fill="none" stroke="#000" stroke-width="1.46" stroke-linecap="round" stroke-linejoin="round"/><path d="M609.73 361.52 C609.89 361.94 610.13 363.43 610.74 364.05 C611.35 364.67 612.49 365.11 613.37 365.26 C614.25 365.40 615.06 365.29 616.01 364.92 C616.95 364.56 618.07 364.11 619.05 363.08 C620.02 362.04 621.41 359.43 621.88 358.70" fill="none" stroke="#000" stroke-width="1.46" stroke-linecap="round" stroke-linejoin="round"/><circle cx="621.27" cy="348.49" r="2.04" fill="#000"/><circle cx="602.23" cy="361.52" r="2.14" fill="#000"/>
<path fill="#000" d="M628.30 330.80 C628.98 331.55 631.04 333.24 632.39 335.33 C633.74 337.42 635.36 340.30 636.40 343.34 C637.43 346.37 638.60 350.15 638.60 353.55 C638.60 356.95 637.43 360.73 636.40 363.76 C635.36 366.80 633.74 369.58 632.39 371.77 C631.04 373.96 628.98 376.05 628.30 376.90 L627.50 376.18 C628.17 375.24 630.34 372.77 631.51 370.57 C632.68 368.37 633.84 365.80 634.51 362.96 C635.18 360.12 635.51 356.69 635.51 353.55 C635.51 350.41 635.18 346.97 634.51 344.14 C633.84 341.30 632.68 338.63 631.51 336.53 C630.34 334.42 628.17 332.36 627.50 331.52 Z"/>
<path d="M507.25 417.70 C507.41 417.41 508.19 416.55 508.22 415.97 C508.26 415.39 507.93 414.67 507.44 414.23 C506.95 413.80 506.07 413.51 505.29 413.37 C504.51 413.22 503.70 413.22 502.75 413.37 C501.81 413.51 500.49 413.77 499.63 414.23 C498.76 414.70 497.96 415.46 497.57 416.16 C497.18 416.87 497.13 417.74 497.28 418.47 C497.43 419.21 497.80 419.98 498.45 420.59 C499.10 421.20 500.21 421.62 501.19 422.14 C502.17 422.65 503.47 423.04 504.31 423.68 C505.16 424.32 505.91 425.25 506.27 425.99 C506.63 426.73 506.59 427.37 506.46 428.11 C506.33 428.85 506.11 429.70 505.49 430.42 C504.87 431.15 503.86 432.02 502.75 432.45 C501.64 432.87 500.11 432.97 498.84 432.97 C497.57 432.97 496.06 432.81 495.13 432.45 C494.20 432.09 493.52 431.40 493.27 430.81 C493.03 430.21 493.60 429.20 493.67 428.88" fill="none" stroke="#000" stroke-width="1.93" stroke-linecap="round" stroke-linejoin="round"/><path d="M497.87 419.44 C498.09 419.73 498.65 420.71 499.23 421.17 C499.82 421.64 500.54 421.82 501.38 422.23 C502.23 422.65 503.53 423.12 504.31 423.68 C505.10 424.24 505.70 424.96 506.07 425.61 C506.45 426.25 506.48 427.21 506.56 427.53" fill="none" stroke="#000" stroke-width="4.53" stroke-linecap="round" stroke-linejoin="round"/><path d="M497.09 417.51 C497.13 417.83 497.33 419.12 497.38 419.44" fill="none" stroke="#000" stroke-width="3.62" stroke-linecap="round" stroke-linejoin="round"/><circle cx="507.25" cy="417.70" r="1.70" fill="#000"/><circle cx="494.54" cy="428.11" r="1.93" fill="#000"/>
<text transform="matrix(0.33430 0 0 0.29103 510.796 441.288)" font-size="100"  >gen</text>
<path fill="#000" d="M576.39 399.20 C575.70 399.95 573.63 401.61 572.27 403.68 C570.91 405.74 569.27 408.60 568.22 411.60 C567.18 414.60 566.00 418.34 566.00 421.70 C566.00 425.07 567.18 428.80 568.22 431.81 C569.27 434.81 570.91 437.56 572.27 439.73 C573.63 441.89 575.70 443.95 576.39 444.80 L577.20 444.09 C576.53 443.16 574.34 440.72 573.16 438.54 C571.98 436.36 570.80 433.82 570.12 431.01 C569.45 428.21 569.11 424.81 569.11 421.70 C569.11 418.60 569.45 415.20 570.12 412.39 C570.80 409.59 571.98 406.95 573.16 404.87 C574.34 402.79 576.53 400.74 577.20 399.91 Z"/>
<path d="M582.59 420.09 C582.87 419.44 583.63 417.23 584.27 416.20 C584.91 415.16 585.63 414.39 586.45 413.86 C587.28 413.34 588.37 413.04 589.23 413.04 C590.09 413.04 591.04 413.37 591.61 413.86 C592.17 414.35 592.47 415.26 592.60 416.00 C592.73 416.75 592.43 417.95 592.40 418.33" fill="none" stroke="#000" stroke-width="1.46" stroke-linecap="round" stroke-linejoin="round"/><path d="M592.99 416.39 C592.47 418.50 590.35 426.93 589.82 429.03" fill="none" stroke="#000" stroke-width="3.11" stroke-linecap="round" stroke-linejoin="round"/><path d="M590.02 428.25 C589.82 428.71 589.39 430.22 588.83 430.98 C588.27 431.74 587.38 432.47 586.65 432.82 C585.92 433.18 585.16 433.20 584.47 433.12 C583.77 433.04 582.93 432.76 582.49 432.34 C582.04 431.92 581.91 430.88 581.79 430.59" fill="none" stroke="#000" stroke-width="1.46" stroke-linecap="round" stroke-linejoin="round"/><path d="M601.52 416.58 C601.42 416.20 601.32 414.80 600.92 414.25 C600.53 413.70 599.80 413.38 599.14 413.28 C598.48 413.18 597.62 413.34 596.96 413.67 C596.30 413.99 595.67 414.51 595.17 415.22 C594.68 415.94 594.18 417.49 593.99 417.95" fill="none" stroke="#000" stroke-width="1.46" stroke-linecap="round" stroke-linejoin="round"/><path d="M590.42 429.42 C590.58 429.84 590.81 431.33 591.41 431.95 C592.00 432.57 593.13 433.01 593.99 433.16 C594.84 433.30 595.64 433.19 596.56 432.82 C597.49 432.46 598.58 432.01 599.54 430.98 C600.49 429.94 601.85 427.33 602.31 426.60" fill="none" stroke="#000" stroke-width="1.46" stroke-linecap="round" stroke-linejoin="round"/><circle cx="601.72" cy="416.39" r="2.04" fill="#000"/><circle cx="583.08" cy="429.42" r="2.14" fill="#000"/>
<path fill="#000" d="M608.70 399.20 C609.38 399.95 611.44 401.61 612.79 403.68 C614.14 405.74 615.76 408.60 616.80 411.60 C617.83 414.60 619.00 418.34 619.00 421.70 C619.00 425.07 617.83 428.80 616.80 431.81 C615.76 434.81 614.14 437.56 612.79 439.73 C611.44 441.89 609.38 443.95 608.70 444.80 L607.90 444.09 C608.57 443.16 610.74 440.72 611.91 438.54 C613.08 436.36 614.24 433.82 614.91 431.01 C615.58 428.21 615.91 424.81 615.91 421.70 C615.91 418.60 615.58 415.20 614.91 412.39 C614.24 409.59 613.08 406.95 611.91 404.87 C610.74 402.79 608.57 400.74 607.90 399.91 Z"/>
<path d="M507.26 490.15 C507.42 489.86 508.20 488.99 508.23 488.40 C508.26 487.82 507.94 487.09 507.45 486.65 C506.97 486.21 506.09 485.92 505.31 485.78 C504.54 485.63 503.73 485.63 502.79 485.78 C501.85 485.92 500.54 486.18 499.68 486.65 C498.82 487.12 498.03 487.88 497.64 488.60 C497.25 489.31 497.20 490.19 497.35 490.93 C497.50 491.68 497.87 492.45 498.52 493.07 C499.16 493.69 500.26 494.11 501.24 494.63 C502.21 495.15 503.50 495.54 504.34 496.18 C505.19 496.83 505.93 497.77 506.29 498.52 C506.64 499.26 506.61 499.91 506.48 500.66 C506.35 501.40 506.12 502.26 505.51 502.99 C504.89 503.72 503.89 504.61 502.79 505.04 C501.69 505.46 500.17 505.56 498.90 505.56 C497.64 505.56 496.14 505.40 495.21 505.04 C494.29 504.67 493.61 503.98 493.37 503.38 C493.13 502.78 493.69 501.76 493.76 501.44" fill="none" stroke="#000" stroke-width="1.95" stroke-linecap="round" stroke-linejoin="round"/><path d="M497.93 491.90 C498.16 492.20 498.71 493.18 499.29 493.65 C499.88 494.12 500.59 494.30 501.43 494.72 C502.27 495.15 503.57 495.62 504.34 496.18 C505.12 496.75 505.72 497.48 506.09 498.13 C506.46 498.78 506.50 499.75 506.58 500.07" fill="none" stroke="#000" stroke-width="4.57" stroke-linecap="round" stroke-linejoin="round"/><path d="M497.16 489.96 C497.20 490.28 497.40 491.58 497.45 491.90" fill="none" stroke="#000" stroke-width="3.66" stroke-linecap="round" stroke-linejoin="round"/><circle cx="507.26" cy="490.15" r="1.71" fill="#000"/><circle cx="494.63" cy="500.66" r="1.95" fill="#000"/>
<ellipse cx="519.2" cy="501.85" rx="5.2" ry="11.25" transform="rotate(17 519.2 501.85)" fill="none" stroke="#000" stroke-width="1.9"/><path d="M515.6 502.3 L522.6 502.3" stroke="#000" stroke-width="1.1"/>
<path fill="#000" d="M543.43 471.00 C542.77 471.75 540.79 473.44 539.49 475.53 C538.19 477.62 536.62 480.50 535.62 483.54 C534.63 486.57 533.50 490.35 533.50 493.75 C533.50 497.15 534.63 500.93 535.62 503.96 C536.62 507.00 538.19 509.78 539.49 511.97 C540.79 514.16 542.77 516.25 543.43 517.10 L544.20 516.38 C543.56 515.44 541.46 512.97 540.34 510.77 C539.21 508.57 538.08 506.00 537.44 503.16 C536.80 500.32 536.47 496.89 536.47 493.75 C536.47 490.61 536.80 487.17 537.44 484.34 C538.08 481.50 539.21 478.83 540.34 476.73 C541.46 474.62 543.56 472.56 544.20 471.72 Z"/>
<path d="M549.87 492.56 C550.15 491.90 550.90 489.68 551.54 488.63 C552.18 487.58 552.88 486.80 553.70 486.27 C554.52 485.74 555.60 485.45 556.45 485.45 C557.31 485.45 558.26 485.78 558.81 486.27 C559.37 486.77 559.66 487.68 559.79 488.43 C559.93 489.19 559.63 490.40 559.60 490.79" fill="none" stroke="#000" stroke-width="1.47" stroke-linecap="round" stroke-linejoin="round"/><path d="M560.19 488.83 C559.66 490.95 557.57 499.46 557.04 501.59" fill="none" stroke="#000" stroke-width="3.14" stroke-linecap="round" stroke-linejoin="round"/><path d="M557.24 500.80 C557.04 501.26 556.62 502.78 556.06 503.55 C555.50 504.32 554.62 505.06 553.90 505.42 C553.18 505.78 552.43 505.79 551.74 505.71 C551.05 505.63 550.21 505.35 549.77 504.93 C549.33 504.50 549.20 503.45 549.08 503.16" fill="none" stroke="#000" stroke-width="1.47" stroke-linecap="round" stroke-linejoin="round"/><path d="M568.64 489.02 C568.54 488.63 568.44 487.22 568.05 486.67 C567.66 486.11 566.94 485.78 566.28 485.69 C565.62 485.59 564.77 485.75 564.12 486.08 C563.46 486.41 562.84 486.93 562.35 487.65 C561.86 488.37 561.37 489.94 561.17 490.40" fill="none" stroke="#000" stroke-width="1.47" stroke-linecap="round" stroke-linejoin="round"/><path d="M557.63 501.98 C557.80 502.41 558.03 503.90 558.62 504.53 C559.21 505.16 560.32 505.60 561.17 505.75 C562.02 505.90 562.81 505.78 563.73 505.42 C564.64 505.05 565.72 504.60 566.67 503.55 C567.62 502.50 568.97 499.87 569.42 499.13" fill="none" stroke="#000" stroke-width="1.47" stroke-linecap="round" stroke-linejoin="round"/><circle cx="568.83" cy="488.83" r="2.06" fill="#000"/><circle cx="550.36" cy="501.98" r="2.16" fill="#000"/>
<path fill="#000" d="M576.00 471.00 C576.68 471.75 578.74 473.44 580.09 475.53 C581.44 477.62 583.06 480.50 584.10 483.54 C585.13 486.57 586.30 490.35 586.30 493.75 C586.30 497.15 585.13 500.93 584.10 503.96 C583.06 507.00 581.44 509.78 580.09 511.97 C578.74 514.16 576.68 516.25 576.00 517.10 L575.20 516.38 C575.87 515.44 578.04 512.97 579.21 510.77 C580.38 508.57 581.54 506.00 582.21 503.16 C582.88 500.32 583.21 496.89 583.21 493.75 C583.21 490.61 582.88 487.17 582.21 484.34 C581.54 481.50 580.38 478.83 579.21 476.73 C578.04 474.62 575.87 472.56 575.20 471.72 Z"/>
<g fill="#000"><rect x="132.08" y="22.96" width="1250.94" height="3.0"/><rect x="132.08" y="1350.03" width="1250.94" height="3.55"/><rect x="132.08" y="22.96" width="4.0" height="1330.62"/><rect x="1379.35" y="22.96" width="3.67" height="1330.62"/></g>
<text transform="translate(87.6 938.1) rotate(-90)" font-size="83.3" fill="#000080">Inverse quality</text>
<text transform="translate(1466.7 1065.4) rotate(-90)" font-size="83.5" fill="#C93244">Memorization fraction</text>
<text x="500" y="1436.8" font-size="84">Training time</text>
<path fill="#000" d="M979.28 1412.49 C981.94 1408.93 986.21 1404.48 990.48 1401.81 C991.90 1401.27 994.03 1401.20 996.17 1401.20 L1016.43 1401.20 C1018.57 1401.20 1019.10 1402.70 1018.92 1403.76 C1018.74 1405.37 1017.50 1406.44 1016.08 1406.44 L1001.50 1406.54 L995.81 1434.04 C995.28 1436.35 994.03 1437.60 992.26 1437.60 C990.48 1437.60 989.41 1436.35 989.84 1434.39 L997.87 1406.54 L991.19 1406.61 C987.28 1406.97 984.08 1409.11 980.88 1413.02 C980.34 1413.67 979.46 1413.74 979.28 1412.49 Z"/>
<text x="728.8" y="684.1" font-size="68.4" font-style="italic" fill="#348023" text-anchor="middle">Generalization</text>
<text x="726.8" y="754" font-size="68.4" font-style="italic" fill="#348023" text-anchor="middle">regime</text>
<text x="1176.6" y="684.5" font-size="68.1" font-style="italic" fill="#C93244" text-anchor="middle">Memorization</text>
<text x="1176.9" y="753" font-size="68.1" font-style="italic" fill="#C93244" text-anchor="middle">regime</text>
<path fill="#348023" d="M348.18 1019.84 C350.92 1016.20 355.29 1011.65 359.66 1008.92 C361.12 1008.37 363.31 1008.30 365.49 1008.30 L386.27 1008.30 C388.45 1008.30 389.00 1009.83 388.82 1010.92 C388.64 1012.56 387.36 1013.65 385.90 1013.65 L370.96 1013.76 L365.13 1041.86 C364.58 1044.23 363.31 1045.50 361.48 1045.50 C359.66 1045.50 358.57 1044.23 359.01 1042.22 L367.24 1013.76 L360.39 1013.83 C356.38 1014.20 353.10 1016.38 349.82 1020.38 C349.28 1021.04 348.36 1021.11 348.18 1019.84 Z"/>
<text transform="matrix(0.61449 0 0 0.53750 381.235 1059.312)" font-size="100" fill="#348023" >gen</text>
<path fill="#C93244" d="M983.88 1019.53 C986.62 1015.86 991.01 1011.28 995.39 1008.52 C996.85 1007.97 999.04 1007.90 1001.24 1007.90 L1022.06 1007.90 C1024.25 1007.90 1024.80 1009.44 1024.62 1010.54 C1024.43 1012.19 1023.16 1013.29 1021.69 1013.29 L1006.72 1013.40 L1000.87 1041.73 C1000.32 1044.12 999.04 1045.40 997.22 1045.40 C995.39 1045.40 994.29 1044.12 994.73 1042.10 L1002.99 1013.40 L996.12 1013.48 C992.10 1013.84 988.81 1016.05 985.53 1020.08 C984.98 1020.74 984.07 1020.82 983.88 1019.53 Z"/>
<text transform="matrix(0.61429 0 0 0.55417 1018.771 1058.346)" font-size="100" fill="#C93244" >mem</text>
<path fill="#000" d="M670.79 1110.11 C668.93 1111.07 663.28 1112.98 659.59 1115.85 C655.90 1118.72 651.48 1122.22 648.66 1127.32 C645.84 1132.42 643.29 1140.98 642.65 1146.45 C642.01 1151.91 643.11 1156.38 644.84 1160.11 C646.57 1163.84 649.94 1167.08 653.03 1168.85 C656.13 1170.63 659.13 1171.04 663.42 1170.77 C667.70 1170.49 673.89 1169.72 678.72 1167.21 C683.54 1164.71 688.73 1160.02 692.38 1155.74 C696.02 1151.46 698.89 1146.27 700.57 1141.53 C702.26 1136.79 702.94 1131.69 702.49 1127.32 C702.03 1122.95 700.35 1118.21 697.84 1115.30 C695.34 1112.39 690.83 1110.29 687.46 1109.84 C684.09 1109.38 680.54 1111.11 677.62 1112.57 C674.71 1114.03 672.16 1116.30 669.97 1118.58 C667.79 1120.86 665.86 1123.86 664.51 1126.23 C663.16 1128.60 662.32 1131.69 661.89 1132.79 L661.89 1132.79 C662.87 1132.38 666.35 1131.51 667.79 1130.33 C669.23 1129.14 669.06 1127.82 670.52 1125.68 C671.98 1123.54 674.62 1119.31 676.53 1117.49 C678.44 1115.66 679.81 1114.85 681.99 1114.75 C684.18 1114.66 687.55 1114.85 689.64 1116.94 C691.74 1119.03 693.83 1123.32 694.56 1127.32 C695.29 1131.33 695.02 1136.61 694.02 1140.98 C693.01 1145.36 691.10 1149.91 688.55 1153.55 C686.00 1157.19 682.18 1160.75 678.72 1162.84 C675.26 1164.94 671.25 1165.94 667.79 1166.12 C664.33 1166.30 660.77 1165.76 657.95 1163.93 C655.13 1162.11 652.21 1158.56 650.85 1155.19 C649.48 1151.82 649.39 1147.81 649.75 1143.72 C650.12 1139.62 651.21 1134.52 653.03 1130.60 C654.85 1126.68 657.72 1123.50 660.68 1120.22 C663.64 1116.94 669.11 1112.48 670.79 1110.93 Z"/>
<path fill="#000" d="M730.55 1105.80 C729.32 1107.18 725.59 1110.25 723.15 1114.07 C720.70 1117.88 717.77 1123.15 715.89 1128.70 C714.02 1134.24 711.90 1141.13 711.90 1147.35 C711.90 1153.57 714.02 1160.46 715.89 1166.01 C717.77 1171.55 720.70 1176.64 723.15 1180.64 C725.59 1184.64 729.32 1188.44 730.55 1190.00 L732.00 1188.68 C730.79 1186.98 726.86 1182.47 724.74 1178.44 C722.63 1174.42 720.51 1169.72 719.30 1164.54 C718.09 1159.36 717.49 1153.08 717.49 1147.35 C717.49 1141.62 718.09 1135.34 719.30 1130.16 C720.51 1124.98 722.63 1120.10 724.74 1116.26 C726.86 1112.42 730.79 1108.64 732.00 1107.12 Z"/>
<path d="M739.97 1143.71 C740.33 1142.50 741.18 1138.19 742.15 1136.42 C743.12 1134.66 744.64 1133.75 745.80 1133.15 C746.95 1132.54 748.10 1132.60 749.07 1132.78 C750.05 1132.96 751.20 1133.15 751.62 1134.24 C752.05 1135.33 751.81 1137.64 751.62 1139.34 C751.44 1141.04 750.71 1143.59 750.53 1144.44" fill="none" stroke="#000" stroke-width="2.60" stroke-linecap="round" stroke-linejoin="round"/><path d="M748.56 1140.80 L754.54 1140.80 L748.71 1168.11 L742.88 1168.11 Z" fill="#000"/><path d="M752.35 1145.17 C753.20 1144.07 755.63 1140.53 757.45 1138.61 C759.27 1136.69 761.34 1134.63 763.28 1133.66 C765.22 1132.68 767.29 1132.68 769.11 1132.78 C770.93 1132.88 772.93 1133.15 774.21 1134.24 C775.48 1135.33 776.45 1137.52 776.76 1139.34 C777.06 1141.16 776.15 1144.20 776.03 1145.17" fill="none" stroke="#000" stroke-width="3.00" stroke-linecap="round" stroke-linejoin="round"/><path d="M773.84 1140.80 L778.21 1140.80 L771.29 1162.65 L766.56 1162.65 Z" fill="#000"/><path d="M768.96 1160.46 C768.68 1161.31 767.14 1164.13 767.29 1165.56 C767.43 1167.00 768.68 1168.51 769.84 1169.06 C770.99 1169.61 772.63 1169.67 774.21 1168.84 C775.79 1168.02 777.75 1166.17 779.31 1164.11 C780.86 1162.04 782.83 1157.73 783.53 1156.46" fill="none" stroke="#000" stroke-width="2.60" stroke-linecap="round" stroke-linejoin="round"/>
<path fill="#000" d="M792.44 1105.80 C793.67 1107.18 797.38 1110.25 799.81 1114.07 C802.24 1117.88 805.16 1123.15 807.03 1128.70 C808.89 1134.24 811.00 1141.13 811.00 1147.35 C811.00 1153.57 808.89 1160.46 807.03 1166.01 C805.16 1171.55 802.24 1176.64 799.81 1180.64 C797.38 1184.64 793.67 1188.44 792.44 1190.00 L791.00 1188.68 C792.20 1186.98 796.11 1182.47 798.22 1178.44 C800.33 1174.42 802.43 1169.72 803.64 1164.54 C804.84 1159.36 805.44 1153.08 805.44 1147.35 C805.44 1141.62 804.84 1135.34 803.64 1130.16 C802.43 1124.98 800.33 1120.10 798.22 1116.26 C796.11 1112.42 792.20 1108.64 791.00 1107.12 Z"/>
</svg></body></html>
